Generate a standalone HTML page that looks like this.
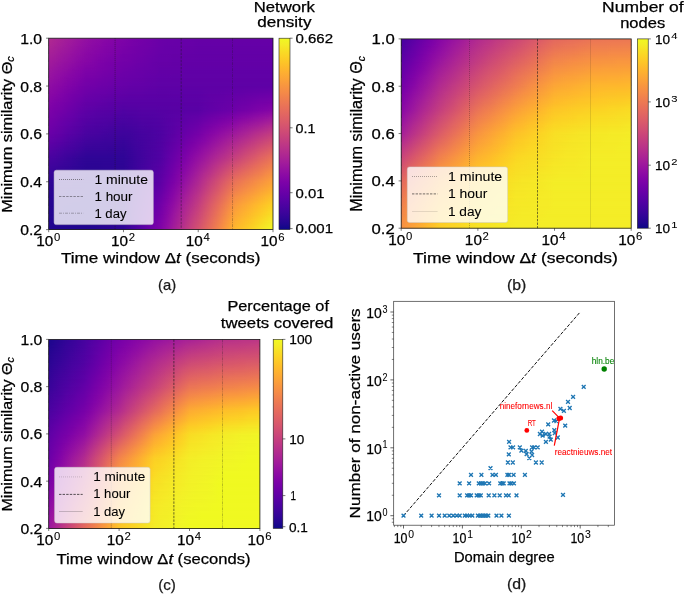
<!DOCTYPE html>
<html><head><meta charset="utf-8"><title>figure</title>
<style>html,body{margin:0;padding:0;background:#fff}svg{display:block;will-change:transform}text{font-family:"Liberation Sans",sans-serif}</style>
</head><body>
<svg width="685" height="594" viewBox="0 0 685 594">
<defs>
<linearGradient id="cb" x1="0" y1="0" x2="0" y2="1"><stop offset="0.0000" stop-color="#f0f921"/><stop offset="0.0312" stop-color="#f4ed27"/><stop offset="0.0625" stop-color="#f8df25"/><stop offset="0.0938" stop-color="#fcd225"/><stop offset="0.1250" stop-color="#fdc527"/><stop offset="0.1562" stop-color="#feb82c"/><stop offset="0.1875" stop-color="#fdac33"/><stop offset="0.2188" stop-color="#fba139"/><stop offset="0.2500" stop-color="#f89540"/><stop offset="0.2812" stop-color="#f58b47"/><stop offset="0.3125" stop-color="#f0804e"/><stop offset="0.3438" stop-color="#eb7655"/><stop offset="0.3750" stop-color="#e66c5c"/><stop offset="0.4062" stop-color="#e06363"/><stop offset="0.4375" stop-color="#da5a6a"/><stop offset="0.4688" stop-color="#d35171"/><stop offset="0.5000" stop-color="#cc4778"/><stop offset="0.5312" stop-color="#c43e7f"/><stop offset="0.5625" stop-color="#bc3587"/><stop offset="0.5938" stop-color="#b32c8e"/><stop offset="0.6250" stop-color="#aa2395"/><stop offset="0.6562" stop-color="#a01a9c"/><stop offset="0.6875" stop-color="#9511a1"/><stop offset="0.7188" stop-color="#8a09a5"/><stop offset="0.7500" stop-color="#7e03a8"/><stop offset="0.7812" stop-color="#7201a8"/><stop offset="0.8125" stop-color="#6600a7"/><stop offset="0.8438" stop-color="#5901a5"/><stop offset="0.8750" stop-color="#4c02a1"/><stop offset="0.9062" stop-color="#3f049c"/><stop offset="0.9375" stop-color="#310597"/><stop offset="0.9688" stop-color="#220690"/><stop offset="1.0000" stop-color="#0d0887"/></linearGradient>
<linearGradient id="vg" x1="0" y1="0" x2="0" y2="1"><stop offset="0" stop-color="#000"/><stop offset="1" stop-color="#fff"/></linearGradient>
<mask id="vm" maskContentUnits="objectBoundingBox"><rect x="-0.1" y="0" width="1.2" height="1" fill="url(#vg)"/></mask>
<linearGradient id="h1r0" gradientUnits="userSpaceOnUse" x1="48.7" x2="273.0" y1="0" y2="0"><stop offset="0.0000" stop-color="#b12a90"/><stop offset="0.0278" stop-color="#ac2694"/><stop offset="0.0556" stop-color="#a72197"/><stop offset="0.0833" stop-color="#a21d9a"/><stop offset="0.1111" stop-color="#9e199d"/><stop offset="0.1389" stop-color="#99159f"/><stop offset="0.1667" stop-color="#9410a2"/><stop offset="0.1944" stop-color="#8f0da4"/><stop offset="0.2222" stop-color="#8d0ba5"/><stop offset="0.2500" stop-color="#8808a6"/><stop offset="0.2778" stop-color="#8606a6"/><stop offset="0.3056" stop-color="#8104a7"/><stop offset="0.3333" stop-color="#7e03a8"/><stop offset="0.3611" stop-color="#7a02a8"/><stop offset="0.3889" stop-color="#7701a8"/><stop offset="0.4167" stop-color="#7401a8"/><stop offset="0.4444" stop-color="#7100a8"/><stop offset="0.4722" stop-color="#6e00a8"/><stop offset="0.5000" stop-color="#6a00a8"/><stop offset="0.5278" stop-color="#6900a8"/><stop offset="0.5556" stop-color="#6900a8"/><stop offset="0.5833" stop-color="#6700a8"/><stop offset="0.6111" stop-color="#6700a8"/><stop offset="0.6389" stop-color="#6700a8"/><stop offset="0.6667" stop-color="#6600a7"/><stop offset="0.6944" stop-color="#6600a7"/><stop offset="0.7222" stop-color="#6600a7"/><stop offset="0.7500" stop-color="#6600a7"/><stop offset="0.7778" stop-color="#6600a7"/><stop offset="0.8056" stop-color="#6600a7"/><stop offset="0.8333" stop-color="#6600a7"/><stop offset="0.8611" stop-color="#6600a7"/><stop offset="0.8889" stop-color="#6600a7"/><stop offset="0.9167" stop-color="#6600a7"/><stop offset="0.9444" stop-color="#6600a7"/><stop offset="0.9722" stop-color="#6600a7"/><stop offset="1.0000" stop-color="#6600a7"/></linearGradient>
<linearGradient id="h1r1" gradientUnits="userSpaceOnUse" x1="48.7" x2="273.0" y1="0" y2="0"><stop offset="0.0000" stop-color="#ac2694"/><stop offset="0.0278" stop-color="#a72197"/><stop offset="0.0556" stop-color="#a21d9a"/><stop offset="0.0833" stop-color="#9e199d"/><stop offset="0.1111" stop-color="#99159f"/><stop offset="0.1389" stop-color="#9410a2"/><stop offset="0.1667" stop-color="#8f0da4"/><stop offset="0.1944" stop-color="#8b0aa5"/><stop offset="0.2222" stop-color="#8808a6"/><stop offset="0.2500" stop-color="#8405a7"/><stop offset="0.2778" stop-color="#8104a7"/><stop offset="0.3056" stop-color="#7d03a8"/><stop offset="0.3333" stop-color="#7a02a8"/><stop offset="0.3611" stop-color="#7701a8"/><stop offset="0.3889" stop-color="#7401a8"/><stop offset="0.4167" stop-color="#7100a8"/><stop offset="0.4444" stop-color="#6f00a8"/><stop offset="0.4722" stop-color="#6c00a8"/><stop offset="0.5000" stop-color="#6900a8"/><stop offset="0.5278" stop-color="#6700a8"/><stop offset="0.5556" stop-color="#6700a8"/><stop offset="0.5833" stop-color="#6700a8"/><stop offset="0.6111" stop-color="#6600a7"/><stop offset="0.6389" stop-color="#6600a7"/><stop offset="0.6667" stop-color="#6400a7"/><stop offset="0.6944" stop-color="#6400a7"/><stop offset="0.7222" stop-color="#6400a7"/><stop offset="0.7500" stop-color="#6400a7"/><stop offset="0.7778" stop-color="#6400a7"/><stop offset="0.8056" stop-color="#6400a7"/><stop offset="0.8333" stop-color="#6400a7"/><stop offset="0.8611" stop-color="#6400a7"/><stop offset="0.8889" stop-color="#6400a7"/><stop offset="0.9167" stop-color="#6400a7"/><stop offset="0.9444" stop-color="#6400a7"/><stop offset="0.9722" stop-color="#6400a7"/><stop offset="1.0000" stop-color="#6400a7"/></linearGradient>
<linearGradient id="h1r2" gradientUnits="userSpaceOnUse" x1="48.7" x2="273.0" y1="0" y2="0"><stop offset="0.0000" stop-color="#a62098"/><stop offset="0.0278" stop-color="#a21d9a"/><stop offset="0.0556" stop-color="#9d189d"/><stop offset="0.0833" stop-color="#99159f"/><stop offset="0.1111" stop-color="#9410a2"/><stop offset="0.1389" stop-color="#8f0da4"/><stop offset="0.1667" stop-color="#8a09a5"/><stop offset="0.1944" stop-color="#8707a6"/><stop offset="0.2222" stop-color="#8405a7"/><stop offset="0.2500" stop-color="#8004a8"/><stop offset="0.2778" stop-color="#7d03a8"/><stop offset="0.3056" stop-color="#7a02a8"/><stop offset="0.3333" stop-color="#7501a8"/><stop offset="0.3611" stop-color="#7401a8"/><stop offset="0.3889" stop-color="#7100a8"/><stop offset="0.4167" stop-color="#6f00a8"/><stop offset="0.4444" stop-color="#6c00a8"/><stop offset="0.4722" stop-color="#6a00a8"/><stop offset="0.5000" stop-color="#6700a8"/><stop offset="0.5278" stop-color="#6700a8"/><stop offset="0.5556" stop-color="#6600a7"/><stop offset="0.5833" stop-color="#6600a7"/><stop offset="0.6111" stop-color="#6400a7"/><stop offset="0.6389" stop-color="#6400a7"/><stop offset="0.6667" stop-color="#6300a7"/><stop offset="0.6944" stop-color="#6300a7"/><stop offset="0.7222" stop-color="#6300a7"/><stop offset="0.7500" stop-color="#6300a7"/><stop offset="0.7778" stop-color="#6300a7"/><stop offset="0.8056" stop-color="#6300a7"/><stop offset="0.8333" stop-color="#6300a7"/><stop offset="0.8611" stop-color="#6300a7"/><stop offset="0.8889" stop-color="#6300a7"/><stop offset="0.9167" stop-color="#6300a7"/><stop offset="0.9444" stop-color="#6300a7"/><stop offset="0.9722" stop-color="#6300a7"/><stop offset="1.0000" stop-color="#6300a7"/></linearGradient>
<linearGradient id="h1r3" gradientUnits="userSpaceOnUse" x1="48.7" x2="273.0" y1="0" y2="0"><stop offset="0.0000" stop-color="#a11b9b"/><stop offset="0.0278" stop-color="#9d189d"/><stop offset="0.0556" stop-color="#9814a0"/><stop offset="0.0833" stop-color="#9410a2"/><stop offset="0.1111" stop-color="#8f0da4"/><stop offset="0.1389" stop-color="#8a09a5"/><stop offset="0.1667" stop-color="#8606a6"/><stop offset="0.1944" stop-color="#8305a7"/><stop offset="0.2222" stop-color="#7e03a8"/><stop offset="0.2500" stop-color="#7b02a8"/><stop offset="0.2778" stop-color="#7801a8"/><stop offset="0.3056" stop-color="#7501a8"/><stop offset="0.3333" stop-color="#7201a8"/><stop offset="0.3611" stop-color="#7100a8"/><stop offset="0.3889" stop-color="#6e00a8"/><stop offset="0.4167" stop-color="#6c00a8"/><stop offset="0.4444" stop-color="#6a00a8"/><stop offset="0.4722" stop-color="#6700a8"/><stop offset="0.5000" stop-color="#6600a7"/><stop offset="0.5278" stop-color="#6600a7"/><stop offset="0.5556" stop-color="#6400a7"/><stop offset="0.5833" stop-color="#6400a7"/><stop offset="0.6111" stop-color="#6300a7"/><stop offset="0.6389" stop-color="#6300a7"/><stop offset="0.6667" stop-color="#6300a7"/><stop offset="0.6944" stop-color="#6300a7"/><stop offset="0.7222" stop-color="#6300a7"/><stop offset="0.7500" stop-color="#6300a7"/><stop offset="0.7778" stop-color="#6300a7"/><stop offset="0.8056" stop-color="#6300a7"/><stop offset="0.8333" stop-color="#6300a7"/><stop offset="0.8611" stop-color="#6300a7"/><stop offset="0.8889" stop-color="#6300a7"/><stop offset="0.9167" stop-color="#6300a7"/><stop offset="0.9444" stop-color="#6300a7"/><stop offset="0.9722" stop-color="#6300a7"/><stop offset="1.0000" stop-color="#6300a7"/></linearGradient>
<linearGradient id="h1r4" gradientUnits="userSpaceOnUse" x1="48.7" x2="273.0" y1="0" y2="0"><stop offset="0.0000" stop-color="#9c179e"/><stop offset="0.0278" stop-color="#9613a1"/><stop offset="0.0556" stop-color="#920fa3"/><stop offset="0.0833" stop-color="#8e0ca4"/><stop offset="0.1111" stop-color="#8808a6"/><stop offset="0.1389" stop-color="#8405a7"/><stop offset="0.1667" stop-color="#7e03a8"/><stop offset="0.1944" stop-color="#7d03a8"/><stop offset="0.2222" stop-color="#7a02a8"/><stop offset="0.2500" stop-color="#7701a8"/><stop offset="0.2778" stop-color="#7401a8"/><stop offset="0.3056" stop-color="#7100a8"/><stop offset="0.3333" stop-color="#6e00a8"/><stop offset="0.3611" stop-color="#6c00a8"/><stop offset="0.3889" stop-color="#6a00a8"/><stop offset="0.4167" stop-color="#6900a8"/><stop offset="0.4444" stop-color="#6700a8"/><stop offset="0.4722" stop-color="#6600a7"/><stop offset="0.5000" stop-color="#6300a7"/><stop offset="0.5278" stop-color="#6300a7"/><stop offset="0.5556" stop-color="#6300a7"/><stop offset="0.5833" stop-color="#6300a7"/><stop offset="0.6111" stop-color="#6100a7"/><stop offset="0.6389" stop-color="#6100a7"/><stop offset="0.6667" stop-color="#6100a7"/><stop offset="0.6944" stop-color="#6100a7"/><stop offset="0.7222" stop-color="#6100a7"/><stop offset="0.7500" stop-color="#6100a7"/><stop offset="0.7778" stop-color="#6100a7"/><stop offset="0.8056" stop-color="#6100a7"/><stop offset="0.8333" stop-color="#6100a7"/><stop offset="0.8611" stop-color="#6100a7"/><stop offset="0.8889" stop-color="#6100a7"/><stop offset="0.9167" stop-color="#6100a7"/><stop offset="0.9444" stop-color="#6100a7"/><stop offset="0.9722" stop-color="#6100a7"/><stop offset="1.0000" stop-color="#6100a7"/></linearGradient>
<linearGradient id="h1r5" gradientUnits="userSpaceOnUse" x1="48.7" x2="273.0" y1="0" y2="0"><stop offset="0.0000" stop-color="#9613a1"/><stop offset="0.0278" stop-color="#910ea3"/><stop offset="0.0556" stop-color="#8d0ba5"/><stop offset="0.0833" stop-color="#8707a6"/><stop offset="0.1111" stop-color="#8305a7"/><stop offset="0.1389" stop-color="#7e03a8"/><stop offset="0.1667" stop-color="#7801a8"/><stop offset="0.1944" stop-color="#7701a8"/><stop offset="0.2222" stop-color="#7401a8"/><stop offset="0.2500" stop-color="#7100a8"/><stop offset="0.2778" stop-color="#6f00a8"/><stop offset="0.3056" stop-color="#6c00a8"/><stop offset="0.3333" stop-color="#6a00a8"/><stop offset="0.3611" stop-color="#6900a8"/><stop offset="0.3889" stop-color="#6700a8"/><stop offset="0.4167" stop-color="#6600a7"/><stop offset="0.4444" stop-color="#6400a7"/><stop offset="0.4722" stop-color="#6300a7"/><stop offset="0.5000" stop-color="#6100a7"/><stop offset="0.5278" stop-color="#6100a7"/><stop offset="0.5556" stop-color="#6001a6"/><stop offset="0.5833" stop-color="#6001a6"/><stop offset="0.6111" stop-color="#6001a6"/><stop offset="0.6389" stop-color="#6001a6"/><stop offset="0.6667" stop-color="#6001a6"/><stop offset="0.6944" stop-color="#6001a6"/><stop offset="0.7222" stop-color="#6001a6"/><stop offset="0.7500" stop-color="#6001a6"/><stop offset="0.7778" stop-color="#6001a6"/><stop offset="0.8056" stop-color="#6001a6"/><stop offset="0.8333" stop-color="#6001a6"/><stop offset="0.8611" stop-color="#6001a6"/><stop offset="0.8889" stop-color="#6001a6"/><stop offset="0.9167" stop-color="#6001a6"/><stop offset="0.9444" stop-color="#6001a6"/><stop offset="0.9722" stop-color="#6001a6"/><stop offset="1.0000" stop-color="#6001a6"/></linearGradient>
<linearGradient id="h1r6" gradientUnits="userSpaceOnUse" x1="48.7" x2="273.0" y1="0" y2="0"><stop offset="0.0000" stop-color="#8f0da4"/><stop offset="0.0278" stop-color="#8b0aa5"/><stop offset="0.0556" stop-color="#8707a6"/><stop offset="0.0833" stop-color="#8104a7"/><stop offset="0.1111" stop-color="#7d03a8"/><stop offset="0.1389" stop-color="#7701a8"/><stop offset="0.1667" stop-color="#7201a8"/><stop offset="0.1944" stop-color="#7100a8"/><stop offset="0.2222" stop-color="#6e00a8"/><stop offset="0.2500" stop-color="#6c00a8"/><stop offset="0.2778" stop-color="#6a00a8"/><stop offset="0.3056" stop-color="#6700a8"/><stop offset="0.3333" stop-color="#6600a7"/><stop offset="0.3611" stop-color="#6400a7"/><stop offset="0.3889" stop-color="#6300a7"/><stop offset="0.4167" stop-color="#6300a7"/><stop offset="0.4444" stop-color="#6100a7"/><stop offset="0.4722" stop-color="#6001a6"/><stop offset="0.5000" stop-color="#5e01a6"/><stop offset="0.5278" stop-color="#5e01a6"/><stop offset="0.5556" stop-color="#5e01a6"/><stop offset="0.5833" stop-color="#5e01a6"/><stop offset="0.6111" stop-color="#5e01a6"/><stop offset="0.6389" stop-color="#5e01a6"/><stop offset="0.6667" stop-color="#5e01a6"/><stop offset="0.6944" stop-color="#5e01a6"/><stop offset="0.7222" stop-color="#5e01a6"/><stop offset="0.7500" stop-color="#5e01a6"/><stop offset="0.7778" stop-color="#5e01a6"/><stop offset="0.8056" stop-color="#5e01a6"/><stop offset="0.8333" stop-color="#5e01a6"/><stop offset="0.8611" stop-color="#5e01a6"/><stop offset="0.8889" stop-color="#5e01a6"/><stop offset="0.9167" stop-color="#5e01a6"/><stop offset="0.9444" stop-color="#5e01a6"/><stop offset="0.9722" stop-color="#5e01a6"/><stop offset="1.0000" stop-color="#5e01a6"/></linearGradient>
<linearGradient id="h1r7" gradientUnits="userSpaceOnUse" x1="48.7" x2="273.0" y1="0" y2="0"><stop offset="0.0000" stop-color="#8a09a5"/><stop offset="0.0278" stop-color="#8606a6"/><stop offset="0.0556" stop-color="#8004a8"/><stop offset="0.0833" stop-color="#7b02a8"/><stop offset="0.1111" stop-color="#7501a8"/><stop offset="0.1389" stop-color="#7100a8"/><stop offset="0.1667" stop-color="#6c00a8"/><stop offset="0.1944" stop-color="#6900a8"/><stop offset="0.2222" stop-color="#6700a8"/><stop offset="0.2500" stop-color="#6600a7"/><stop offset="0.2778" stop-color="#6300a7"/><stop offset="0.3056" stop-color="#6100a7"/><stop offset="0.3333" stop-color="#6001a6"/><stop offset="0.3611" stop-color="#5e01a6"/><stop offset="0.3889" stop-color="#5e01a6"/><stop offset="0.4167" stop-color="#5e01a6"/><stop offset="0.4444" stop-color="#5c01a6"/><stop offset="0.4722" stop-color="#5c01a6"/><stop offset="0.5000" stop-color="#5b01a5"/><stop offset="0.5278" stop-color="#5b01a5"/><stop offset="0.5556" stop-color="#5c01a6"/><stop offset="0.5833" stop-color="#5c01a6"/><stop offset="0.6111" stop-color="#5c01a6"/><stop offset="0.6389" stop-color="#5c01a6"/><stop offset="0.6667" stop-color="#5c01a6"/><stop offset="0.6944" stop-color="#5e01a6"/><stop offset="0.7222" stop-color="#6001a6"/><stop offset="0.7500" stop-color="#6001a6"/><stop offset="0.7778" stop-color="#6100a7"/><stop offset="0.8056" stop-color="#6300a7"/><stop offset="0.8333" stop-color="#6300a7"/><stop offset="0.8611" stop-color="#6400a7"/><stop offset="0.8889" stop-color="#6600a7"/><stop offset="0.9167" stop-color="#6700a8"/><stop offset="0.9444" stop-color="#6900a8"/><stop offset="0.9722" stop-color="#6a00a8"/><stop offset="1.0000" stop-color="#6c00a8"/></linearGradient>
<linearGradient id="h1r8" gradientUnits="userSpaceOnUse" x1="48.7" x2="273.0" y1="0" y2="0"><stop offset="0.0000" stop-color="#8405a7"/><stop offset="0.0278" stop-color="#7e03a8"/><stop offset="0.0556" stop-color="#7a02a8"/><stop offset="0.0833" stop-color="#7501a8"/><stop offset="0.1111" stop-color="#6f00a8"/><stop offset="0.1389" stop-color="#6a00a8"/><stop offset="0.1667" stop-color="#6400a7"/><stop offset="0.1944" stop-color="#6300a7"/><stop offset="0.2222" stop-color="#6100a7"/><stop offset="0.2500" stop-color="#5e01a6"/><stop offset="0.2778" stop-color="#5c01a6"/><stop offset="0.3056" stop-color="#5b01a5"/><stop offset="0.3333" stop-color="#5901a5"/><stop offset="0.3611" stop-color="#5901a5"/><stop offset="0.3889" stop-color="#5901a5"/><stop offset="0.4167" stop-color="#5901a5"/><stop offset="0.4444" stop-color="#5901a5"/><stop offset="0.4722" stop-color="#5901a5"/><stop offset="0.5000" stop-color="#5901a5"/><stop offset="0.5278" stop-color="#5901a5"/><stop offset="0.5556" stop-color="#5901a5"/><stop offset="0.5833" stop-color="#5901a5"/><stop offset="0.6111" stop-color="#5b01a5"/><stop offset="0.6389" stop-color="#5b01a5"/><stop offset="0.6667" stop-color="#5b01a5"/><stop offset="0.6944" stop-color="#5e01a6"/><stop offset="0.7222" stop-color="#6001a6"/><stop offset="0.7500" stop-color="#6300a7"/><stop offset="0.7778" stop-color="#6400a7"/><stop offset="0.8056" stop-color="#6600a7"/><stop offset="0.8333" stop-color="#6900a8"/><stop offset="0.8611" stop-color="#6c00a8"/><stop offset="0.8889" stop-color="#6e00a8"/><stop offset="0.9167" stop-color="#7100a8"/><stop offset="0.9444" stop-color="#7401a8"/><stop offset="0.9722" stop-color="#7501a8"/><stop offset="1.0000" stop-color="#7801a8"/></linearGradient>
<linearGradient id="h1r9" gradientUnits="userSpaceOnUse" x1="48.7" x2="273.0" y1="0" y2="0"><stop offset="0.0000" stop-color="#7d03a8"/><stop offset="0.0278" stop-color="#7801a8"/><stop offset="0.0556" stop-color="#7401a8"/><stop offset="0.0833" stop-color="#6e00a8"/><stop offset="0.1111" stop-color="#6900a8"/><stop offset="0.1389" stop-color="#6300a7"/><stop offset="0.1667" stop-color="#5e01a6"/><stop offset="0.1944" stop-color="#5c01a6"/><stop offset="0.2222" stop-color="#5901a5"/><stop offset="0.2500" stop-color="#5801a4"/><stop offset="0.2778" stop-color="#5601a4"/><stop offset="0.3056" stop-color="#5502a4"/><stop offset="0.3333" stop-color="#5102a3"/><stop offset="0.3611" stop-color="#5302a3"/><stop offset="0.3889" stop-color="#5302a3"/><stop offset="0.4167" stop-color="#5502a4"/><stop offset="0.4444" stop-color="#5502a4"/><stop offset="0.4722" stop-color="#5502a4"/><stop offset="0.5000" stop-color="#5601a4"/><stop offset="0.5278" stop-color="#5601a4"/><stop offset="0.5556" stop-color="#5801a4"/><stop offset="0.5833" stop-color="#5801a4"/><stop offset="0.6111" stop-color="#5901a5"/><stop offset="0.6389" stop-color="#5901a5"/><stop offset="0.6667" stop-color="#5901a5"/><stop offset="0.6944" stop-color="#5e01a6"/><stop offset="0.7222" stop-color="#6100a7"/><stop offset="0.7500" stop-color="#6400a7"/><stop offset="0.7778" stop-color="#6700a8"/><stop offset="0.8056" stop-color="#6a00a8"/><stop offset="0.8333" stop-color="#6e00a8"/><stop offset="0.8611" stop-color="#7201a8"/><stop offset="0.8889" stop-color="#7501a8"/><stop offset="0.9167" stop-color="#7a02a8"/><stop offset="0.9444" stop-color="#7e03a8"/><stop offset="0.9722" stop-color="#8104a7"/><stop offset="1.0000" stop-color="#8606a6"/></linearGradient>
<linearGradient id="h1r10" gradientUnits="userSpaceOnUse" x1="48.7" x2="273.0" y1="0" y2="0"><stop offset="0.0000" stop-color="#7701a8"/><stop offset="0.0278" stop-color="#7201a8"/><stop offset="0.0556" stop-color="#6c00a8"/><stop offset="0.0833" stop-color="#6700a8"/><stop offset="0.1111" stop-color="#6300a7"/><stop offset="0.1389" stop-color="#5c01a6"/><stop offset="0.1667" stop-color="#5801a4"/><stop offset="0.1944" stop-color="#5502a4"/><stop offset="0.2222" stop-color="#5302a3"/><stop offset="0.2500" stop-color="#5102a3"/><stop offset="0.2778" stop-color="#5002a2"/><stop offset="0.3056" stop-color="#4c02a1"/><stop offset="0.3333" stop-color="#4b03a1"/><stop offset="0.3611" stop-color="#4c02a1"/><stop offset="0.3889" stop-color="#4e02a2"/><stop offset="0.4167" stop-color="#5002a2"/><stop offset="0.4444" stop-color="#5002a2"/><stop offset="0.4722" stop-color="#5102a3"/><stop offset="0.5000" stop-color="#5302a3"/><stop offset="0.5278" stop-color="#5601a4"/><stop offset="0.5556" stop-color="#5901a5"/><stop offset="0.5833" stop-color="#5b01a5"/><stop offset="0.6111" stop-color="#5e01a6"/><stop offset="0.6389" stop-color="#6100a7"/><stop offset="0.6667" stop-color="#6300a7"/><stop offset="0.6944" stop-color="#6900a8"/><stop offset="0.7222" stop-color="#6e00a8"/><stop offset="0.7500" stop-color="#7201a8"/><stop offset="0.7778" stop-color="#7701a8"/><stop offset="0.8056" stop-color="#7b02a8"/><stop offset="0.8333" stop-color="#8004a8"/><stop offset="0.8611" stop-color="#8606a6"/><stop offset="0.8889" stop-color="#8a09a5"/><stop offset="0.9167" stop-color="#8f0da4"/><stop offset="0.9444" stop-color="#9410a2"/><stop offset="0.9722" stop-color="#9814a0"/><stop offset="1.0000" stop-color="#9d189d"/></linearGradient>
<linearGradient id="h1r11" gradientUnits="userSpaceOnUse" x1="48.7" x2="273.0" y1="0" y2="0"><stop offset="0.0000" stop-color="#7100a8"/><stop offset="0.0278" stop-color="#6c00a8"/><stop offset="0.0556" stop-color="#6600a7"/><stop offset="0.0833" stop-color="#6100a7"/><stop offset="0.1111" stop-color="#5b01a5"/><stop offset="0.1389" stop-color="#5601a4"/><stop offset="0.1667" stop-color="#5002a2"/><stop offset="0.1944" stop-color="#4e02a2"/><stop offset="0.2222" stop-color="#4c02a1"/><stop offset="0.2500" stop-color="#4b03a1"/><stop offset="0.2778" stop-color="#48039f"/><stop offset="0.3056" stop-color="#46039f"/><stop offset="0.3333" stop-color="#44039e"/><stop offset="0.3611" stop-color="#46039f"/><stop offset="0.3889" stop-color="#48039f"/><stop offset="0.4167" stop-color="#4b03a1"/><stop offset="0.4444" stop-color="#4c02a1"/><stop offset="0.4722" stop-color="#4e02a2"/><stop offset="0.5000" stop-color="#5002a2"/><stop offset="0.5278" stop-color="#5502a4"/><stop offset="0.5556" stop-color="#5901a5"/><stop offset="0.5833" stop-color="#5e01a6"/><stop offset="0.6111" stop-color="#6300a7"/><stop offset="0.6389" stop-color="#6700a8"/><stop offset="0.6667" stop-color="#6c00a8"/><stop offset="0.6944" stop-color="#7401a8"/><stop offset="0.7222" stop-color="#7a02a8"/><stop offset="0.7500" stop-color="#8004a8"/><stop offset="0.7778" stop-color="#8606a6"/><stop offset="0.8056" stop-color="#8b0aa5"/><stop offset="0.8333" stop-color="#910ea3"/><stop offset="0.8611" stop-color="#9814a0"/><stop offset="0.8889" stop-color="#9d189d"/><stop offset="0.9167" stop-color="#a21d9a"/><stop offset="0.9444" stop-color="#a72197"/><stop offset="0.9722" stop-color="#ad2793"/><stop offset="1.0000" stop-color="#b22b8f"/></linearGradient>
<linearGradient id="h1r12" gradientUnits="userSpaceOnUse" x1="48.7" x2="273.0" y1="0" y2="0"><stop offset="0.0000" stop-color="#6a00a8"/><stop offset="0.0278" stop-color="#6400a7"/><stop offset="0.0556" stop-color="#6001a6"/><stop offset="0.0833" stop-color="#5901a5"/><stop offset="0.1111" stop-color="#5502a4"/><stop offset="0.1389" stop-color="#5002a2"/><stop offset="0.1667" stop-color="#4903a0"/><stop offset="0.1944" stop-color="#48039f"/><stop offset="0.2222" stop-color="#46039f"/><stop offset="0.2500" stop-color="#43039e"/><stop offset="0.2778" stop-color="#41049d"/><stop offset="0.3056" stop-color="#3f049c"/><stop offset="0.3333" stop-color="#3e049c"/><stop offset="0.3611" stop-color="#3f049c"/><stop offset="0.3889" stop-color="#43039e"/><stop offset="0.4167" stop-color="#46039f"/><stop offset="0.4444" stop-color="#48039f"/><stop offset="0.4722" stop-color="#4b03a1"/><stop offset="0.5000" stop-color="#4e02a2"/><stop offset="0.5278" stop-color="#5502a4"/><stop offset="0.5556" stop-color="#5b01a5"/><stop offset="0.5833" stop-color="#6300a7"/><stop offset="0.6111" stop-color="#6900a8"/><stop offset="0.6389" stop-color="#6f00a8"/><stop offset="0.6667" stop-color="#7501a8"/><stop offset="0.6944" stop-color="#7e03a8"/><stop offset="0.7222" stop-color="#8606a6"/><stop offset="0.7500" stop-color="#8d0ba5"/><stop offset="0.7778" stop-color="#9410a2"/><stop offset="0.8056" stop-color="#9a169f"/><stop offset="0.8333" stop-color="#a11b9b"/><stop offset="0.8611" stop-color="#a72197"/><stop offset="0.8889" stop-color="#ad2793"/><stop offset="0.9167" stop-color="#b42e8d"/><stop offset="0.9444" stop-color="#ba3388"/><stop offset="0.9722" stop-color="#bf3984"/><stop offset="1.0000" stop-color="#c43e7f"/></linearGradient>
<linearGradient id="h1r13" gradientUnits="userSpaceOnUse" x1="48.7" x2="273.0" y1="0" y2="0"><stop offset="0.0000" stop-color="#6001a6"/><stop offset="0.0278" stop-color="#5b01a5"/><stop offset="0.0556" stop-color="#5601a4"/><stop offset="0.0833" stop-color="#5002a2"/><stop offset="0.1111" stop-color="#4b03a1"/><stop offset="0.1389" stop-color="#46039f"/><stop offset="0.1667" stop-color="#41049d"/><stop offset="0.1944" stop-color="#3f049c"/><stop offset="0.2222" stop-color="#3e049c"/><stop offset="0.2500" stop-color="#3c049b"/><stop offset="0.2778" stop-color="#3c049b"/><stop offset="0.3056" stop-color="#3a049a"/><stop offset="0.3333" stop-color="#38049a"/><stop offset="0.3611" stop-color="#3c049b"/><stop offset="0.3889" stop-color="#41049d"/><stop offset="0.4167" stop-color="#44039e"/><stop offset="0.4444" stop-color="#48039f"/><stop offset="0.4722" stop-color="#4b03a1"/><stop offset="0.5000" stop-color="#5002a2"/><stop offset="0.5278" stop-color="#5801a4"/><stop offset="0.5556" stop-color="#6001a6"/><stop offset="0.5833" stop-color="#6700a8"/><stop offset="0.6111" stop-color="#7100a8"/><stop offset="0.6389" stop-color="#7801a8"/><stop offset="0.6667" stop-color="#8004a8"/><stop offset="0.6944" stop-color="#8808a6"/><stop offset="0.7222" stop-color="#910ea3"/><stop offset="0.7500" stop-color="#99159f"/><stop offset="0.7778" stop-color="#a11b9b"/><stop offset="0.8056" stop-color="#a82296"/><stop offset="0.8333" stop-color="#ae2892"/><stop offset="0.8611" stop-color="#b52f8c"/><stop offset="0.8889" stop-color="#bc3587"/><stop offset="0.9167" stop-color="#c23c81"/><stop offset="0.9444" stop-color="#c8437b"/><stop offset="0.9722" stop-color="#cd4a76"/><stop offset="1.0000" stop-color="#d24f71"/></linearGradient>
<linearGradient id="h1r14" gradientUnits="userSpaceOnUse" x1="48.7" x2="273.0" y1="0" y2="0"><stop offset="0.0000" stop-color="#5502a4"/><stop offset="0.0278" stop-color="#5002a2"/><stop offset="0.0556" stop-color="#4b03a1"/><stop offset="0.0833" stop-color="#46039f"/><stop offset="0.1111" stop-color="#43039e"/><stop offset="0.1389" stop-color="#3e049c"/><stop offset="0.1667" stop-color="#38049a"/><stop offset="0.1944" stop-color="#370499"/><stop offset="0.2222" stop-color="#370499"/><stop offset="0.2500" stop-color="#370499"/><stop offset="0.2778" stop-color="#350498"/><stop offset="0.3056" stop-color="#350498"/><stop offset="0.3333" stop-color="#330597"/><stop offset="0.3611" stop-color="#38049a"/><stop offset="0.3889" stop-color="#3e049c"/><stop offset="0.4167" stop-color="#43039e"/><stop offset="0.4444" stop-color="#48039f"/><stop offset="0.4722" stop-color="#4c02a1"/><stop offset="0.5000" stop-color="#5102a3"/><stop offset="0.5278" stop-color="#5b01a5"/><stop offset="0.5556" stop-color="#6400a7"/><stop offset="0.5833" stop-color="#6e00a8"/><stop offset="0.6111" stop-color="#7801a8"/><stop offset="0.6389" stop-color="#8104a7"/><stop offset="0.6667" stop-color="#8a09a5"/><stop offset="0.6944" stop-color="#9410a2"/><stop offset="0.7222" stop-color="#9c179e"/><stop offset="0.7500" stop-color="#a51f99"/><stop offset="0.7778" stop-color="#ac2694"/><stop offset="0.8056" stop-color="#b42e8d"/><stop offset="0.8333" stop-color="#bb3488"/><stop offset="0.8611" stop-color="#c23c81"/><stop offset="0.8889" stop-color="#c9447a"/><stop offset="0.9167" stop-color="#ce4b75"/><stop offset="0.9444" stop-color="#d5536f"/><stop offset="0.9722" stop-color="#da5a6a"/><stop offset="1.0000" stop-color="#df6263"/></linearGradient>
<linearGradient id="h1r15" gradientUnits="userSpaceOnUse" x1="48.7" x2="273.0" y1="0" y2="0"><stop offset="0.0000" stop-color="#4903a0"/><stop offset="0.0278" stop-color="#46039f"/><stop offset="0.0556" stop-color="#41049d"/><stop offset="0.0833" stop-color="#3c049b"/><stop offset="0.1111" stop-color="#38049a"/><stop offset="0.1389" stop-color="#330597"/><stop offset="0.1667" stop-color="#2f0596"/><stop offset="0.1944" stop-color="#2f0596"/><stop offset="0.2222" stop-color="#2f0596"/><stop offset="0.2500" stop-color="#2f0596"/><stop offset="0.2778" stop-color="#2f0596"/><stop offset="0.3056" stop-color="#2f0596"/><stop offset="0.3333" stop-color="#2f0596"/><stop offset="0.3611" stop-color="#350498"/><stop offset="0.3889" stop-color="#3c049b"/><stop offset="0.4167" stop-color="#41049d"/><stop offset="0.4444" stop-color="#48039f"/><stop offset="0.4722" stop-color="#4c02a1"/><stop offset="0.5000" stop-color="#5102a3"/><stop offset="0.5278" stop-color="#5e01a6"/><stop offset="0.5556" stop-color="#6900a8"/><stop offset="0.5833" stop-color="#7401a8"/><stop offset="0.6111" stop-color="#7e03a8"/><stop offset="0.6389" stop-color="#8a09a5"/><stop offset="0.6667" stop-color="#9410a2"/><stop offset="0.6944" stop-color="#9d189d"/><stop offset="0.7222" stop-color="#a72197"/><stop offset="0.7500" stop-color="#b02991"/><stop offset="0.7778" stop-color="#b7318a"/><stop offset="0.8056" stop-color="#bf3984"/><stop offset="0.8333" stop-color="#c7427c"/><stop offset="0.8611" stop-color="#cd4a76"/><stop offset="0.8889" stop-color="#d45270"/><stop offset="0.9167" stop-color="#da5a6a"/><stop offset="0.9444" stop-color="#e06363"/><stop offset="0.9722" stop-color="#e56b5d"/><stop offset="1.0000" stop-color="#ea7457"/></linearGradient>
<linearGradient id="h1r16" gradientUnits="userSpaceOnUse" x1="48.7" x2="273.0" y1="0" y2="0"><stop offset="0.0000" stop-color="#41049d"/><stop offset="0.0278" stop-color="#3e049c"/><stop offset="0.0556" stop-color="#3a049a"/><stop offset="0.0833" stop-color="#370499"/><stop offset="0.1111" stop-color="#330597"/><stop offset="0.1389" stop-color="#2f0596"/><stop offset="0.1667" stop-color="#2c0594"/><stop offset="0.1944" stop-color="#2c0594"/><stop offset="0.2222" stop-color="#2c0594"/><stop offset="0.2500" stop-color="#2e0595"/><stop offset="0.2778" stop-color="#2e0595"/><stop offset="0.3056" stop-color="#2e0595"/><stop offset="0.3333" stop-color="#2e0595"/><stop offset="0.3611" stop-color="#350498"/><stop offset="0.3889" stop-color="#3c049b"/><stop offset="0.4167" stop-color="#43039e"/><stop offset="0.4444" stop-color="#4903a0"/><stop offset="0.4722" stop-color="#5002a2"/><stop offset="0.5000" stop-color="#5601a4"/><stop offset="0.5278" stop-color="#6300a7"/><stop offset="0.5556" stop-color="#6f00a8"/><stop offset="0.5833" stop-color="#7b02a8"/><stop offset="0.6111" stop-color="#8707a6"/><stop offset="0.6389" stop-color="#920fa3"/><stop offset="0.6667" stop-color="#9d189d"/><stop offset="0.6944" stop-color="#a72197"/><stop offset="0.7222" stop-color="#b22b8f"/><stop offset="0.7500" stop-color="#bc3587"/><stop offset="0.7778" stop-color="#c43e7f"/><stop offset="0.8056" stop-color="#cc4977"/><stop offset="0.8333" stop-color="#d45270"/><stop offset="0.8611" stop-color="#da5a6a"/><stop offset="0.8889" stop-color="#df6263"/><stop offset="0.9167" stop-color="#e56a5d"/><stop offset="0.9444" stop-color="#e97257"/><stop offset="0.9722" stop-color="#ed7a52"/><stop offset="1.0000" stop-color="#f1834c"/></linearGradient>
<linearGradient id="h1r17" gradientUnits="userSpaceOnUse" x1="48.7" x2="273.0" y1="0" y2="0"><stop offset="0.0000" stop-color="#38049a"/><stop offset="0.0278" stop-color="#350498"/><stop offset="0.0556" stop-color="#330597"/><stop offset="0.0833" stop-color="#310597"/><stop offset="0.1111" stop-color="#2e0595"/><stop offset="0.1389" stop-color="#2c0594"/><stop offset="0.1667" stop-color="#280592"/><stop offset="0.1944" stop-color="#2a0593"/><stop offset="0.2222" stop-color="#2a0593"/><stop offset="0.2500" stop-color="#2a0593"/><stop offset="0.2778" stop-color="#2c0594"/><stop offset="0.3056" stop-color="#2c0594"/><stop offset="0.3333" stop-color="#2c0594"/><stop offset="0.3611" stop-color="#350498"/><stop offset="0.3889" stop-color="#3c049b"/><stop offset="0.4167" stop-color="#44039e"/><stop offset="0.4444" stop-color="#4b03a1"/><stop offset="0.4722" stop-color="#5302a3"/><stop offset="0.5000" stop-color="#5b01a5"/><stop offset="0.5278" stop-color="#6700a8"/><stop offset="0.5556" stop-color="#7501a8"/><stop offset="0.5833" stop-color="#8305a7"/><stop offset="0.6111" stop-color="#8e0ca4"/><stop offset="0.6389" stop-color="#9a169f"/><stop offset="0.6667" stop-color="#a62098"/><stop offset="0.6944" stop-color="#b22b8f"/><stop offset="0.7222" stop-color="#bc3587"/><stop offset="0.7500" stop-color="#c6417d"/><stop offset="0.7778" stop-color="#cf4c74"/><stop offset="0.8056" stop-color="#d8576b"/><stop offset="0.8333" stop-color="#e06363"/><stop offset="0.8611" stop-color="#e56a5d"/><stop offset="0.8889" stop-color="#e97257"/><stop offset="0.9167" stop-color="#ed7a52"/><stop offset="0.9444" stop-color="#f1814d"/><stop offset="0.9722" stop-color="#f58b47"/><stop offset="1.0000" stop-color="#f79342"/></linearGradient>
<linearGradient id="h1r18" gradientUnits="userSpaceOnUse" x1="48.7" x2="273.0" y1="0" y2="0"><stop offset="0.0000" stop-color="#2f0596"/><stop offset="0.0278" stop-color="#2e0595"/><stop offset="0.0556" stop-color="#2c0594"/><stop offset="0.0833" stop-color="#2a0593"/><stop offset="0.1111" stop-color="#280592"/><stop offset="0.1389" stop-color="#280592"/><stop offset="0.1667" stop-color="#260591"/><stop offset="0.1944" stop-color="#260591"/><stop offset="0.2222" stop-color="#280592"/><stop offset="0.2500" stop-color="#280592"/><stop offset="0.2778" stop-color="#280592"/><stop offset="0.3056" stop-color="#2a0593"/><stop offset="0.3333" stop-color="#2a0593"/><stop offset="0.3611" stop-color="#330597"/><stop offset="0.3889" stop-color="#3e049c"/><stop offset="0.4167" stop-color="#46039f"/><stop offset="0.4444" stop-color="#4e02a2"/><stop offset="0.4722" stop-color="#5601a4"/><stop offset="0.5000" stop-color="#5e01a6"/><stop offset="0.5278" stop-color="#6e00a8"/><stop offset="0.5556" stop-color="#7b02a8"/><stop offset="0.5833" stop-color="#8808a6"/><stop offset="0.6111" stop-color="#9613a1"/><stop offset="0.6389" stop-color="#a21d9a"/><stop offset="0.6667" stop-color="#ae2892"/><stop offset="0.6944" stop-color="#bb3488"/><stop offset="0.7222" stop-color="#c6417d"/><stop offset="0.7500" stop-color="#d04d73"/><stop offset="0.7778" stop-color="#da5a6a"/><stop offset="0.8056" stop-color="#e26660"/><stop offset="0.8333" stop-color="#ea7457"/><stop offset="0.8611" stop-color="#ee7b51"/><stop offset="0.8889" stop-color="#f1834c"/><stop offset="0.9167" stop-color="#f58b47"/><stop offset="0.9444" stop-color="#f79342"/><stop offset="0.9722" stop-color="#fa9b3d"/><stop offset="1.0000" stop-color="#fca338"/></linearGradient>
<linearGradient id="h1r19" gradientUnits="userSpaceOnUse" x1="48.7" x2="273.0" y1="0" y2="0"><stop offset="0.0000" stop-color="#2c0594"/><stop offset="0.0278" stop-color="#2a0593"/><stop offset="0.0556" stop-color="#2a0593"/><stop offset="0.0833" stop-color="#280592"/><stop offset="0.1111" stop-color="#260591"/><stop offset="0.1389" stop-color="#260591"/><stop offset="0.1667" stop-color="#240691"/><stop offset="0.1944" stop-color="#240691"/><stop offset="0.2222" stop-color="#260591"/><stop offset="0.2500" stop-color="#280592"/><stop offset="0.2778" stop-color="#280592"/><stop offset="0.3056" stop-color="#2a0593"/><stop offset="0.3333" stop-color="#2a0593"/><stop offset="0.3611" stop-color="#350498"/><stop offset="0.3889" stop-color="#3f049c"/><stop offset="0.4167" stop-color="#4903a0"/><stop offset="0.4444" stop-color="#5302a3"/><stop offset="0.4722" stop-color="#5c01a6"/><stop offset="0.5000" stop-color="#6400a7"/><stop offset="0.5278" stop-color="#7401a8"/><stop offset="0.5556" stop-color="#8305a7"/><stop offset="0.5833" stop-color="#910ea3"/><stop offset="0.6111" stop-color="#9e199d"/><stop offset="0.6389" stop-color="#ab2494"/><stop offset="0.6667" stop-color="#b52f8c"/><stop offset="0.6944" stop-color="#c23c81"/><stop offset="0.7222" stop-color="#cd4a76"/><stop offset="0.7500" stop-color="#d7566c"/><stop offset="0.7778" stop-color="#e16462"/><stop offset="0.8056" stop-color="#e97257"/><stop offset="0.8333" stop-color="#f0804e"/><stop offset="0.8611" stop-color="#f48849"/><stop offset="0.8889" stop-color="#f79044"/><stop offset="0.9167" stop-color="#f9983e"/><stop offset="0.9444" stop-color="#fba139"/><stop offset="0.9722" stop-color="#fca934"/><stop offset="1.0000" stop-color="#fdb22f"/></linearGradient>
<linearGradient id="h1r20" gradientUnits="userSpaceOnUse" x1="48.7" x2="273.0" y1="0" y2="0"><stop offset="0.0000" stop-color="#280592"/><stop offset="0.0278" stop-color="#280592"/><stop offset="0.0556" stop-color="#260591"/><stop offset="0.0833" stop-color="#260591"/><stop offset="0.1111" stop-color="#240691"/><stop offset="0.1389" stop-color="#240691"/><stop offset="0.1667" stop-color="#220690"/><stop offset="0.1944" stop-color="#240691"/><stop offset="0.2222" stop-color="#240691"/><stop offset="0.2500" stop-color="#260591"/><stop offset="0.2778" stop-color="#280592"/><stop offset="0.3056" stop-color="#2a0593"/><stop offset="0.3333" stop-color="#2a0593"/><stop offset="0.3611" stop-color="#370499"/><stop offset="0.3889" stop-color="#41049d"/><stop offset="0.4167" stop-color="#4c02a1"/><stop offset="0.4444" stop-color="#5801a4"/><stop offset="0.4722" stop-color="#6100a7"/><stop offset="0.5000" stop-color="#6c00a8"/><stop offset="0.5278" stop-color="#7b02a8"/><stop offset="0.5556" stop-color="#8a09a5"/><stop offset="0.5833" stop-color="#9814a0"/><stop offset="0.6111" stop-color="#a62098"/><stop offset="0.6389" stop-color="#b22b8f"/><stop offset="0.6667" stop-color="#bd3786"/><stop offset="0.6944" stop-color="#ca457a"/><stop offset="0.7222" stop-color="#d5536f"/><stop offset="0.7500" stop-color="#de6164"/><stop offset="0.7778" stop-color="#e76f5a"/><stop offset="0.8056" stop-color="#f07f4f"/><stop offset="0.8333" stop-color="#f68f44"/><stop offset="0.8611" stop-color="#f9973f"/><stop offset="0.8889" stop-color="#fb9f3a"/><stop offset="0.9167" stop-color="#fca835"/><stop offset="0.9444" stop-color="#fdb130"/><stop offset="0.9722" stop-color="#feba2c"/><stop offset="1.0000" stop-color="#fdc328"/></linearGradient>
<linearGradient id="h1r21" gradientUnits="userSpaceOnUse" x1="48.7" x2="273.0" y1="0" y2="0"><stop offset="0.0000" stop-color="#260591"/><stop offset="0.0278" stop-color="#240691"/><stop offset="0.0556" stop-color="#240691"/><stop offset="0.0833" stop-color="#220690"/><stop offset="0.1111" stop-color="#220690"/><stop offset="0.1389" stop-color="#220690"/><stop offset="0.1667" stop-color="#20068f"/><stop offset="0.1944" stop-color="#220690"/><stop offset="0.2222" stop-color="#240691"/><stop offset="0.2500" stop-color="#260591"/><stop offset="0.2778" stop-color="#280592"/><stop offset="0.3056" stop-color="#280592"/><stop offset="0.3333" stop-color="#2a0593"/><stop offset="0.3611" stop-color="#38049a"/><stop offset="0.3889" stop-color="#44039e"/><stop offset="0.4167" stop-color="#5002a2"/><stop offset="0.4444" stop-color="#5b01a5"/><stop offset="0.4722" stop-color="#6700a8"/><stop offset="0.5000" stop-color="#7201a8"/><stop offset="0.5278" stop-color="#8305a7"/><stop offset="0.5556" stop-color="#910ea3"/><stop offset="0.5833" stop-color="#a01a9c"/><stop offset="0.6111" stop-color="#ad2793"/><stop offset="0.6389" stop-color="#b83289"/><stop offset="0.6667" stop-color="#c43e7f"/><stop offset="0.6944" stop-color="#d04d73"/><stop offset="0.7222" stop-color="#db5c68"/><stop offset="0.7500" stop-color="#e56a5d"/><stop offset="0.7778" stop-color="#ed7a52"/><stop offset="0.8056" stop-color="#f58b47"/><stop offset="0.8333" stop-color="#fa9c3c"/><stop offset="0.8611" stop-color="#fca537"/><stop offset="0.8889" stop-color="#fdae32"/><stop offset="0.9167" stop-color="#feb72d"/><stop offset="0.9444" stop-color="#fec029"/><stop offset="0.9722" stop-color="#fdca26"/><stop offset="1.0000" stop-color="#fbd324"/></linearGradient>
<linearGradient id="h1r22" gradientUnits="userSpaceOnUse" x1="48.7" x2="273.0" y1="0" y2="0"><stop offset="0.0000" stop-color="#240691"/><stop offset="0.0278" stop-color="#240691"/><stop offset="0.0556" stop-color="#220690"/><stop offset="0.0833" stop-color="#220690"/><stop offset="0.1111" stop-color="#220690"/><stop offset="0.1389" stop-color="#20068f"/><stop offset="0.1667" stop-color="#20068f"/><stop offset="0.1944" stop-color="#220690"/><stop offset="0.2222" stop-color="#240691"/><stop offset="0.2500" stop-color="#260591"/><stop offset="0.2778" stop-color="#280592"/><stop offset="0.3056" stop-color="#2a0593"/><stop offset="0.3333" stop-color="#2c0594"/><stop offset="0.3611" stop-color="#3a049a"/><stop offset="0.3889" stop-color="#48039f"/><stop offset="0.4167" stop-color="#5302a3"/><stop offset="0.4444" stop-color="#6001a6"/><stop offset="0.4722" stop-color="#6c00a8"/><stop offset="0.5000" stop-color="#7701a8"/><stop offset="0.5278" stop-color="#8707a6"/><stop offset="0.5556" stop-color="#9814a0"/><stop offset="0.5833" stop-color="#a62098"/><stop offset="0.6111" stop-color="#b32c8e"/><stop offset="0.6389" stop-color="#bf3984"/><stop offset="0.6667" stop-color="#ca457a"/><stop offset="0.6944" stop-color="#d5546e"/><stop offset="0.7222" stop-color="#e06363"/><stop offset="0.7500" stop-color="#e97257"/><stop offset="0.7778" stop-color="#f1834c"/><stop offset="0.8056" stop-color="#f89441"/><stop offset="0.8333" stop-color="#fca636"/><stop offset="0.8611" stop-color="#fdaf31"/><stop offset="0.8889" stop-color="#feb82c"/><stop offset="0.9167" stop-color="#fdc229"/><stop offset="0.9444" stop-color="#fdcb26"/><stop offset="0.9722" stop-color="#fbd524"/><stop offset="1.0000" stop-color="#f8df25"/></linearGradient>
<linearGradient id="h1r23" gradientUnits="userSpaceOnUse" x1="48.7" x2="273.0" y1="0" y2="0"><stop offset="0.0000" stop-color="#220690"/><stop offset="0.0278" stop-color="#220690"/><stop offset="0.0556" stop-color="#220690"/><stop offset="0.0833" stop-color="#220690"/><stop offset="0.1111" stop-color="#20068f"/><stop offset="0.1389" stop-color="#20068f"/><stop offset="0.1667" stop-color="#20068f"/><stop offset="0.1944" stop-color="#220690"/><stop offset="0.2222" stop-color="#240691"/><stop offset="0.2500" stop-color="#280592"/><stop offset="0.2778" stop-color="#2a0593"/><stop offset="0.3056" stop-color="#2c0594"/><stop offset="0.3333" stop-color="#2e0595"/><stop offset="0.3611" stop-color="#3c049b"/><stop offset="0.3889" stop-color="#4903a0"/><stop offset="0.4167" stop-color="#5601a4"/><stop offset="0.4444" stop-color="#6400a7"/><stop offset="0.4722" stop-color="#7100a8"/><stop offset="0.5000" stop-color="#7d03a8"/><stop offset="0.5278" stop-color="#8d0ba5"/><stop offset="0.5556" stop-color="#9d189d"/><stop offset="0.5833" stop-color="#ab2494"/><stop offset="0.6111" stop-color="#b83289"/><stop offset="0.6389" stop-color="#c5407e"/><stop offset="0.6667" stop-color="#cf4c74"/><stop offset="0.6944" stop-color="#da5b69"/><stop offset="0.7222" stop-color="#e56a5d"/><stop offset="0.7500" stop-color="#ed7a52"/><stop offset="0.7778" stop-color="#f58b47"/><stop offset="0.8056" stop-color="#fa9e3b"/><stop offset="0.8333" stop-color="#fdb130"/><stop offset="0.8611" stop-color="#feba2c"/><stop offset="0.8889" stop-color="#fdc328"/><stop offset="0.9167" stop-color="#fccd25"/><stop offset="0.9444" stop-color="#fad824"/><stop offset="0.9722" stop-color="#f7e225"/><stop offset="1.0000" stop-color="#f4ed27"/></linearGradient>
<linearGradient id="h1r24" gradientUnits="userSpaceOnUse" x1="48.7" x2="273.0" y1="0" y2="0"><stop offset="0.0000" stop-color="#20068f"/><stop offset="0.0278" stop-color="#20068f"/><stop offset="0.0556" stop-color="#20068f"/><stop offset="0.0833" stop-color="#20068f"/><stop offset="0.1111" stop-color="#20068f"/><stop offset="0.1389" stop-color="#20068f"/><stop offset="0.1667" stop-color="#20068f"/><stop offset="0.1944" stop-color="#220690"/><stop offset="0.2222" stop-color="#260591"/><stop offset="0.2500" stop-color="#280592"/><stop offset="0.2778" stop-color="#2a0593"/><stop offset="0.3056" stop-color="#2e0595"/><stop offset="0.3333" stop-color="#2f0596"/><stop offset="0.3611" stop-color="#3e049c"/><stop offset="0.3889" stop-color="#4c02a1"/><stop offset="0.4167" stop-color="#5901a5"/><stop offset="0.4444" stop-color="#6700a8"/><stop offset="0.4722" stop-color="#7501a8"/><stop offset="0.5000" stop-color="#8104a7"/><stop offset="0.5278" stop-color="#920fa3"/><stop offset="0.5556" stop-color="#a21d9a"/><stop offset="0.5833" stop-color="#b12a90"/><stop offset="0.6111" stop-color="#be3885"/><stop offset="0.6389" stop-color="#ca457a"/><stop offset="0.6667" stop-color="#d5536f"/><stop offset="0.6944" stop-color="#df6263"/><stop offset="0.7222" stop-color="#e97158"/><stop offset="0.7500" stop-color="#f1814d"/><stop offset="0.7778" stop-color="#f89441"/><stop offset="0.8056" stop-color="#fca636"/><stop offset="0.8333" stop-color="#feba2c"/><stop offset="0.8611" stop-color="#fdc328"/><stop offset="0.8889" stop-color="#fcce25"/><stop offset="0.9167" stop-color="#fad824"/><stop offset="0.9444" stop-color="#f7e425"/><stop offset="0.9722" stop-color="#f3ee27"/><stop offset="1.0000" stop-color="#f0f921"/></linearGradient>
<clipPath id="hc1"><rect x="48.7" y="38.2" width="224.3" height="191.39999999999998"/></clipPath>
<linearGradient id="h2r0" gradientUnits="userSpaceOnUse" x1="401.2" x2="631.2" y1="0" y2="0"><stop offset="0.0000" stop-color="#46039f"/><stop offset="0.0278" stop-color="#5002a2"/><stop offset="0.0556" stop-color="#5b01a5"/><stop offset="0.0833" stop-color="#6600a7"/><stop offset="0.1111" stop-color="#7100a8"/><stop offset="0.1389" stop-color="#7b02a8"/><stop offset="0.1667" stop-color="#8606a6"/><stop offset="0.1944" stop-color="#8d0ba5"/><stop offset="0.2222" stop-color="#9511a1"/><stop offset="0.2500" stop-color="#9c179e"/><stop offset="0.2778" stop-color="#a31e9a"/><stop offset="0.3056" stop-color="#aa2395"/><stop offset="0.3333" stop-color="#b12a90"/><stop offset="0.3611" stop-color="#b52f8c"/><stop offset="0.3889" stop-color="#ba3388"/><stop offset="0.4167" stop-color="#bf3984"/><stop offset="0.4444" stop-color="#c33d80"/><stop offset="0.4722" stop-color="#c7427c"/><stop offset="0.5000" stop-color="#cc4778"/><stop offset="0.5278" stop-color="#cf4c74"/><stop offset="0.5556" stop-color="#d45270"/><stop offset="0.5833" stop-color="#d8576b"/><stop offset="0.6111" stop-color="#db5c68"/><stop offset="0.6389" stop-color="#df6263"/><stop offset="0.6667" stop-color="#e3685f"/><stop offset="0.6944" stop-color="#e4695e"/><stop offset="0.7222" stop-color="#e56b5d"/><stop offset="0.7500" stop-color="#e76e5b"/><stop offset="0.7778" stop-color="#e76f5a"/><stop offset="0.8056" stop-color="#e97158"/><stop offset="0.8333" stop-color="#ea7457"/><stop offset="0.8611" stop-color="#ea7457"/><stop offset="0.8889" stop-color="#eb7556"/><stop offset="0.9167" stop-color="#eb7556"/><stop offset="0.9444" stop-color="#eb7655"/><stop offset="0.9722" stop-color="#eb7655"/><stop offset="1.0000" stop-color="#eb7655"/></linearGradient>
<linearGradient id="h2r1" gradientUnits="userSpaceOnUse" x1="401.2" x2="631.2" y1="0" y2="0"><stop offset="0.0000" stop-color="#4c02a1"/><stop offset="0.0278" stop-color="#5801a4"/><stop offset="0.0556" stop-color="#6300a7"/><stop offset="0.0833" stop-color="#6e00a8"/><stop offset="0.1111" stop-color="#7801a8"/><stop offset="0.1389" stop-color="#8104a7"/><stop offset="0.1667" stop-color="#8b0aa5"/><stop offset="0.1944" stop-color="#9410a2"/><stop offset="0.2222" stop-color="#9c179e"/><stop offset="0.2500" stop-color="#a21d9a"/><stop offset="0.2778" stop-color="#aa2395"/><stop offset="0.3056" stop-color="#b12a90"/><stop offset="0.3333" stop-color="#b6308b"/><stop offset="0.3611" stop-color="#bc3587"/><stop offset="0.3889" stop-color="#c03a83"/><stop offset="0.4167" stop-color="#c5407e"/><stop offset="0.4444" stop-color="#c9447a"/><stop offset="0.4722" stop-color="#cd4a76"/><stop offset="0.5000" stop-color="#d14e72"/><stop offset="0.5278" stop-color="#d5546e"/><stop offset="0.5556" stop-color="#da5a6a"/><stop offset="0.5833" stop-color="#de5f65"/><stop offset="0.6111" stop-color="#e26561"/><stop offset="0.6389" stop-color="#e56b5d"/><stop offset="0.6667" stop-color="#e87059"/><stop offset="0.6944" stop-color="#e97257"/><stop offset="0.7222" stop-color="#eb7556"/><stop offset="0.7500" stop-color="#eb7655"/><stop offset="0.7778" stop-color="#ed7953"/><stop offset="0.8056" stop-color="#ee7b51"/><stop offset="0.8333" stop-color="#ef7e50"/><stop offset="0.8611" stop-color="#ef7e50"/><stop offset="0.8889" stop-color="#ef7e50"/><stop offset="0.9167" stop-color="#f07f4f"/><stop offset="0.9444" stop-color="#f07f4f"/><stop offset="0.9722" stop-color="#f0804e"/><stop offset="1.0000" stop-color="#f0804e"/></linearGradient>
<linearGradient id="h2r2" gradientUnits="userSpaceOnUse" x1="401.2" x2="631.2" y1="0" y2="0"><stop offset="0.0000" stop-color="#5502a4"/><stop offset="0.0278" stop-color="#6001a6"/><stop offset="0.0556" stop-color="#6a00a8"/><stop offset="0.0833" stop-color="#7501a8"/><stop offset="0.1111" stop-color="#8004a8"/><stop offset="0.1389" stop-color="#8a09a5"/><stop offset="0.1667" stop-color="#920fa3"/><stop offset="0.1944" stop-color="#9a169f"/><stop offset="0.2222" stop-color="#a21d9a"/><stop offset="0.2500" stop-color="#aa2395"/><stop offset="0.2778" stop-color="#b12a90"/><stop offset="0.3056" stop-color="#b7318a"/><stop offset="0.3333" stop-color="#bd3786"/><stop offset="0.3611" stop-color="#c23c81"/><stop offset="0.3889" stop-color="#c7427c"/><stop offset="0.4167" stop-color="#cc4778"/><stop offset="0.4444" stop-color="#d04d73"/><stop offset="0.4722" stop-color="#d45270"/><stop offset="0.5000" stop-color="#d8576b"/><stop offset="0.5278" stop-color="#dc5d67"/><stop offset="0.5556" stop-color="#e06363"/><stop offset="0.5833" stop-color="#e4695e"/><stop offset="0.6111" stop-color="#e76f5a"/><stop offset="0.6389" stop-color="#eb7556"/><stop offset="0.6667" stop-color="#ee7b51"/><stop offset="0.6944" stop-color="#ef7e50"/><stop offset="0.7222" stop-color="#f07f4f"/><stop offset="0.7500" stop-color="#f1814d"/><stop offset="0.7778" stop-color="#f2844b"/><stop offset="0.8056" stop-color="#f3874a"/><stop offset="0.8333" stop-color="#f48849"/><stop offset="0.8611" stop-color="#f48948"/><stop offset="0.8889" stop-color="#f48948"/><stop offset="0.9167" stop-color="#f58b47"/><stop offset="0.9444" stop-color="#f58b47"/><stop offset="0.9722" stop-color="#f58b47"/><stop offset="1.0000" stop-color="#f58c46"/></linearGradient>
<linearGradient id="h2r3" gradientUnits="userSpaceOnUse" x1="401.2" x2="631.2" y1="0" y2="0"><stop offset="0.0000" stop-color="#5e01a6"/><stop offset="0.0278" stop-color="#6700a8"/><stop offset="0.0556" stop-color="#7201a8"/><stop offset="0.0833" stop-color="#7d03a8"/><stop offset="0.1111" stop-color="#8707a6"/><stop offset="0.1389" stop-color="#910ea3"/><stop offset="0.1667" stop-color="#9a169f"/><stop offset="0.1944" stop-color="#a21d9a"/><stop offset="0.2222" stop-color="#aa2395"/><stop offset="0.2500" stop-color="#b12a90"/><stop offset="0.2778" stop-color="#b6308b"/><stop offset="0.3056" stop-color="#bd3786"/><stop offset="0.3333" stop-color="#c33d80"/><stop offset="0.3611" stop-color="#c8437b"/><stop offset="0.3889" stop-color="#cd4a76"/><stop offset="0.4167" stop-color="#d24f71"/><stop offset="0.4444" stop-color="#d6556d"/><stop offset="0.4722" stop-color="#da5b69"/><stop offset="0.5000" stop-color="#de6164"/><stop offset="0.5278" stop-color="#e26660"/><stop offset="0.5556" stop-color="#e66c5c"/><stop offset="0.5833" stop-color="#e97257"/><stop offset="0.6111" stop-color="#ed7953"/><stop offset="0.6389" stop-color="#f0804e"/><stop offset="0.6667" stop-color="#f3874a"/><stop offset="0.6944" stop-color="#f48849"/><stop offset="0.7222" stop-color="#f58b47"/><stop offset="0.7500" stop-color="#f68d45"/><stop offset="0.7778" stop-color="#f68f44"/><stop offset="0.8056" stop-color="#f79143"/><stop offset="0.8333" stop-color="#f89441"/><stop offset="0.8611" stop-color="#f89441"/><stop offset="0.8889" stop-color="#f89540"/><stop offset="0.9167" stop-color="#f89540"/><stop offset="0.9444" stop-color="#f9973f"/><stop offset="0.9722" stop-color="#f9973f"/><stop offset="1.0000" stop-color="#f9973f"/></linearGradient>
<linearGradient id="h2r4" gradientUnits="userSpaceOnUse" x1="401.2" x2="631.2" y1="0" y2="0"><stop offset="0.0000" stop-color="#6400a7"/><stop offset="0.0278" stop-color="#6f00a8"/><stop offset="0.0556" stop-color="#7a02a8"/><stop offset="0.0833" stop-color="#8405a7"/><stop offset="0.1111" stop-color="#8e0ca4"/><stop offset="0.1389" stop-color="#99159f"/><stop offset="0.1667" stop-color="#a21d9a"/><stop offset="0.1944" stop-color="#aa2395"/><stop offset="0.2222" stop-color="#b12a90"/><stop offset="0.2500" stop-color="#b7318a"/><stop offset="0.2778" stop-color="#be3885"/><stop offset="0.3056" stop-color="#c43e7f"/><stop offset="0.3333" stop-color="#ca457a"/><stop offset="0.3611" stop-color="#cf4c74"/><stop offset="0.3889" stop-color="#d45270"/><stop offset="0.4167" stop-color="#d8576b"/><stop offset="0.4444" stop-color="#dc5d67"/><stop offset="0.4722" stop-color="#e16462"/><stop offset="0.5000" stop-color="#e56a5d"/><stop offset="0.5278" stop-color="#e87059"/><stop offset="0.5556" stop-color="#eb7655"/><stop offset="0.5833" stop-color="#ef7c51"/><stop offset="0.6111" stop-color="#f1834c"/><stop offset="0.6389" stop-color="#f48948"/><stop offset="0.6667" stop-color="#f79143"/><stop offset="0.6944" stop-color="#f79342"/><stop offset="0.7222" stop-color="#f89540"/><stop offset="0.7500" stop-color="#f9983e"/><stop offset="0.7778" stop-color="#f99a3e"/><stop offset="0.8056" stop-color="#fa9c3c"/><stop offset="0.8333" stop-color="#fb9f3a"/><stop offset="0.8611" stop-color="#fb9f3a"/><stop offset="0.8889" stop-color="#fba139"/><stop offset="0.9167" stop-color="#fba139"/><stop offset="0.9444" stop-color="#fba139"/><stop offset="0.9722" stop-color="#fba238"/><stop offset="1.0000" stop-color="#fba238"/></linearGradient>
<linearGradient id="h2r5" gradientUnits="userSpaceOnUse" x1="401.2" x2="631.2" y1="0" y2="0"><stop offset="0.0000" stop-color="#6a00a8"/><stop offset="0.0278" stop-color="#7701a8"/><stop offset="0.0556" stop-color="#8104a7"/><stop offset="0.0833" stop-color="#8d0ba5"/><stop offset="0.1111" stop-color="#9613a1"/><stop offset="0.1389" stop-color="#a01a9c"/><stop offset="0.1667" stop-color="#aa2395"/><stop offset="0.1944" stop-color="#b12a90"/><stop offset="0.2222" stop-color="#b7318a"/><stop offset="0.2500" stop-color="#be3885"/><stop offset="0.2778" stop-color="#c5407e"/><stop offset="0.3056" stop-color="#cb4679"/><stop offset="0.3333" stop-color="#d04d73"/><stop offset="0.3611" stop-color="#d5546e"/><stop offset="0.3889" stop-color="#da5a6a"/><stop offset="0.4167" stop-color="#de5f65"/><stop offset="0.4444" stop-color="#e26660"/><stop offset="0.4722" stop-color="#e66c5c"/><stop offset="0.5000" stop-color="#ea7457"/><stop offset="0.5278" stop-color="#ed7a52"/><stop offset="0.5556" stop-color="#f0804e"/><stop offset="0.5833" stop-color="#f3874a"/><stop offset="0.6111" stop-color="#f68d45"/><stop offset="0.6389" stop-color="#f89441"/><stop offset="0.6667" stop-color="#fa9b3d"/><stop offset="0.6944" stop-color="#fa9e3b"/><stop offset="0.7222" stop-color="#fba139"/><stop offset="0.7500" stop-color="#fba238"/><stop offset="0.7778" stop-color="#fca537"/><stop offset="0.8056" stop-color="#fca835"/><stop offset="0.8333" stop-color="#fdab33"/><stop offset="0.8611" stop-color="#fdab33"/><stop offset="0.8889" stop-color="#fdab33"/><stop offset="0.9167" stop-color="#fdac33"/><stop offset="0.9444" stop-color="#fdac33"/><stop offset="0.9722" stop-color="#fdae32"/><stop offset="1.0000" stop-color="#fdae32"/></linearGradient>
<linearGradient id="h2r6" gradientUnits="userSpaceOnUse" x1="401.2" x2="631.2" y1="0" y2="0"><stop offset="0.0000" stop-color="#7201a8"/><stop offset="0.0278" stop-color="#7d03a8"/><stop offset="0.0556" stop-color="#8808a6"/><stop offset="0.0833" stop-color="#9410a2"/><stop offset="0.1111" stop-color="#9d189d"/><stop offset="0.1389" stop-color="#a72197"/><stop offset="0.1667" stop-color="#b12a90"/><stop offset="0.1944" stop-color="#b7318a"/><stop offset="0.2222" stop-color="#bf3984"/><stop offset="0.2500" stop-color="#c5407e"/><stop offset="0.2778" stop-color="#cb4679"/><stop offset="0.3056" stop-color="#d14e72"/><stop offset="0.3333" stop-color="#d6556d"/><stop offset="0.3611" stop-color="#db5c68"/><stop offset="0.3889" stop-color="#df6263"/><stop offset="0.4167" stop-color="#e4695e"/><stop offset="0.4444" stop-color="#e76f5a"/><stop offset="0.4722" stop-color="#eb7655"/><stop offset="0.5000" stop-color="#ef7c51"/><stop offset="0.5278" stop-color="#f1834c"/><stop offset="0.5556" stop-color="#f58b47"/><stop offset="0.5833" stop-color="#f79143"/><stop offset="0.6111" stop-color="#f9983e"/><stop offset="0.6389" stop-color="#fb9f3a"/><stop offset="0.6667" stop-color="#fca636"/><stop offset="0.6944" stop-color="#fca934"/><stop offset="0.7222" stop-color="#fdab33"/><stop offset="0.7500" stop-color="#fdae32"/><stop offset="0.7778" stop-color="#fdb130"/><stop offset="0.8056" stop-color="#fdb42f"/><stop offset="0.8333" stop-color="#fdb52e"/><stop offset="0.8611" stop-color="#feb72d"/><stop offset="0.8889" stop-color="#feb72d"/><stop offset="0.9167" stop-color="#feb82c"/><stop offset="0.9444" stop-color="#feb82c"/><stop offset="0.9722" stop-color="#feb82c"/><stop offset="1.0000" stop-color="#feba2c"/></linearGradient>
<linearGradient id="h2r7" gradientUnits="userSpaceOnUse" x1="401.2" x2="631.2" y1="0" y2="0"><stop offset="0.0000" stop-color="#7a02a8"/><stop offset="0.0278" stop-color="#8606a6"/><stop offset="0.0556" stop-color="#910ea3"/><stop offset="0.0833" stop-color="#9a169f"/><stop offset="0.1111" stop-color="#a51f99"/><stop offset="0.1389" stop-color="#ae2892"/><stop offset="0.1667" stop-color="#b7318a"/><stop offset="0.1944" stop-color="#bf3984"/><stop offset="0.2222" stop-color="#c5407e"/><stop offset="0.2500" stop-color="#cc4778"/><stop offset="0.2778" stop-color="#d24f71"/><stop offset="0.3056" stop-color="#d8576b"/><stop offset="0.3333" stop-color="#de5f65"/><stop offset="0.3611" stop-color="#e26561"/><stop offset="0.3889" stop-color="#e66c5c"/><stop offset="0.4167" stop-color="#e97257"/><stop offset="0.4444" stop-color="#ed7a52"/><stop offset="0.4722" stop-color="#f0804e"/><stop offset="0.5000" stop-color="#f48849"/><stop offset="0.5278" stop-color="#f68f44"/><stop offset="0.5556" stop-color="#f89540"/><stop offset="0.5833" stop-color="#fa9c3c"/><stop offset="0.6111" stop-color="#fba238"/><stop offset="0.6389" stop-color="#fca934"/><stop offset="0.6667" stop-color="#fdb130"/><stop offset="0.6944" stop-color="#fdb42f"/><stop offset="0.7222" stop-color="#fdb52e"/><stop offset="0.7500" stop-color="#feb82c"/><stop offset="0.7778" stop-color="#feba2c"/><stop offset="0.8056" stop-color="#febd2a"/><stop offset="0.8333" stop-color="#febe2a"/><stop offset="0.8611" stop-color="#fec029"/><stop offset="0.8889" stop-color="#fdc229"/><stop offset="0.9167" stop-color="#fdc229"/><stop offset="0.9444" stop-color="#fdc328"/><stop offset="0.9722" stop-color="#fdc328"/><stop offset="1.0000" stop-color="#fdc527"/></linearGradient>
<linearGradient id="h2r8" gradientUnits="userSpaceOnUse" x1="401.2" x2="631.2" y1="0" y2="0"><stop offset="0.0000" stop-color="#8104a7"/><stop offset="0.0278" stop-color="#8d0ba5"/><stop offset="0.0556" stop-color="#9814a0"/><stop offset="0.0833" stop-color="#a21d9a"/><stop offset="0.1111" stop-color="#ac2694"/><stop offset="0.1389" stop-color="#b52f8c"/><stop offset="0.1667" stop-color="#be3885"/><stop offset="0.1944" stop-color="#c5407e"/><stop offset="0.2222" stop-color="#cc4778"/><stop offset="0.2500" stop-color="#d35171"/><stop offset="0.2778" stop-color="#d9586a"/><stop offset="0.3056" stop-color="#de6164"/><stop offset="0.3333" stop-color="#e4695e"/><stop offset="0.3611" stop-color="#e87059"/><stop offset="0.3889" stop-color="#eb7655"/><stop offset="0.4167" stop-color="#ef7e50"/><stop offset="0.4444" stop-color="#f3854b"/><stop offset="0.4722" stop-color="#f58c46"/><stop offset="0.5000" stop-color="#f89441"/><stop offset="0.5278" stop-color="#f99a3e"/><stop offset="0.5556" stop-color="#fba139"/><stop offset="0.5833" stop-color="#fca636"/><stop offset="0.6111" stop-color="#fdae32"/><stop offset="0.6389" stop-color="#fdb42f"/><stop offset="0.6667" stop-color="#febb2b"/><stop offset="0.6944" stop-color="#febd2a"/><stop offset="0.7222" stop-color="#fec029"/><stop offset="0.7500" stop-color="#fdc229"/><stop offset="0.7778" stop-color="#fdc527"/><stop offset="0.8056" stop-color="#fdc627"/><stop offset="0.8333" stop-color="#fdc827"/><stop offset="0.8611" stop-color="#fdca26"/><stop offset="0.8889" stop-color="#fdcb26"/><stop offset="0.9167" stop-color="#fccd25"/><stop offset="0.9444" stop-color="#fccd25"/><stop offset="0.9722" stop-color="#fcce25"/><stop offset="1.0000" stop-color="#fcd025"/></linearGradient>
<linearGradient id="h2r9" gradientUnits="userSpaceOnUse" x1="401.2" x2="631.2" y1="0" y2="0"><stop offset="0.0000" stop-color="#8808a6"/><stop offset="0.0278" stop-color="#9410a2"/><stop offset="0.0556" stop-color="#9e199d"/><stop offset="0.0833" stop-color="#aa2395"/><stop offset="0.1111" stop-color="#b32c8e"/><stop offset="0.1389" stop-color="#bc3587"/><stop offset="0.1667" stop-color="#c43e7f"/><stop offset="0.1944" stop-color="#cc4778"/><stop offset="0.2222" stop-color="#d24f71"/><stop offset="0.2500" stop-color="#d9586a"/><stop offset="0.2778" stop-color="#df6263"/><stop offset="0.3056" stop-color="#e56a5d"/><stop offset="0.3333" stop-color="#ea7457"/><stop offset="0.3611" stop-color="#ee7b51"/><stop offset="0.3889" stop-color="#f1814d"/><stop offset="0.4167" stop-color="#f48948"/><stop offset="0.4444" stop-color="#f79044"/><stop offset="0.4722" stop-color="#f9983e"/><stop offset="0.5000" stop-color="#fb9f3a"/><stop offset="0.5278" stop-color="#fca636"/><stop offset="0.5556" stop-color="#fdac33"/><stop offset="0.5833" stop-color="#fdb22f"/><stop offset="0.6111" stop-color="#feb82c"/><stop offset="0.6389" stop-color="#fec029"/><stop offset="0.6667" stop-color="#fdc627"/><stop offset="0.6944" stop-color="#fdc827"/><stop offset="0.7222" stop-color="#fdca26"/><stop offset="0.7500" stop-color="#fccd25"/><stop offset="0.7778" stop-color="#fcce25"/><stop offset="0.8056" stop-color="#fcd025"/><stop offset="0.8333" stop-color="#fbd324"/><stop offset="0.8611" stop-color="#fbd324"/><stop offset="0.8889" stop-color="#fbd524"/><stop offset="0.9167" stop-color="#fbd724"/><stop offset="0.9444" stop-color="#fad824"/><stop offset="0.9722" stop-color="#fada24"/><stop offset="1.0000" stop-color="#f9dc24"/></linearGradient>
<linearGradient id="h2r10" gradientUnits="userSpaceOnUse" x1="401.2" x2="631.2" y1="0" y2="0"><stop offset="0.0000" stop-color="#920fa3"/><stop offset="0.0278" stop-color="#9e199d"/><stop offset="0.0556" stop-color="#a82296"/><stop offset="0.0833" stop-color="#b22b8f"/><stop offset="0.1111" stop-color="#bc3587"/><stop offset="0.1389" stop-color="#c43e7f"/><stop offset="0.1667" stop-color="#cc4977"/><stop offset="0.1944" stop-color="#d35171"/><stop offset="0.2222" stop-color="#da5a6a"/><stop offset="0.2500" stop-color="#e06363"/><stop offset="0.2778" stop-color="#e56b5d"/><stop offset="0.3056" stop-color="#eb7556"/><stop offset="0.3333" stop-color="#f07f4f"/><stop offset="0.3611" stop-color="#f3854b"/><stop offset="0.3889" stop-color="#f58c46"/><stop offset="0.4167" stop-color="#f89441"/><stop offset="0.4444" stop-color="#fa9b3d"/><stop offset="0.4722" stop-color="#fca338"/><stop offset="0.5000" stop-color="#fdab33"/><stop offset="0.5278" stop-color="#fdb130"/><stop offset="0.5556" stop-color="#feb72d"/><stop offset="0.5833" stop-color="#febd2a"/><stop offset="0.6111" stop-color="#fdc229"/><stop offset="0.6389" stop-color="#fdc827"/><stop offset="0.6667" stop-color="#fcce25"/><stop offset="0.6944" stop-color="#fcd025"/><stop offset="0.7222" stop-color="#fcd225"/><stop offset="0.7500" stop-color="#fbd324"/><stop offset="0.7778" stop-color="#fbd724"/><stop offset="0.8056" stop-color="#fad824"/><stop offset="0.8333" stop-color="#fada24"/><stop offset="0.8611" stop-color="#f9dc24"/><stop offset="0.8889" stop-color="#f9dc24"/><stop offset="0.9167" stop-color="#f9dd25"/><stop offset="0.9444" stop-color="#f8df25"/><stop offset="0.9722" stop-color="#f8df25"/><stop offset="1.0000" stop-color="#f8e125"/></linearGradient>
<linearGradient id="h2r11" gradientUnits="userSpaceOnUse" x1="401.2" x2="631.2" y1="0" y2="0"><stop offset="0.0000" stop-color="#9c179e"/><stop offset="0.0278" stop-color="#a72197"/><stop offset="0.0556" stop-color="#b22b8f"/><stop offset="0.0833" stop-color="#bb3488"/><stop offset="0.1111" stop-color="#c43e7f"/><stop offset="0.1389" stop-color="#cc4977"/><stop offset="0.1667" stop-color="#d45270"/><stop offset="0.1944" stop-color="#da5b69"/><stop offset="0.2222" stop-color="#e16462"/><stop offset="0.2500" stop-color="#e66c5c"/><stop offset="0.2778" stop-color="#eb7655"/><stop offset="0.3056" stop-color="#f0804e"/><stop offset="0.3333" stop-color="#f48948"/><stop offset="0.3611" stop-color="#f79143"/><stop offset="0.3889" stop-color="#f9983e"/><stop offset="0.4167" stop-color="#fb9f3a"/><stop offset="0.4444" stop-color="#fca636"/><stop offset="0.4722" stop-color="#fdaf31"/><stop offset="0.5000" stop-color="#feb72d"/><stop offset="0.5278" stop-color="#febb2b"/><stop offset="0.5556" stop-color="#fdc229"/><stop offset="0.5833" stop-color="#fdc627"/><stop offset="0.6111" stop-color="#fdcb26"/><stop offset="0.6389" stop-color="#fcd225"/><stop offset="0.6667" stop-color="#fbd724"/><stop offset="0.6944" stop-color="#fad824"/><stop offset="0.7222" stop-color="#fada24"/><stop offset="0.7500" stop-color="#f9dc24"/><stop offset="0.7778" stop-color="#f9dd25"/><stop offset="0.8056" stop-color="#f8df25"/><stop offset="0.8333" stop-color="#f8e125"/><stop offset="0.8611" stop-color="#f7e225"/><stop offset="0.8889" stop-color="#f7e225"/><stop offset="0.9167" stop-color="#f7e425"/><stop offset="0.9444" stop-color="#f7e425"/><stop offset="0.9722" stop-color="#f6e626"/><stop offset="1.0000" stop-color="#f6e826"/></linearGradient>
<linearGradient id="h2r12" gradientUnits="userSpaceOnUse" x1="401.2" x2="631.2" y1="0" y2="0"><stop offset="0.0000" stop-color="#a51f99"/><stop offset="0.0278" stop-color="#b02991"/><stop offset="0.0556" stop-color="#ba3388"/><stop offset="0.0833" stop-color="#c33d80"/><stop offset="0.1111" stop-color="#cc4778"/><stop offset="0.1389" stop-color="#d45270"/><stop offset="0.1667" stop-color="#db5c68"/><stop offset="0.1944" stop-color="#e26561"/><stop offset="0.2222" stop-color="#e76e5b"/><stop offset="0.2500" stop-color="#ec7754"/><stop offset="0.2778" stop-color="#f1814d"/><stop offset="0.3056" stop-color="#f58b47"/><stop offset="0.3333" stop-color="#f89540"/><stop offset="0.3611" stop-color="#fa9c3c"/><stop offset="0.3889" stop-color="#fca338"/><stop offset="0.4167" stop-color="#fdab33"/><stop offset="0.4444" stop-color="#fdb22f"/><stop offset="0.4722" stop-color="#feba2c"/><stop offset="0.5000" stop-color="#fdc229"/><stop offset="0.5278" stop-color="#fdc627"/><stop offset="0.5556" stop-color="#fdcb26"/><stop offset="0.5833" stop-color="#fcd025"/><stop offset="0.6111" stop-color="#fbd524"/><stop offset="0.6389" stop-color="#fada24"/><stop offset="0.6667" stop-color="#f8df25"/><stop offset="0.6944" stop-color="#f8e125"/><stop offset="0.7222" stop-color="#f7e225"/><stop offset="0.7500" stop-color="#f7e425"/><stop offset="0.7778" stop-color="#f6e626"/><stop offset="0.8056" stop-color="#f6e626"/><stop offset="0.8333" stop-color="#f6e826"/><stop offset="0.8611" stop-color="#f5e926"/><stop offset="0.8889" stop-color="#f5e926"/><stop offset="0.9167" stop-color="#f5eb27"/><stop offset="0.9444" stop-color="#f5eb27"/><stop offset="0.9722" stop-color="#f5eb27"/><stop offset="1.0000" stop-color="#f4ed27"/></linearGradient>
<linearGradient id="h2r13" gradientUnits="userSpaceOnUse" x1="401.2" x2="631.2" y1="0" y2="0"><stop offset="0.0000" stop-color="#b32c8e"/><stop offset="0.0278" stop-color="#bc3587"/><stop offset="0.0556" stop-color="#c5407e"/><stop offset="0.0833" stop-color="#cd4a76"/><stop offset="0.1111" stop-color="#d5546e"/><stop offset="0.1389" stop-color="#dd5e66"/><stop offset="0.1667" stop-color="#e3685f"/><stop offset="0.1944" stop-color="#e87059"/><stop offset="0.2222" stop-color="#ed7a52"/><stop offset="0.2500" stop-color="#f1834c"/><stop offset="0.2778" stop-color="#f58c46"/><stop offset="0.3056" stop-color="#f89540"/><stop offset="0.3333" stop-color="#fb9f3a"/><stop offset="0.3611" stop-color="#fca537"/><stop offset="0.3889" stop-color="#fdac33"/><stop offset="0.4167" stop-color="#fdb42f"/><stop offset="0.4444" stop-color="#feba2c"/><stop offset="0.4722" stop-color="#fdc229"/><stop offset="0.5000" stop-color="#fdca26"/><stop offset="0.5278" stop-color="#fccd25"/><stop offset="0.5556" stop-color="#fcd225"/><stop offset="0.5833" stop-color="#fbd524"/><stop offset="0.6111" stop-color="#fad824"/><stop offset="0.6389" stop-color="#f9dd25"/><stop offset="0.6667" stop-color="#f8e125"/><stop offset="0.6944" stop-color="#f7e225"/><stop offset="0.7222" stop-color="#f7e425"/><stop offset="0.7500" stop-color="#f6e626"/><stop offset="0.7778" stop-color="#f6e626"/><stop offset="0.8056" stop-color="#f6e826"/><stop offset="0.8333" stop-color="#f5e926"/><stop offset="0.8611" stop-color="#f5e926"/><stop offset="0.8889" stop-color="#f5eb27"/><stop offset="0.9167" stop-color="#f5eb27"/><stop offset="0.9444" stop-color="#f5eb27"/><stop offset="0.9722" stop-color="#f4ed27"/><stop offset="1.0000" stop-color="#f4ed27"/></linearGradient>
<linearGradient id="h2r14" gradientUnits="userSpaceOnUse" x1="401.2" x2="631.2" y1="0" y2="0"><stop offset="0.0000" stop-color="#bf3984"/><stop offset="0.0278" stop-color="#c7427c"/><stop offset="0.0556" stop-color="#cf4c74"/><stop offset="0.0833" stop-color="#d7566c"/><stop offset="0.1111" stop-color="#de5f65"/><stop offset="0.1389" stop-color="#e56a5d"/><stop offset="0.1667" stop-color="#eb7556"/><stop offset="0.1944" stop-color="#ef7c51"/><stop offset="0.2222" stop-color="#f3854b"/><stop offset="0.2500" stop-color="#f68d45"/><stop offset="0.2778" stop-color="#f9973f"/><stop offset="0.3056" stop-color="#fb9f3a"/><stop offset="0.3333" stop-color="#fca934"/><stop offset="0.3611" stop-color="#fdaf31"/><stop offset="0.3889" stop-color="#fdb52e"/><stop offset="0.4167" stop-color="#febb2b"/><stop offset="0.4444" stop-color="#fdc328"/><stop offset="0.4722" stop-color="#fdca26"/><stop offset="0.5000" stop-color="#fcd025"/><stop offset="0.5278" stop-color="#fbd324"/><stop offset="0.5556" stop-color="#fbd724"/><stop offset="0.5833" stop-color="#fada24"/><stop offset="0.6111" stop-color="#f9dc24"/><stop offset="0.6389" stop-color="#f8df25"/><stop offset="0.6667" stop-color="#f7e225"/><stop offset="0.6944" stop-color="#f7e425"/><stop offset="0.7222" stop-color="#f6e626"/><stop offset="0.7500" stop-color="#f6e626"/><stop offset="0.7778" stop-color="#f6e826"/><stop offset="0.8056" stop-color="#f5e926"/><stop offset="0.8333" stop-color="#f5eb27"/><stop offset="0.8611" stop-color="#f5eb27"/><stop offset="0.8889" stop-color="#f5eb27"/><stop offset="0.9167" stop-color="#f5eb27"/><stop offset="0.9444" stop-color="#f4ed27"/><stop offset="0.9722" stop-color="#f4ed27"/><stop offset="1.0000" stop-color="#f4ed27"/></linearGradient>
<linearGradient id="h2r15" gradientUnits="userSpaceOnUse" x1="401.2" x2="631.2" y1="0" y2="0"><stop offset="0.0000" stop-color="#ca457a"/><stop offset="0.0278" stop-color="#d14e72"/><stop offset="0.0556" stop-color="#d9586a"/><stop offset="0.0833" stop-color="#df6263"/><stop offset="0.1111" stop-color="#e66c5c"/><stop offset="0.1389" stop-color="#eb7655"/><stop offset="0.1667" stop-color="#f1814d"/><stop offset="0.1944" stop-color="#f48948"/><stop offset="0.2222" stop-color="#f79143"/><stop offset="0.2500" stop-color="#f99a3e"/><stop offset="0.2778" stop-color="#fba238"/><stop offset="0.3056" stop-color="#fdab33"/><stop offset="0.3333" stop-color="#fdb42f"/><stop offset="0.3611" stop-color="#feb82c"/><stop offset="0.3889" stop-color="#febe2a"/><stop offset="0.4167" stop-color="#fdc527"/><stop offset="0.4444" stop-color="#fdcb26"/><stop offset="0.4722" stop-color="#fcd025"/><stop offset="0.5000" stop-color="#fbd724"/><stop offset="0.5278" stop-color="#fada24"/><stop offset="0.5556" stop-color="#f9dc24"/><stop offset="0.5833" stop-color="#f9dd25"/><stop offset="0.6111" stop-color="#f8df25"/><stop offset="0.6389" stop-color="#f7e225"/><stop offset="0.6667" stop-color="#f7e425"/><stop offset="0.6944" stop-color="#f6e626"/><stop offset="0.7222" stop-color="#f6e826"/><stop offset="0.7500" stop-color="#f6e826"/><stop offset="0.7778" stop-color="#f5e926"/><stop offset="0.8056" stop-color="#f5eb27"/><stop offset="0.8333" stop-color="#f4ed27"/><stop offset="0.8611" stop-color="#f4ed27"/><stop offset="0.8889" stop-color="#f4ed27"/><stop offset="0.9167" stop-color="#f4ed27"/><stop offset="0.9444" stop-color="#f4ed27"/><stop offset="0.9722" stop-color="#f4ed27"/><stop offset="1.0000" stop-color="#f4ed27"/></linearGradient>
<linearGradient id="h2r16" gradientUnits="userSpaceOnUse" x1="401.2" x2="631.2" y1="0" y2="0"><stop offset="0.0000" stop-color="#d35171"/><stop offset="0.0278" stop-color="#da5b69"/><stop offset="0.0556" stop-color="#e16462"/><stop offset="0.0833" stop-color="#e76e5b"/><stop offset="0.1111" stop-color="#ec7754"/><stop offset="0.1389" stop-color="#f1814d"/><stop offset="0.1667" stop-color="#f68d45"/><stop offset="0.1944" stop-color="#f89441"/><stop offset="0.2222" stop-color="#fa9c3c"/><stop offset="0.2500" stop-color="#fca338"/><stop offset="0.2778" stop-color="#fdac33"/><stop offset="0.3056" stop-color="#fdb42f"/><stop offset="0.3333" stop-color="#febd2a"/><stop offset="0.3611" stop-color="#fdc229"/><stop offset="0.3889" stop-color="#fdc627"/><stop offset="0.4167" stop-color="#fdcb26"/><stop offset="0.4444" stop-color="#fcd025"/><stop offset="0.4722" stop-color="#fbd724"/><stop offset="0.5000" stop-color="#f9dc24"/><stop offset="0.5278" stop-color="#f9dd25"/><stop offset="0.5556" stop-color="#f8df25"/><stop offset="0.5833" stop-color="#f8e125"/><stop offset="0.6111" stop-color="#f7e225"/><stop offset="0.6389" stop-color="#f7e425"/><stop offset="0.6667" stop-color="#f6e826"/><stop offset="0.6944" stop-color="#f6e826"/><stop offset="0.7222" stop-color="#f5e926"/><stop offset="0.7500" stop-color="#f5e926"/><stop offset="0.7778" stop-color="#f5eb27"/><stop offset="0.8056" stop-color="#f5eb27"/><stop offset="0.8333" stop-color="#f4ed27"/><stop offset="0.8611" stop-color="#f4ed27"/><stop offset="0.8889" stop-color="#f4ed27"/><stop offset="0.9167" stop-color="#f4ed27"/><stop offset="0.9444" stop-color="#f4ed27"/><stop offset="0.9722" stop-color="#f4ed27"/><stop offset="1.0000" stop-color="#f4ed27"/></linearGradient>
<linearGradient id="h2r17" gradientUnits="userSpaceOnUse" x1="401.2" x2="631.2" y1="0" y2="0"><stop offset="0.0000" stop-color="#dc5d67"/><stop offset="0.0278" stop-color="#e26660"/><stop offset="0.0556" stop-color="#e87059"/><stop offset="0.0833" stop-color="#ed7a52"/><stop offset="0.1111" stop-color="#f1834c"/><stop offset="0.1389" stop-color="#f68d45"/><stop offset="0.1667" stop-color="#f9983e"/><stop offset="0.1944" stop-color="#fb9f3a"/><stop offset="0.2222" stop-color="#fca636"/><stop offset="0.2500" stop-color="#fdae32"/><stop offset="0.2778" stop-color="#feb72d"/><stop offset="0.3056" stop-color="#febe2a"/><stop offset="0.3333" stop-color="#fdc627"/><stop offset="0.3611" stop-color="#fdca26"/><stop offset="0.3889" stop-color="#fcce25"/><stop offset="0.4167" stop-color="#fbd324"/><stop offset="0.4444" stop-color="#fbd724"/><stop offset="0.4722" stop-color="#f9dc24"/><stop offset="0.5000" stop-color="#f8df25"/><stop offset="0.5278" stop-color="#f8e125"/><stop offset="0.5556" stop-color="#f7e225"/><stop offset="0.5833" stop-color="#f7e425"/><stop offset="0.6111" stop-color="#f6e626"/><stop offset="0.6389" stop-color="#f6e826"/><stop offset="0.6667" stop-color="#f5e926"/><stop offset="0.6944" stop-color="#f5eb27"/><stop offset="0.7222" stop-color="#f5eb27"/><stop offset="0.7500" stop-color="#f5eb27"/><stop offset="0.7778" stop-color="#f5eb27"/><stop offset="0.8056" stop-color="#f4ed27"/><stop offset="0.8333" stop-color="#f4ed27"/><stop offset="0.8611" stop-color="#f4ed27"/><stop offset="0.8889" stop-color="#f4ed27"/><stop offset="0.9167" stop-color="#f4ed27"/><stop offset="0.9444" stop-color="#f4ed27"/><stop offset="0.9722" stop-color="#f4ed27"/><stop offset="1.0000" stop-color="#f4ed27"/></linearGradient>
<linearGradient id="h2r18" gradientUnits="userSpaceOnUse" x1="401.2" x2="631.2" y1="0" y2="0"><stop offset="0.0000" stop-color="#e4695e"/><stop offset="0.0278" stop-color="#e97158"/><stop offset="0.0556" stop-color="#ee7b51"/><stop offset="0.0833" stop-color="#f3854b"/><stop offset="0.1111" stop-color="#f68f44"/><stop offset="0.1389" stop-color="#f99a3e"/><stop offset="0.1667" stop-color="#fca537"/><stop offset="0.1944" stop-color="#fdab33"/><stop offset="0.2222" stop-color="#fdb22f"/><stop offset="0.2500" stop-color="#feb82c"/><stop offset="0.2778" stop-color="#fec029"/><stop offset="0.3056" stop-color="#fdc827"/><stop offset="0.3333" stop-color="#fcce25"/><stop offset="0.3611" stop-color="#fcd225"/><stop offset="0.3889" stop-color="#fbd524"/><stop offset="0.4167" stop-color="#fada24"/><stop offset="0.4444" stop-color="#f9dd25"/><stop offset="0.4722" stop-color="#f8e125"/><stop offset="0.5000" stop-color="#f7e425"/><stop offset="0.5278" stop-color="#f6e626"/><stop offset="0.5556" stop-color="#f6e626"/><stop offset="0.5833" stop-color="#f6e826"/><stop offset="0.6111" stop-color="#f5e926"/><stop offset="0.6389" stop-color="#f5eb27"/><stop offset="0.6667" stop-color="#f4ed27"/><stop offset="0.6944" stop-color="#f4ed27"/><stop offset="0.7222" stop-color="#f4ed27"/><stop offset="0.7500" stop-color="#f4ed27"/><stop offset="0.7778" stop-color="#f4ed27"/><stop offset="0.8056" stop-color="#f4ed27"/><stop offset="0.8333" stop-color="#f4ed27"/><stop offset="0.8611" stop-color="#f4ed27"/><stop offset="0.8889" stop-color="#f4ed27"/><stop offset="0.9167" stop-color="#f4ed27"/><stop offset="0.9444" stop-color="#f4ed27"/><stop offset="0.9722" stop-color="#f4ed27"/><stop offset="1.0000" stop-color="#f4ed27"/></linearGradient>
<linearGradient id="h2r19" gradientUnits="userSpaceOnUse" x1="401.2" x2="631.2" y1="0" y2="0"><stop offset="0.0000" stop-color="#e97158"/><stop offset="0.0278" stop-color="#ed7a52"/><stop offset="0.0556" stop-color="#f2844b"/><stop offset="0.0833" stop-color="#f68d45"/><stop offset="0.1111" stop-color="#f9983e"/><stop offset="0.1389" stop-color="#fba238"/><stop offset="0.1667" stop-color="#fdae32"/><stop offset="0.1944" stop-color="#fdb42f"/><stop offset="0.2222" stop-color="#feba2c"/><stop offset="0.2500" stop-color="#fec029"/><stop offset="0.2778" stop-color="#fdc627"/><stop offset="0.3056" stop-color="#fccd25"/><stop offset="0.3333" stop-color="#fbd324"/><stop offset="0.3611" stop-color="#fbd724"/><stop offset="0.3889" stop-color="#fad824"/><stop offset="0.4167" stop-color="#f9dc24"/><stop offset="0.4444" stop-color="#f8df25"/><stop offset="0.4722" stop-color="#f7e225"/><stop offset="0.5000" stop-color="#f6e626"/><stop offset="0.5278" stop-color="#f6e626"/><stop offset="0.5556" stop-color="#f6e826"/><stop offset="0.5833" stop-color="#f5e926"/><stop offset="0.6111" stop-color="#f5e926"/><stop offset="0.6389" stop-color="#f5eb27"/><stop offset="0.6667" stop-color="#f4ed27"/><stop offset="0.6944" stop-color="#f4ed27"/><stop offset="0.7222" stop-color="#f4ed27"/><stop offset="0.7500" stop-color="#f4ed27"/><stop offset="0.7778" stop-color="#f4ed27"/><stop offset="0.8056" stop-color="#f4ed27"/><stop offset="0.8333" stop-color="#f4ed27"/><stop offset="0.8611" stop-color="#f4ed27"/><stop offset="0.8889" stop-color="#f4ed27"/><stop offset="0.9167" stop-color="#f4ed27"/><stop offset="0.9444" stop-color="#f4ed27"/><stop offset="0.9722" stop-color="#f4ed27"/><stop offset="1.0000" stop-color="#f4ed27"/></linearGradient>
<linearGradient id="h2r20" gradientUnits="userSpaceOnUse" x1="401.2" x2="631.2" y1="0" y2="0"><stop offset="0.0000" stop-color="#ed7953"/><stop offset="0.0278" stop-color="#f1834c"/><stop offset="0.0556" stop-color="#f58c46"/><stop offset="0.0833" stop-color="#f9973f"/><stop offset="0.1111" stop-color="#fba139"/><stop offset="0.1389" stop-color="#fdab33"/><stop offset="0.1667" stop-color="#feb72d"/><stop offset="0.1944" stop-color="#febb2b"/><stop offset="0.2222" stop-color="#fdc229"/><stop offset="0.2500" stop-color="#fdc627"/><stop offset="0.2778" stop-color="#fccd25"/><stop offset="0.3056" stop-color="#fcd225"/><stop offset="0.3333" stop-color="#fbd724"/><stop offset="0.3611" stop-color="#fada24"/><stop offset="0.3889" stop-color="#f9dc24"/><stop offset="0.4167" stop-color="#f8df25"/><stop offset="0.4444" stop-color="#f7e225"/><stop offset="0.4722" stop-color="#f7e425"/><stop offset="0.5000" stop-color="#f6e826"/><stop offset="0.5278" stop-color="#f6e826"/><stop offset="0.5556" stop-color="#f5e926"/><stop offset="0.5833" stop-color="#f5e926"/><stop offset="0.6111" stop-color="#f5eb27"/><stop offset="0.6389" stop-color="#f5eb27"/><stop offset="0.6667" stop-color="#f4ed27"/><stop offset="0.6944" stop-color="#f4ed27"/><stop offset="0.7222" stop-color="#f4ed27"/><stop offset="0.7500" stop-color="#f4ed27"/><stop offset="0.7778" stop-color="#f4ed27"/><stop offset="0.8056" stop-color="#f4ed27"/><stop offset="0.8333" stop-color="#f4ed27"/><stop offset="0.8611" stop-color="#f4ed27"/><stop offset="0.8889" stop-color="#f4ed27"/><stop offset="0.9167" stop-color="#f4ed27"/><stop offset="0.9444" stop-color="#f4ed27"/><stop offset="0.9722" stop-color="#f4ed27"/><stop offset="1.0000" stop-color="#f4ed27"/></linearGradient>
<linearGradient id="h2r21" gradientUnits="userSpaceOnUse" x1="401.2" x2="631.2" y1="0" y2="0"><stop offset="0.0000" stop-color="#f1814d"/><stop offset="0.0278" stop-color="#f58b47"/><stop offset="0.0556" stop-color="#f89441"/><stop offset="0.0833" stop-color="#fb9f3a"/><stop offset="0.1111" stop-color="#fca934"/><stop offset="0.1389" stop-color="#fdb42f"/><stop offset="0.1667" stop-color="#febe2a"/><stop offset="0.1944" stop-color="#fdc328"/><stop offset="0.2222" stop-color="#fdc827"/><stop offset="0.2500" stop-color="#fccd25"/><stop offset="0.2778" stop-color="#fcd225"/><stop offset="0.3056" stop-color="#fbd724"/><stop offset="0.3333" stop-color="#f9dc24"/><stop offset="0.3611" stop-color="#f9dd25"/><stop offset="0.3889" stop-color="#f8df25"/><stop offset="0.4167" stop-color="#f7e225"/><stop offset="0.4444" stop-color="#f7e425"/><stop offset="0.4722" stop-color="#f6e626"/><stop offset="0.5000" stop-color="#f6e826"/><stop offset="0.5278" stop-color="#f5e926"/><stop offset="0.5556" stop-color="#f5e926"/><stop offset="0.5833" stop-color="#f5eb27"/><stop offset="0.6111" stop-color="#f5eb27"/><stop offset="0.6389" stop-color="#f5eb27"/><stop offset="0.6667" stop-color="#f4ed27"/><stop offset="0.6944" stop-color="#f4ed27"/><stop offset="0.7222" stop-color="#f4ed27"/><stop offset="0.7500" stop-color="#f4ed27"/><stop offset="0.7778" stop-color="#f4ed27"/><stop offset="0.8056" stop-color="#f4ed27"/><stop offset="0.8333" stop-color="#f4ed27"/><stop offset="0.8611" stop-color="#f4ed27"/><stop offset="0.8889" stop-color="#f4ed27"/><stop offset="0.9167" stop-color="#f4ed27"/><stop offset="0.9444" stop-color="#f4ed27"/><stop offset="0.9722" stop-color="#f4ed27"/><stop offset="1.0000" stop-color="#f4ed27"/></linearGradient>
<linearGradient id="h2r22" gradientUnits="userSpaceOnUse" x1="401.2" x2="631.2" y1="0" y2="0"><stop offset="0.0000" stop-color="#f3874a"/><stop offset="0.0278" stop-color="#f79044"/><stop offset="0.0556" stop-color="#f99a3e"/><stop offset="0.0833" stop-color="#fca537"/><stop offset="0.1111" stop-color="#fdaf31"/><stop offset="0.1389" stop-color="#feba2c"/><stop offset="0.1667" stop-color="#fdc527"/><stop offset="0.1944" stop-color="#fdc827"/><stop offset="0.2222" stop-color="#fccd25"/><stop offset="0.2500" stop-color="#fcd225"/><stop offset="0.2778" stop-color="#fbd524"/><stop offset="0.3056" stop-color="#fada24"/><stop offset="0.3333" stop-color="#f8df25"/><stop offset="0.3611" stop-color="#f8e125"/><stop offset="0.3889" stop-color="#f7e225"/><stop offset="0.4167" stop-color="#f7e425"/><stop offset="0.4444" stop-color="#f6e626"/><stop offset="0.4722" stop-color="#f6e826"/><stop offset="0.5000" stop-color="#f5e926"/><stop offset="0.5278" stop-color="#f5eb27"/><stop offset="0.5556" stop-color="#f5eb27"/><stop offset="0.5833" stop-color="#f5eb27"/><stop offset="0.6111" stop-color="#f5eb27"/><stop offset="0.6389" stop-color="#f4ed27"/><stop offset="0.6667" stop-color="#f4ed27"/><stop offset="0.6944" stop-color="#f4ed27"/><stop offset="0.7222" stop-color="#f4ed27"/><stop offset="0.7500" stop-color="#f4ed27"/><stop offset="0.7778" stop-color="#f4ed27"/><stop offset="0.8056" stop-color="#f4ed27"/><stop offset="0.8333" stop-color="#f4ed27"/><stop offset="0.8611" stop-color="#f4ed27"/><stop offset="0.8889" stop-color="#f4ed27"/><stop offset="0.9167" stop-color="#f4ed27"/><stop offset="0.9444" stop-color="#f4ed27"/><stop offset="0.9722" stop-color="#f4ed27"/><stop offset="1.0000" stop-color="#f4ed27"/></linearGradient>
<linearGradient id="h2r23" gradientUnits="userSpaceOnUse" x1="401.2" x2="631.2" y1="0" y2="0"><stop offset="0.0000" stop-color="#f68d45"/><stop offset="0.0278" stop-color="#f9973f"/><stop offset="0.0556" stop-color="#fb9f3a"/><stop offset="0.0833" stop-color="#fca934"/><stop offset="0.1111" stop-color="#fdb42f"/><stop offset="0.1389" stop-color="#febe2a"/><stop offset="0.1667" stop-color="#fdca26"/><stop offset="0.1944" stop-color="#fcce25"/><stop offset="0.2222" stop-color="#fcd225"/><stop offset="0.2500" stop-color="#fbd524"/><stop offset="0.2778" stop-color="#fada24"/><stop offset="0.3056" stop-color="#f9dd25"/><stop offset="0.3333" stop-color="#f8e125"/><stop offset="0.3611" stop-color="#f7e225"/><stop offset="0.3889" stop-color="#f7e425"/><stop offset="0.4167" stop-color="#f6e626"/><stop offset="0.4444" stop-color="#f6e826"/><stop offset="0.4722" stop-color="#f5e926"/><stop offset="0.5000" stop-color="#f5eb27"/><stop offset="0.5278" stop-color="#f5eb27"/><stop offset="0.5556" stop-color="#f5eb27"/><stop offset="0.5833" stop-color="#f5eb27"/><stop offset="0.6111" stop-color="#f4ed27"/><stop offset="0.6389" stop-color="#f4ed27"/><stop offset="0.6667" stop-color="#f4ed27"/><stop offset="0.6944" stop-color="#f4ed27"/><stop offset="0.7222" stop-color="#f4ed27"/><stop offset="0.7500" stop-color="#f4ed27"/><stop offset="0.7778" stop-color="#f4ed27"/><stop offset="0.8056" stop-color="#f4ed27"/><stop offset="0.8333" stop-color="#f4ed27"/><stop offset="0.8611" stop-color="#f4ed27"/><stop offset="0.8889" stop-color="#f4ed27"/><stop offset="0.9167" stop-color="#f4ed27"/><stop offset="0.9444" stop-color="#f4ed27"/><stop offset="0.9722" stop-color="#f4ed27"/><stop offset="1.0000" stop-color="#f4ed27"/></linearGradient>
<linearGradient id="h2r24" gradientUnits="userSpaceOnUse" x1="401.2" x2="631.2" y1="0" y2="0"><stop offset="0.0000" stop-color="#f79143"/><stop offset="0.0278" stop-color="#fa9b3d"/><stop offset="0.0556" stop-color="#fca537"/><stop offset="0.0833" stop-color="#fdae32"/><stop offset="0.1111" stop-color="#feb82c"/><stop offset="0.1389" stop-color="#fdc328"/><stop offset="0.1667" stop-color="#fcce25"/><stop offset="0.1944" stop-color="#fcd225"/><stop offset="0.2222" stop-color="#fbd524"/><stop offset="0.2500" stop-color="#fad824"/><stop offset="0.2778" stop-color="#f9dc24"/><stop offset="0.3056" stop-color="#f8e125"/><stop offset="0.3333" stop-color="#f7e425"/><stop offset="0.3611" stop-color="#f6e626"/><stop offset="0.3889" stop-color="#f6e626"/><stop offset="0.4167" stop-color="#f6e826"/><stop offset="0.4444" stop-color="#f5e926"/><stop offset="0.4722" stop-color="#f5eb27"/><stop offset="0.5000" stop-color="#f4ed27"/><stop offset="0.5278" stop-color="#f4ed27"/><stop offset="0.5556" stop-color="#f4ed27"/><stop offset="0.5833" stop-color="#f4ed27"/><stop offset="0.6111" stop-color="#f4ed27"/><stop offset="0.6389" stop-color="#f4ed27"/><stop offset="0.6667" stop-color="#f4ed27"/><stop offset="0.6944" stop-color="#f4ed27"/><stop offset="0.7222" stop-color="#f4ed27"/><stop offset="0.7500" stop-color="#f4ed27"/><stop offset="0.7778" stop-color="#f4ed27"/><stop offset="0.8056" stop-color="#f4ed27"/><stop offset="0.8333" stop-color="#f4ed27"/><stop offset="0.8611" stop-color="#f4ed27"/><stop offset="0.8889" stop-color="#f4ed27"/><stop offset="0.9167" stop-color="#f4ed27"/><stop offset="0.9444" stop-color="#f4ed27"/><stop offset="0.9722" stop-color="#f4ed27"/><stop offset="1.0000" stop-color="#f4ed27"/></linearGradient>
<clipPath id="hc2"><rect x="401.2" y="38.9" width="230.00000000000006" height="189.29999999999998"/></clipPath>
<linearGradient id="h3r0" gradientUnits="userSpaceOnUse" x1="48.7" x2="259.9" y1="0" y2="0"><stop offset="0.0000" stop-color="#1b068d"/><stop offset="0.0278" stop-color="#220690"/><stop offset="0.0556" stop-color="#2a0593"/><stop offset="0.0833" stop-color="#310597"/><stop offset="0.1111" stop-color="#38049a"/><stop offset="0.1389" stop-color="#3f049c"/><stop offset="0.1667" stop-color="#46039f"/><stop offset="0.1944" stop-color="#4e02a2"/><stop offset="0.2222" stop-color="#5601a4"/><stop offset="0.2500" stop-color="#5e01a6"/><stop offset="0.2778" stop-color="#6600a7"/><stop offset="0.3056" stop-color="#6e00a8"/><stop offset="0.3333" stop-color="#7501a8"/><stop offset="0.3611" stop-color="#7b02a8"/><stop offset="0.3889" stop-color="#8004a8"/><stop offset="0.4167" stop-color="#8606a6"/><stop offset="0.4444" stop-color="#8a09a5"/><stop offset="0.4722" stop-color="#8e0ca4"/><stop offset="0.5000" stop-color="#9410a2"/><stop offset="0.5278" stop-color="#9613a1"/><stop offset="0.5556" stop-color="#9a169f"/><stop offset="0.5833" stop-color="#9e199d"/><stop offset="0.6111" stop-color="#a11b9b"/><stop offset="0.6389" stop-color="#a51f99"/><stop offset="0.6667" stop-color="#a72197"/><stop offset="0.6944" stop-color="#aa2395"/><stop offset="0.7222" stop-color="#ac2694"/><stop offset="0.7500" stop-color="#b02991"/><stop offset="0.7778" stop-color="#b22b8f"/><stop offset="0.8056" stop-color="#b42e8d"/><stop offset="0.8333" stop-color="#b6308b"/><stop offset="0.8611" stop-color="#b7318a"/><stop offset="0.8889" stop-color="#b83289"/><stop offset="0.9167" stop-color="#ba3388"/><stop offset="0.9444" stop-color="#ba3388"/><stop offset="0.9722" stop-color="#bb3488"/><stop offset="1.0000" stop-color="#bc3587"/></linearGradient>
<linearGradient id="h3r1" gradientUnits="userSpaceOnUse" x1="48.7" x2="259.9" y1="0" y2="0"><stop offset="0.0000" stop-color="#20068f"/><stop offset="0.0278" stop-color="#280592"/><stop offset="0.0556" stop-color="#2f0596"/><stop offset="0.0833" stop-color="#370499"/><stop offset="0.1111" stop-color="#3c049b"/><stop offset="0.1389" stop-color="#43039e"/><stop offset="0.1667" stop-color="#4903a0"/><stop offset="0.1944" stop-color="#5302a3"/><stop offset="0.2222" stop-color="#5b01a5"/><stop offset="0.2500" stop-color="#6300a7"/><stop offset="0.2778" stop-color="#6c00a8"/><stop offset="0.3056" stop-color="#7401a8"/><stop offset="0.3333" stop-color="#7b02a8"/><stop offset="0.3611" stop-color="#8104a7"/><stop offset="0.3889" stop-color="#8707a6"/><stop offset="0.4167" stop-color="#8d0ba5"/><stop offset="0.4444" stop-color="#920fa3"/><stop offset="0.4722" stop-color="#9814a0"/><stop offset="0.5000" stop-color="#9d189d"/><stop offset="0.5278" stop-color="#a21d9a"/><stop offset="0.5556" stop-color="#a62098"/><stop offset="0.5833" stop-color="#aa2395"/><stop offset="0.6111" stop-color="#ad2793"/><stop offset="0.6389" stop-color="#b22b8f"/><stop offset="0.6667" stop-color="#b52f8c"/><stop offset="0.6944" stop-color="#b7318a"/><stop offset="0.7222" stop-color="#ba3388"/><stop offset="0.7500" stop-color="#bc3587"/><stop offset="0.7778" stop-color="#be3885"/><stop offset="0.8056" stop-color="#c03a83"/><stop offset="0.8333" stop-color="#c23c81"/><stop offset="0.8611" stop-color="#c33d80"/><stop offset="0.8889" stop-color="#c33d80"/><stop offset="0.9167" stop-color="#c43e7f"/><stop offset="0.9444" stop-color="#c5407e"/><stop offset="0.9722" stop-color="#c6417d"/><stop offset="1.0000" stop-color="#c7427c"/></linearGradient>
<linearGradient id="h3r2" gradientUnits="userSpaceOnUse" x1="48.7" x2="259.9" y1="0" y2="0"><stop offset="0.0000" stop-color="#260591"/><stop offset="0.0278" stop-color="#2e0595"/><stop offset="0.0556" stop-color="#330597"/><stop offset="0.0833" stop-color="#3a049a"/><stop offset="0.1111" stop-color="#41049d"/><stop offset="0.1389" stop-color="#48039f"/><stop offset="0.1667" stop-color="#4e02a2"/><stop offset="0.1944" stop-color="#5601a4"/><stop offset="0.2222" stop-color="#6001a6"/><stop offset="0.2500" stop-color="#6900a8"/><stop offset="0.2778" stop-color="#7100a8"/><stop offset="0.3056" stop-color="#7a02a8"/><stop offset="0.3333" stop-color="#8305a7"/><stop offset="0.3611" stop-color="#8808a6"/><stop offset="0.3889" stop-color="#8f0da4"/><stop offset="0.4167" stop-color="#9511a1"/><stop offset="0.4444" stop-color="#9c179e"/><stop offset="0.4722" stop-color="#a21d9a"/><stop offset="0.5000" stop-color="#a72197"/><stop offset="0.5278" stop-color="#ac2694"/><stop offset="0.5556" stop-color="#b12a90"/><stop offset="0.5833" stop-color="#b52f8c"/><stop offset="0.6111" stop-color="#ba3388"/><stop offset="0.6389" stop-color="#be3885"/><stop offset="0.6667" stop-color="#c23c81"/><stop offset="0.6944" stop-color="#c43e7f"/><stop offset="0.7222" stop-color="#c6417d"/><stop offset="0.7500" stop-color="#c7427c"/><stop offset="0.7778" stop-color="#c9447a"/><stop offset="0.8056" stop-color="#cb4679"/><stop offset="0.8333" stop-color="#cc4977"/><stop offset="0.8611" stop-color="#cd4a76"/><stop offset="0.8889" stop-color="#ce4b75"/><stop offset="0.9167" stop-color="#cf4c74"/><stop offset="0.9444" stop-color="#cf4c74"/><stop offset="0.9722" stop-color="#d04d73"/><stop offset="1.0000" stop-color="#d14e72"/></linearGradient>
<linearGradient id="h3r3" gradientUnits="userSpaceOnUse" x1="48.7" x2="259.9" y1="0" y2="0"><stop offset="0.0000" stop-color="#2a0593"/><stop offset="0.0278" stop-color="#310597"/><stop offset="0.0556" stop-color="#38049a"/><stop offset="0.0833" stop-color="#3f049c"/><stop offset="0.1111" stop-color="#46039f"/><stop offset="0.1389" stop-color="#4b03a1"/><stop offset="0.1667" stop-color="#5102a3"/><stop offset="0.1944" stop-color="#5b01a5"/><stop offset="0.2222" stop-color="#6400a7"/><stop offset="0.2500" stop-color="#6e00a8"/><stop offset="0.2778" stop-color="#7701a8"/><stop offset="0.3056" stop-color="#8004a8"/><stop offset="0.3333" stop-color="#8808a6"/><stop offset="0.3611" stop-color="#8f0da4"/><stop offset="0.3889" stop-color="#9613a1"/><stop offset="0.4167" stop-color="#9e199d"/><stop offset="0.4444" stop-color="#a51f99"/><stop offset="0.4722" stop-color="#ab2494"/><stop offset="0.5000" stop-color="#b12a90"/><stop offset="0.5278" stop-color="#b6308b"/><stop offset="0.5556" stop-color="#bb3488"/><stop offset="0.5833" stop-color="#c03a83"/><stop offset="0.6111" stop-color="#c5407e"/><stop offset="0.6389" stop-color="#c9447a"/><stop offset="0.6667" stop-color="#cd4a76"/><stop offset="0.6944" stop-color="#cf4c74"/><stop offset="0.7222" stop-color="#d04d73"/><stop offset="0.7500" stop-color="#d24f71"/><stop offset="0.7778" stop-color="#d45270"/><stop offset="0.8056" stop-color="#d5546e"/><stop offset="0.8333" stop-color="#d6556d"/><stop offset="0.8611" stop-color="#d7566c"/><stop offset="0.8889" stop-color="#d8576b"/><stop offset="0.9167" stop-color="#d9586a"/><stop offset="0.9444" stop-color="#da5a6a"/><stop offset="0.9722" stop-color="#da5b69"/><stop offset="1.0000" stop-color="#da5b69"/></linearGradient>
<linearGradient id="h3r4" gradientUnits="userSpaceOnUse" x1="48.7" x2="259.9" y1="0" y2="0"><stop offset="0.0000" stop-color="#2f0596"/><stop offset="0.0278" stop-color="#370499"/><stop offset="0.0556" stop-color="#3e049c"/><stop offset="0.0833" stop-color="#44039e"/><stop offset="0.1111" stop-color="#4b03a1"/><stop offset="0.1389" stop-color="#5102a3"/><stop offset="0.1667" stop-color="#5801a4"/><stop offset="0.1944" stop-color="#6100a7"/><stop offset="0.2222" stop-color="#6a00a8"/><stop offset="0.2500" stop-color="#7401a8"/><stop offset="0.2778" stop-color="#7d03a8"/><stop offset="0.3056" stop-color="#8606a6"/><stop offset="0.3333" stop-color="#8f0da4"/><stop offset="0.3611" stop-color="#9613a1"/><stop offset="0.3889" stop-color="#9e199d"/><stop offset="0.4167" stop-color="#a51f99"/><stop offset="0.4444" stop-color="#ac2694"/><stop offset="0.4722" stop-color="#b22b8f"/><stop offset="0.5000" stop-color="#b83289"/><stop offset="0.5278" stop-color="#be3885"/><stop offset="0.5556" stop-color="#c43e7f"/><stop offset="0.5833" stop-color="#c9447a"/><stop offset="0.6111" stop-color="#ce4b75"/><stop offset="0.6389" stop-color="#d45270"/><stop offset="0.6667" stop-color="#d8576b"/><stop offset="0.6944" stop-color="#da5a6a"/><stop offset="0.7222" stop-color="#db5c68"/><stop offset="0.7500" stop-color="#dc5d67"/><stop offset="0.7778" stop-color="#de5f65"/><stop offset="0.8056" stop-color="#df6263"/><stop offset="0.8333" stop-color="#e06363"/><stop offset="0.8611" stop-color="#e16462"/><stop offset="0.8889" stop-color="#e26561"/><stop offset="0.9167" stop-color="#e26660"/><stop offset="0.9444" stop-color="#e3685f"/><stop offset="0.9722" stop-color="#e4695e"/><stop offset="1.0000" stop-color="#e56a5d"/></linearGradient>
<linearGradient id="h3r5" gradientUnits="userSpaceOnUse" x1="48.7" x2="259.9" y1="0" y2="0"><stop offset="0.0000" stop-color="#330597"/><stop offset="0.0278" stop-color="#3c049b"/><stop offset="0.0556" stop-color="#43039e"/><stop offset="0.0833" stop-color="#4903a0"/><stop offset="0.1111" stop-color="#5002a2"/><stop offset="0.1389" stop-color="#5601a4"/><stop offset="0.1667" stop-color="#5c01a6"/><stop offset="0.1944" stop-color="#6700a8"/><stop offset="0.2222" stop-color="#7100a8"/><stop offset="0.2500" stop-color="#7a02a8"/><stop offset="0.2778" stop-color="#8305a7"/><stop offset="0.3056" stop-color="#8d0ba5"/><stop offset="0.3333" stop-color="#9511a1"/><stop offset="0.3611" stop-color="#9d189d"/><stop offset="0.3889" stop-color="#a51f99"/><stop offset="0.4167" stop-color="#ac2694"/><stop offset="0.4444" stop-color="#b32c8e"/><stop offset="0.4722" stop-color="#ba3388"/><stop offset="0.5000" stop-color="#c03a83"/><stop offset="0.5278" stop-color="#c6417d"/><stop offset="0.5556" stop-color="#cc4977"/><stop offset="0.5833" stop-color="#d24f71"/><stop offset="0.6111" stop-color="#d7566c"/><stop offset="0.6389" stop-color="#dd5e66"/><stop offset="0.6667" stop-color="#e26561"/><stop offset="0.6944" stop-color="#e3685f"/><stop offset="0.7222" stop-color="#e56a5d"/><stop offset="0.7500" stop-color="#e56b5d"/><stop offset="0.7778" stop-color="#e76e5b"/><stop offset="0.8056" stop-color="#e87059"/><stop offset="0.8333" stop-color="#e97257"/><stop offset="0.8611" stop-color="#ea7457"/><stop offset="0.8889" stop-color="#eb7556"/><stop offset="0.9167" stop-color="#eb7655"/><stop offset="0.9444" stop-color="#ec7754"/><stop offset="0.9722" stop-color="#ed7953"/><stop offset="1.0000" stop-color="#ed7a52"/></linearGradient>
<linearGradient id="h3r6" gradientUnits="userSpaceOnUse" x1="48.7" x2="259.9" y1="0" y2="0"><stop offset="0.0000" stop-color="#38049a"/><stop offset="0.0278" stop-color="#3f049c"/><stop offset="0.0556" stop-color="#48039f"/><stop offset="0.0833" stop-color="#4e02a2"/><stop offset="0.1111" stop-color="#5502a4"/><stop offset="0.1389" stop-color="#5b01a5"/><stop offset="0.1667" stop-color="#6300a7"/><stop offset="0.1944" stop-color="#6c00a8"/><stop offset="0.2222" stop-color="#7701a8"/><stop offset="0.2500" stop-color="#8004a8"/><stop offset="0.2778" stop-color="#8808a6"/><stop offset="0.3056" stop-color="#920fa3"/><stop offset="0.3333" stop-color="#9a169f"/><stop offset="0.3611" stop-color="#a31e9a"/><stop offset="0.3889" stop-color="#ab2494"/><stop offset="0.4167" stop-color="#b32c8e"/><stop offset="0.4444" stop-color="#ba3388"/><stop offset="0.4722" stop-color="#c03a83"/><stop offset="0.5000" stop-color="#c7427c"/><stop offset="0.5278" stop-color="#cd4a76"/><stop offset="0.5556" stop-color="#d45270"/><stop offset="0.5833" stop-color="#da5b69"/><stop offset="0.6111" stop-color="#e06363"/><stop offset="0.6389" stop-color="#e56b5d"/><stop offset="0.6667" stop-color="#eb7556"/><stop offset="0.6944" stop-color="#eb7655"/><stop offset="0.7222" stop-color="#ed7953"/><stop offset="0.7500" stop-color="#ee7b51"/><stop offset="0.7778" stop-color="#ef7c51"/><stop offset="0.8056" stop-color="#f07f4f"/><stop offset="0.8333" stop-color="#f1814d"/><stop offset="0.8611" stop-color="#f1834c"/><stop offset="0.8889" stop-color="#f2844b"/><stop offset="0.9167" stop-color="#f3874a"/><stop offset="0.9444" stop-color="#f48849"/><stop offset="0.9722" stop-color="#f48948"/><stop offset="1.0000" stop-color="#f58b47"/></linearGradient>
<linearGradient id="h3r7" gradientUnits="userSpaceOnUse" x1="48.7" x2="259.9" y1="0" y2="0"><stop offset="0.0000" stop-color="#3f049c"/><stop offset="0.0278" stop-color="#46039f"/><stop offset="0.0556" stop-color="#4c02a1"/><stop offset="0.0833" stop-color="#5502a4"/><stop offset="0.1111" stop-color="#5b01a5"/><stop offset="0.1389" stop-color="#6300a7"/><stop offset="0.1667" stop-color="#6900a8"/><stop offset="0.1944" stop-color="#7401a8"/><stop offset="0.2222" stop-color="#7e03a8"/><stop offset="0.2500" stop-color="#8707a6"/><stop offset="0.2778" stop-color="#910ea3"/><stop offset="0.3056" stop-color="#9a169f"/><stop offset="0.3333" stop-color="#a21d9a"/><stop offset="0.3611" stop-color="#ac2694"/><stop offset="0.3889" stop-color="#b42e8d"/><stop offset="0.4167" stop-color="#bc3587"/><stop offset="0.4444" stop-color="#c43e7f"/><stop offset="0.4722" stop-color="#cb4679"/><stop offset="0.5000" stop-color="#d14e72"/><stop offset="0.5278" stop-color="#d8576b"/><stop offset="0.5556" stop-color="#de6164"/><stop offset="0.5833" stop-color="#e4695e"/><stop offset="0.6111" stop-color="#e97257"/><stop offset="0.6389" stop-color="#ef7c51"/><stop offset="0.6667" stop-color="#f3854b"/><stop offset="0.6944" stop-color="#f48849"/><stop offset="0.7222" stop-color="#f58b47"/><stop offset="0.7500" stop-color="#f68d45"/><stop offset="0.7778" stop-color="#f79044"/><stop offset="0.8056" stop-color="#f79342"/><stop offset="0.8333" stop-color="#f89540"/><stop offset="0.8611" stop-color="#f9973f"/><stop offset="0.8889" stop-color="#f9983e"/><stop offset="0.9167" stop-color="#f99a3e"/><stop offset="0.9444" stop-color="#fa9c3c"/><stop offset="0.9722" stop-color="#fa9e3b"/><stop offset="1.0000" stop-color="#fb9f3a"/></linearGradient>
<linearGradient id="h3r8" gradientUnits="userSpaceOnUse" x1="48.7" x2="259.9" y1="0" y2="0"><stop offset="0.0000" stop-color="#44039e"/><stop offset="0.0278" stop-color="#4c02a1"/><stop offset="0.0556" stop-color="#5302a3"/><stop offset="0.0833" stop-color="#5b01a5"/><stop offset="0.1111" stop-color="#6100a7"/><stop offset="0.1389" stop-color="#6900a8"/><stop offset="0.1667" stop-color="#6f00a8"/><stop offset="0.1944" stop-color="#7a02a8"/><stop offset="0.2222" stop-color="#8405a7"/><stop offset="0.2500" stop-color="#8e0ca4"/><stop offset="0.2778" stop-color="#9814a0"/><stop offset="0.3056" stop-color="#a11b9b"/><stop offset="0.3333" stop-color="#aa2395"/><stop offset="0.3611" stop-color="#b42e8d"/><stop offset="0.3889" stop-color="#bd3786"/><stop offset="0.4167" stop-color="#c5407e"/><stop offset="0.4444" stop-color="#cc4977"/><stop offset="0.4722" stop-color="#d45270"/><stop offset="0.5000" stop-color="#da5b69"/><stop offset="0.5278" stop-color="#e26561"/><stop offset="0.5556" stop-color="#e76f5a"/><stop offset="0.5833" stop-color="#ed7953"/><stop offset="0.6111" stop-color="#f1834c"/><stop offset="0.6389" stop-color="#f68d45"/><stop offset="0.6667" stop-color="#f9983e"/><stop offset="0.6944" stop-color="#fa9b3d"/><stop offset="0.7222" stop-color="#fa9e3b"/><stop offset="0.7500" stop-color="#fba139"/><stop offset="0.7778" stop-color="#fca338"/><stop offset="0.8056" stop-color="#fca636"/><stop offset="0.8333" stop-color="#fca934"/><stop offset="0.8611" stop-color="#fdac33"/><stop offset="0.8889" stop-color="#fdae32"/><stop offset="0.9167" stop-color="#fdaf31"/><stop offset="0.9444" stop-color="#fdb130"/><stop offset="0.9722" stop-color="#fdb42f"/><stop offset="1.0000" stop-color="#fdb52e"/></linearGradient>
<linearGradient id="h3r9" gradientUnits="userSpaceOnUse" x1="48.7" x2="259.9" y1="0" y2="0"><stop offset="0.0000" stop-color="#4b03a1"/><stop offset="0.0278" stop-color="#5102a3"/><stop offset="0.0556" stop-color="#5901a5"/><stop offset="0.0833" stop-color="#6100a7"/><stop offset="0.1111" stop-color="#6700a8"/><stop offset="0.1389" stop-color="#6f00a8"/><stop offset="0.1667" stop-color="#7701a8"/><stop offset="0.1944" stop-color="#8104a7"/><stop offset="0.2222" stop-color="#8d0ba5"/><stop offset="0.2500" stop-color="#9613a1"/><stop offset="0.2778" stop-color="#a01a9c"/><stop offset="0.3056" stop-color="#aa2395"/><stop offset="0.3333" stop-color="#b22b8f"/><stop offset="0.3611" stop-color="#bc3587"/><stop offset="0.3889" stop-color="#c5407e"/><stop offset="0.4167" stop-color="#cd4a76"/><stop offset="0.4444" stop-color="#d5546e"/><stop offset="0.4722" stop-color="#dd5e66"/><stop offset="0.5000" stop-color="#e4695e"/><stop offset="0.5278" stop-color="#e97257"/><stop offset="0.5556" stop-color="#ef7e50"/><stop offset="0.5833" stop-color="#f48849"/><stop offset="0.6111" stop-color="#f89441"/><stop offset="0.6389" stop-color="#fb9f3a"/><stop offset="0.6667" stop-color="#fdac33"/><stop offset="0.6944" stop-color="#fdaf31"/><stop offset="0.7222" stop-color="#fdb22f"/><stop offset="0.7500" stop-color="#fdb52e"/><stop offset="0.7778" stop-color="#feb82c"/><stop offset="0.8056" stop-color="#febb2b"/><stop offset="0.8333" stop-color="#fec029"/><stop offset="0.8611" stop-color="#fdc229"/><stop offset="0.8889" stop-color="#fdc328"/><stop offset="0.9167" stop-color="#fdc527"/><stop offset="0.9444" stop-color="#fdc827"/><stop offset="0.9722" stop-color="#fdca26"/><stop offset="1.0000" stop-color="#fdcb26"/></linearGradient>
<linearGradient id="h3r10" gradientUnits="userSpaceOnUse" x1="48.7" x2="259.9" y1="0" y2="0"><stop offset="0.0000" stop-color="#5102a3"/><stop offset="0.0278" stop-color="#5901a5"/><stop offset="0.0556" stop-color="#6100a7"/><stop offset="0.0833" stop-color="#6900a8"/><stop offset="0.1111" stop-color="#7100a8"/><stop offset="0.1389" stop-color="#7801a8"/><stop offset="0.1667" stop-color="#8004a8"/><stop offset="0.1944" stop-color="#8b0aa5"/><stop offset="0.2222" stop-color="#9613a1"/><stop offset="0.2500" stop-color="#a21d9a"/><stop offset="0.2778" stop-color="#ac2694"/><stop offset="0.3056" stop-color="#b52f8c"/><stop offset="0.3333" stop-color="#be3885"/><stop offset="0.3611" stop-color="#c8437b"/><stop offset="0.3889" stop-color="#d04d73"/><stop offset="0.4167" stop-color="#d9586a"/><stop offset="0.4444" stop-color="#e16462"/><stop offset="0.4722" stop-color="#e76f5a"/><stop offset="0.5000" stop-color="#ee7b51"/><stop offset="0.5278" stop-color="#f2844b"/><stop offset="0.5556" stop-color="#f68f44"/><stop offset="0.5833" stop-color="#f99a3e"/><stop offset="0.6111" stop-color="#fca537"/><stop offset="0.6389" stop-color="#fdaf31"/><stop offset="0.6667" stop-color="#febb2b"/><stop offset="0.6944" stop-color="#febe2a"/><stop offset="0.7222" stop-color="#fdc229"/><stop offset="0.7500" stop-color="#fdc527"/><stop offset="0.7778" stop-color="#fdc827"/><stop offset="0.8056" stop-color="#fdcb26"/><stop offset="0.8333" stop-color="#fcce25"/><stop offset="0.8611" stop-color="#fcd025"/><stop offset="0.8889" stop-color="#fcd225"/><stop offset="0.9167" stop-color="#fbd324"/><stop offset="0.9444" stop-color="#fbd724"/><stop offset="0.9722" stop-color="#fad824"/><stop offset="1.0000" stop-color="#fada24"/></linearGradient>
<linearGradient id="h3r11" gradientUnits="userSpaceOnUse" x1="48.7" x2="259.9" y1="0" y2="0"><stop offset="0.0000" stop-color="#5801a4"/><stop offset="0.0278" stop-color="#6100a7"/><stop offset="0.0556" stop-color="#6900a8"/><stop offset="0.0833" stop-color="#7100a8"/><stop offset="0.1111" stop-color="#7801a8"/><stop offset="0.1389" stop-color="#8104a7"/><stop offset="0.1667" stop-color="#8808a6"/><stop offset="0.1944" stop-color="#9511a1"/><stop offset="0.2222" stop-color="#a11b9b"/><stop offset="0.2500" stop-color="#ac2694"/><stop offset="0.2778" stop-color="#b6308b"/><stop offset="0.3056" stop-color="#c03a83"/><stop offset="0.3333" stop-color="#c9447a"/><stop offset="0.3611" stop-color="#d35171"/><stop offset="0.3889" stop-color="#db5c68"/><stop offset="0.4167" stop-color="#e3685f"/><stop offset="0.4444" stop-color="#ea7457"/><stop offset="0.4722" stop-color="#f0804e"/><stop offset="0.5000" stop-color="#f68d45"/><stop offset="0.5278" stop-color="#f9973f"/><stop offset="0.5556" stop-color="#fba238"/><stop offset="0.5833" stop-color="#fdac33"/><stop offset="0.6111" stop-color="#feb72d"/><stop offset="0.6389" stop-color="#fdc229"/><stop offset="0.6667" stop-color="#fccd25"/><stop offset="0.6944" stop-color="#fcce25"/><stop offset="0.7222" stop-color="#fcd225"/><stop offset="0.7500" stop-color="#fbd524"/><stop offset="0.7778" stop-color="#fad824"/><stop offset="0.8056" stop-color="#f9dc24"/><stop offset="0.8333" stop-color="#f8df25"/><stop offset="0.8611" stop-color="#f8e125"/><stop offset="0.8889" stop-color="#f7e225"/><stop offset="0.9167" stop-color="#f7e425"/><stop offset="0.9444" stop-color="#f6e626"/><stop offset="0.9722" stop-color="#f6e626"/><stop offset="1.0000" stop-color="#f6e826"/></linearGradient>
<linearGradient id="h3r12" gradientUnits="userSpaceOnUse" x1="48.7" x2="259.9" y1="0" y2="0"><stop offset="0.0000" stop-color="#5e01a6"/><stop offset="0.0278" stop-color="#6700a8"/><stop offset="0.0556" stop-color="#7100a8"/><stop offset="0.0833" stop-color="#7801a8"/><stop offset="0.1111" stop-color="#8104a7"/><stop offset="0.1389" stop-color="#8a09a5"/><stop offset="0.1667" stop-color="#910ea3"/><stop offset="0.1944" stop-color="#9e199d"/><stop offset="0.2222" stop-color="#ab2494"/><stop offset="0.2500" stop-color="#b6308b"/><stop offset="0.2778" stop-color="#c13b82"/><stop offset="0.3056" stop-color="#cb4679"/><stop offset="0.3333" stop-color="#d45270"/><stop offset="0.3611" stop-color="#dd5e66"/><stop offset="0.3889" stop-color="#e56a5d"/><stop offset="0.4167" stop-color="#ec7754"/><stop offset="0.4444" stop-color="#f2844b"/><stop offset="0.4722" stop-color="#f79342"/><stop offset="0.5000" stop-color="#fba238"/><stop offset="0.5278" stop-color="#fdab33"/><stop offset="0.5556" stop-color="#fdb42f"/><stop offset="0.5833" stop-color="#febd2a"/><stop offset="0.6111" stop-color="#fdc827"/><stop offset="0.6389" stop-color="#fcd225"/><stop offset="0.6667" stop-color="#f9dc24"/><stop offset="0.6944" stop-color="#f8df25"/><stop offset="0.7222" stop-color="#f8e125"/><stop offset="0.7500" stop-color="#f7e425"/><stop offset="0.7778" stop-color="#f6e826"/><stop offset="0.8056" stop-color="#f5e926"/><stop offset="0.8333" stop-color="#f4ed27"/><stop offset="0.8611" stop-color="#f3ee27"/><stop offset="0.8889" stop-color="#f3f027"/><stop offset="0.9167" stop-color="#f2f227"/><stop offset="0.9444" stop-color="#f2f227"/><stop offset="0.9722" stop-color="#f1f426"/><stop offset="1.0000" stop-color="#f1f525"/></linearGradient>
<linearGradient id="h3r13" gradientUnits="userSpaceOnUse" x1="48.7" x2="259.9" y1="0" y2="0"><stop offset="0.0000" stop-color="#6300a7"/><stop offset="0.0278" stop-color="#6e00a8"/><stop offset="0.0556" stop-color="#7701a8"/><stop offset="0.0833" stop-color="#8104a7"/><stop offset="0.1111" stop-color="#8b0aa5"/><stop offset="0.1389" stop-color="#9410a2"/><stop offset="0.1667" stop-color="#9d189d"/><stop offset="0.1944" stop-color="#ab2494"/><stop offset="0.2222" stop-color="#b7318a"/><stop offset="0.2500" stop-color="#c33d80"/><stop offset="0.2778" stop-color="#cd4a76"/><stop offset="0.3056" stop-color="#d7566c"/><stop offset="0.3333" stop-color="#e06363"/><stop offset="0.3611" stop-color="#e76f5a"/><stop offset="0.3889" stop-color="#ee7b51"/><stop offset="0.4167" stop-color="#f3874a"/><stop offset="0.4444" stop-color="#f89441"/><stop offset="0.4722" stop-color="#fba238"/><stop offset="0.5000" stop-color="#fdb130"/><stop offset="0.5278" stop-color="#feb82c"/><stop offset="0.5556" stop-color="#fec029"/><stop offset="0.5833" stop-color="#fdc827"/><stop offset="0.6111" stop-color="#fcd025"/><stop offset="0.6389" stop-color="#fad824"/><stop offset="0.6667" stop-color="#f7e225"/><stop offset="0.6944" stop-color="#f7e425"/><stop offset="0.7222" stop-color="#f6e626"/><stop offset="0.7500" stop-color="#f5e926"/><stop offset="0.7778" stop-color="#f5eb27"/><stop offset="0.8056" stop-color="#f4ed27"/><stop offset="0.8333" stop-color="#f3f027"/><stop offset="0.8611" stop-color="#f3f027"/><stop offset="0.8889" stop-color="#f2f227"/><stop offset="0.9167" stop-color="#f1f426"/><stop offset="0.9444" stop-color="#f1f525"/><stop offset="0.9722" stop-color="#f1f525"/><stop offset="1.0000" stop-color="#f0f724"/></linearGradient>
<linearGradient id="h3r14" gradientUnits="userSpaceOnUse" x1="48.7" x2="259.9" y1="0" y2="0"><stop offset="0.0000" stop-color="#6700a8"/><stop offset="0.0278" stop-color="#7201a8"/><stop offset="0.0556" stop-color="#7e03a8"/><stop offset="0.0833" stop-color="#8a09a5"/><stop offset="0.1111" stop-color="#9410a2"/><stop offset="0.1389" stop-color="#9e199d"/><stop offset="0.1667" stop-color="#a82296"/><stop offset="0.1944" stop-color="#b6308b"/><stop offset="0.2222" stop-color="#c33d80"/><stop offset="0.2500" stop-color="#ce4b75"/><stop offset="0.2778" stop-color="#d9586a"/><stop offset="0.3056" stop-color="#e26660"/><stop offset="0.3333" stop-color="#eb7556"/><stop offset="0.3611" stop-color="#f0804e"/><stop offset="0.3889" stop-color="#f58c46"/><stop offset="0.4167" stop-color="#f9983e"/><stop offset="0.4444" stop-color="#fca537"/><stop offset="0.4722" stop-color="#fdb22f"/><stop offset="0.5000" stop-color="#fec029"/><stop offset="0.5278" stop-color="#fdc627"/><stop offset="0.5556" stop-color="#fccd25"/><stop offset="0.5833" stop-color="#fbd324"/><stop offset="0.6111" stop-color="#fada24"/><stop offset="0.6389" stop-color="#f8e125"/><stop offset="0.6667" stop-color="#f6e826"/><stop offset="0.6944" stop-color="#f5e926"/><stop offset="0.7222" stop-color="#f5eb27"/><stop offset="0.7500" stop-color="#f4ed27"/><stop offset="0.7778" stop-color="#f3ee27"/><stop offset="0.8056" stop-color="#f3f027"/><stop offset="0.8333" stop-color="#f1f426"/><stop offset="0.8611" stop-color="#f1f426"/><stop offset="0.8889" stop-color="#f1f525"/><stop offset="0.9167" stop-color="#f1f525"/><stop offset="0.9444" stop-color="#f0f724"/><stop offset="0.9722" stop-color="#f0f724"/><stop offset="1.0000" stop-color="#f0f921"/></linearGradient>
<linearGradient id="h3r15" gradientUnits="userSpaceOnUse" x1="48.7" x2="259.9" y1="0" y2="0"><stop offset="0.0000" stop-color="#6a00a8"/><stop offset="0.0278" stop-color="#7801a8"/><stop offset="0.0556" stop-color="#8405a7"/><stop offset="0.0833" stop-color="#910ea3"/><stop offset="0.1111" stop-color="#9d189d"/><stop offset="0.1389" stop-color="#a72197"/><stop offset="0.1667" stop-color="#b22b8f"/><stop offset="0.1944" stop-color="#c03a83"/><stop offset="0.2222" stop-color="#cc4977"/><stop offset="0.2500" stop-color="#d7566c"/><stop offset="0.2778" stop-color="#e26561"/><stop offset="0.3056" stop-color="#eb7556"/><stop offset="0.3333" stop-color="#f3854b"/><stop offset="0.3611" stop-color="#f79044"/><stop offset="0.3889" stop-color="#fa9c3c"/><stop offset="0.4167" stop-color="#fca835"/><stop offset="0.4444" stop-color="#fdb52e"/><stop offset="0.4722" stop-color="#fdc229"/><stop offset="0.5000" stop-color="#fcd025"/><stop offset="0.5278" stop-color="#fbd324"/><stop offset="0.5556" stop-color="#fad824"/><stop offset="0.5833" stop-color="#f9dd25"/><stop offset="0.6111" stop-color="#f7e225"/><stop offset="0.6389" stop-color="#f6e826"/><stop offset="0.6667" stop-color="#f4ed27"/><stop offset="0.6944" stop-color="#f3ee27"/><stop offset="0.7222" stop-color="#f3f027"/><stop offset="0.7500" stop-color="#f2f227"/><stop offset="0.7778" stop-color="#f2f227"/><stop offset="0.8056" stop-color="#f1f426"/><stop offset="0.8333" stop-color="#f1f525"/><stop offset="0.8611" stop-color="#f1f525"/><stop offset="0.8889" stop-color="#f0f724"/><stop offset="0.9167" stop-color="#f0f724"/><stop offset="0.9444" stop-color="#f0f921"/><stop offset="0.9722" stop-color="#f0f921"/><stop offset="1.0000" stop-color="#f0f921"/></linearGradient>
<linearGradient id="h3r16" gradientUnits="userSpaceOnUse" x1="48.7" x2="259.9" y1="0" y2="0"><stop offset="0.0000" stop-color="#6f00a8"/><stop offset="0.0278" stop-color="#7d03a8"/><stop offset="0.0556" stop-color="#8a09a5"/><stop offset="0.0833" stop-color="#9613a1"/><stop offset="0.1111" stop-color="#a21d9a"/><stop offset="0.1389" stop-color="#ad2793"/><stop offset="0.1667" stop-color="#b7318a"/><stop offset="0.1944" stop-color="#c5407e"/><stop offset="0.2222" stop-color="#d14e72"/><stop offset="0.2500" stop-color="#dc5d67"/><stop offset="0.2778" stop-color="#e76e5b"/><stop offset="0.3056" stop-color="#ef7e50"/><stop offset="0.3333" stop-color="#f68f44"/><stop offset="0.3611" stop-color="#f99a3e"/><stop offset="0.3889" stop-color="#fca537"/><stop offset="0.4167" stop-color="#fdaf31"/><stop offset="0.4444" stop-color="#febb2b"/><stop offset="0.4722" stop-color="#fdc827"/><stop offset="0.5000" stop-color="#fbd524"/><stop offset="0.5278" stop-color="#fad824"/><stop offset="0.5556" stop-color="#f9dd25"/><stop offset="0.5833" stop-color="#f8e125"/><stop offset="0.6111" stop-color="#f6e626"/><stop offset="0.6389" stop-color="#f5e926"/><stop offset="0.6667" stop-color="#f3ee27"/><stop offset="0.6944" stop-color="#f3f027"/><stop offset="0.7222" stop-color="#f2f227"/><stop offset="0.7500" stop-color="#f2f227"/><stop offset="0.7778" stop-color="#f1f426"/><stop offset="0.8056" stop-color="#f1f525"/><stop offset="0.8333" stop-color="#f0f724"/><stop offset="0.8611" stop-color="#f0f724"/><stop offset="0.8889" stop-color="#f0f724"/><stop offset="0.9167" stop-color="#f0f921"/><stop offset="0.9444" stop-color="#f0f921"/><stop offset="0.9722" stop-color="#f0f921"/><stop offset="1.0000" stop-color="#f0f921"/></linearGradient>
<linearGradient id="h3r17" gradientUnits="userSpaceOnUse" x1="48.7" x2="259.9" y1="0" y2="0"><stop offset="0.0000" stop-color="#7201a8"/><stop offset="0.0278" stop-color="#8104a7"/><stop offset="0.0556" stop-color="#8e0ca4"/><stop offset="0.0833" stop-color="#9c179e"/><stop offset="0.1111" stop-color="#a72197"/><stop offset="0.1389" stop-color="#b32c8e"/><stop offset="0.1667" stop-color="#bd3786"/><stop offset="0.1944" stop-color="#cb4679"/><stop offset="0.2222" stop-color="#d6556d"/><stop offset="0.2500" stop-color="#e26561"/><stop offset="0.2778" stop-color="#eb7556"/><stop offset="0.3056" stop-color="#f3854b"/><stop offset="0.3333" stop-color="#f9983e"/><stop offset="0.3611" stop-color="#fba238"/><stop offset="0.3889" stop-color="#fdac33"/><stop offset="0.4167" stop-color="#feb82c"/><stop offset="0.4444" stop-color="#fdc328"/><stop offset="0.4722" stop-color="#fcce25"/><stop offset="0.5000" stop-color="#fada24"/><stop offset="0.5278" stop-color="#f8df25"/><stop offset="0.5556" stop-color="#f7e225"/><stop offset="0.5833" stop-color="#f6e626"/><stop offset="0.6111" stop-color="#f5e926"/><stop offset="0.6389" stop-color="#f4ed27"/><stop offset="0.6667" stop-color="#f3f027"/><stop offset="0.6944" stop-color="#f2f227"/><stop offset="0.7222" stop-color="#f2f227"/><stop offset="0.7500" stop-color="#f1f426"/><stop offset="0.7778" stop-color="#f1f525"/><stop offset="0.8056" stop-color="#f0f724"/><stop offset="0.8333" stop-color="#f0f921"/><stop offset="0.8611" stop-color="#f0f921"/><stop offset="0.8889" stop-color="#f0f921"/><stop offset="0.9167" stop-color="#f0f921"/><stop offset="0.9444" stop-color="#f0f921"/><stop offset="0.9722" stop-color="#f0f921"/><stop offset="1.0000" stop-color="#f0f921"/></linearGradient>
<linearGradient id="h3r18" gradientUnits="userSpaceOnUse" x1="48.7" x2="259.9" y1="0" y2="0"><stop offset="0.0000" stop-color="#7701a8"/><stop offset="0.0278" stop-color="#8606a6"/><stop offset="0.0556" stop-color="#9410a2"/><stop offset="0.0833" stop-color="#a11b9b"/><stop offset="0.1111" stop-color="#ad2793"/><stop offset="0.1389" stop-color="#b83289"/><stop offset="0.1667" stop-color="#c33d80"/><stop offset="0.1944" stop-color="#cf4c74"/><stop offset="0.2222" stop-color="#db5c68"/><stop offset="0.2500" stop-color="#e66c5c"/><stop offset="0.2778" stop-color="#ef7c51"/><stop offset="0.3056" stop-color="#f68f44"/><stop offset="0.3333" stop-color="#fba139"/><stop offset="0.3611" stop-color="#fdab33"/><stop offset="0.3889" stop-color="#fdb52e"/><stop offset="0.4167" stop-color="#febe2a"/><stop offset="0.4444" stop-color="#fdca26"/><stop offset="0.4722" stop-color="#fbd524"/><stop offset="0.5000" stop-color="#f8e125"/><stop offset="0.5278" stop-color="#f7e225"/><stop offset="0.5556" stop-color="#f6e626"/><stop offset="0.5833" stop-color="#f5e926"/><stop offset="0.6111" stop-color="#f5eb27"/><stop offset="0.6389" stop-color="#f3ee27"/><stop offset="0.6667" stop-color="#f2f227"/><stop offset="0.6944" stop-color="#f2f227"/><stop offset="0.7222" stop-color="#f1f426"/><stop offset="0.7500" stop-color="#f1f525"/><stop offset="0.7778" stop-color="#f0f724"/><stop offset="0.8056" stop-color="#f0f921"/><stop offset="0.8333" stop-color="#f0f921"/><stop offset="0.8611" stop-color="#f0f921"/><stop offset="0.8889" stop-color="#f0f921"/><stop offset="0.9167" stop-color="#f0f921"/><stop offset="0.9444" stop-color="#f0f921"/><stop offset="0.9722" stop-color="#f0f921"/><stop offset="1.0000" stop-color="#f0f921"/></linearGradient>
<linearGradient id="h3r19" gradientUnits="userSpaceOnUse" x1="48.7" x2="259.9" y1="0" y2="0"><stop offset="0.0000" stop-color="#7e03a8"/><stop offset="0.0278" stop-color="#8d0ba5"/><stop offset="0.0556" stop-color="#9a169f"/><stop offset="0.0833" stop-color="#a72197"/><stop offset="0.1111" stop-color="#b32c8e"/><stop offset="0.1389" stop-color="#bf3984"/><stop offset="0.1667" stop-color="#c9447a"/><stop offset="0.1944" stop-color="#d5536f"/><stop offset="0.2222" stop-color="#e06363"/><stop offset="0.2500" stop-color="#e97257"/><stop offset="0.2778" stop-color="#f2844b"/><stop offset="0.3056" stop-color="#f89540"/><stop offset="0.3333" stop-color="#fca934"/><stop offset="0.3611" stop-color="#fdb22f"/><stop offset="0.3889" stop-color="#febb2b"/><stop offset="0.4167" stop-color="#fdc527"/><stop offset="0.4444" stop-color="#fcce25"/><stop offset="0.4722" stop-color="#fad824"/><stop offset="0.5000" stop-color="#f7e225"/><stop offset="0.5278" stop-color="#f6e626"/><stop offset="0.5556" stop-color="#f6e826"/><stop offset="0.5833" stop-color="#f5eb27"/><stop offset="0.6111" stop-color="#f4ed27"/><stop offset="0.6389" stop-color="#f3f027"/><stop offset="0.6667" stop-color="#f2f227"/><stop offset="0.6944" stop-color="#f1f426"/><stop offset="0.7222" stop-color="#f1f525"/><stop offset="0.7500" stop-color="#f1f525"/><stop offset="0.7778" stop-color="#f0f724"/><stop offset="0.8056" stop-color="#f0f921"/><stop offset="0.8333" stop-color="#f0f921"/><stop offset="0.8611" stop-color="#f0f921"/><stop offset="0.8889" stop-color="#f0f921"/><stop offset="0.9167" stop-color="#f0f921"/><stop offset="0.9444" stop-color="#f0f921"/><stop offset="0.9722" stop-color="#f0f921"/><stop offset="1.0000" stop-color="#f0f921"/></linearGradient>
<linearGradient id="h3r20" gradientUnits="userSpaceOnUse" x1="48.7" x2="259.9" y1="0" y2="0"><stop offset="0.0000" stop-color="#8405a7"/><stop offset="0.0278" stop-color="#9410a2"/><stop offset="0.0556" stop-color="#a11b9b"/><stop offset="0.0833" stop-color="#ad2793"/><stop offset="0.1111" stop-color="#ba3388"/><stop offset="0.1389" stop-color="#c43e7f"/><stop offset="0.1667" stop-color="#ce4b75"/><stop offset="0.1944" stop-color="#da5a6a"/><stop offset="0.2222" stop-color="#e4695e"/><stop offset="0.2500" stop-color="#ed7a52"/><stop offset="0.2778" stop-color="#f58b47"/><stop offset="0.3056" stop-color="#fa9c3c"/><stop offset="0.3333" stop-color="#fdb130"/><stop offset="0.3611" stop-color="#feb82c"/><stop offset="0.3889" stop-color="#fdc229"/><stop offset="0.4167" stop-color="#fdca26"/><stop offset="0.4444" stop-color="#fbd324"/><stop offset="0.4722" stop-color="#f9dc24"/><stop offset="0.5000" stop-color="#f6e626"/><stop offset="0.5278" stop-color="#f6e826"/><stop offset="0.5556" stop-color="#f5eb27"/><stop offset="0.5833" stop-color="#f4ed27"/><stop offset="0.6111" stop-color="#f3f027"/><stop offset="0.6389" stop-color="#f2f227"/><stop offset="0.6667" stop-color="#f1f426"/><stop offset="0.6944" stop-color="#f1f525"/><stop offset="0.7222" stop-color="#f1f525"/><stop offset="0.7500" stop-color="#f0f724"/><stop offset="0.7778" stop-color="#f0f724"/><stop offset="0.8056" stop-color="#f0f921"/><stop offset="0.8333" stop-color="#f0f921"/><stop offset="0.8611" stop-color="#f0f921"/><stop offset="0.8889" stop-color="#f0f921"/><stop offset="0.9167" stop-color="#f0f921"/><stop offset="0.9444" stop-color="#f0f921"/><stop offset="0.9722" stop-color="#f0f921"/><stop offset="1.0000" stop-color="#f0f921"/></linearGradient>
<linearGradient id="h3r21" gradientUnits="userSpaceOnUse" x1="48.7" x2="259.9" y1="0" y2="0"><stop offset="0.0000" stop-color="#8a09a5"/><stop offset="0.0278" stop-color="#99159f"/><stop offset="0.0556" stop-color="#a72197"/><stop offset="0.0833" stop-color="#b42e8d"/><stop offset="0.1111" stop-color="#c03a83"/><stop offset="0.1389" stop-color="#cb4679"/><stop offset="0.1667" stop-color="#d45270"/><stop offset="0.1944" stop-color="#de6164"/><stop offset="0.2222" stop-color="#e87059"/><stop offset="0.2500" stop-color="#f0804e"/><stop offset="0.2778" stop-color="#f79143"/><stop offset="0.3056" stop-color="#fca338"/><stop offset="0.3333" stop-color="#feb82c"/><stop offset="0.3611" stop-color="#fec029"/><stop offset="0.3889" stop-color="#fdc827"/><stop offset="0.4167" stop-color="#fcd025"/><stop offset="0.4444" stop-color="#fad824"/><stop offset="0.4722" stop-color="#f8e125"/><stop offset="0.5000" stop-color="#f5e926"/><stop offset="0.5278" stop-color="#f5eb27"/><stop offset="0.5556" stop-color="#f4ed27"/><stop offset="0.5833" stop-color="#f3ee27"/><stop offset="0.6111" stop-color="#f2f227"/><stop offset="0.6389" stop-color="#f1f426"/><stop offset="0.6667" stop-color="#f1f525"/><stop offset="0.6944" stop-color="#f0f724"/><stop offset="0.7222" stop-color="#f0f724"/><stop offset="0.7500" stop-color="#f0f724"/><stop offset="0.7778" stop-color="#f0f921"/><stop offset="0.8056" stop-color="#f0f921"/><stop offset="0.8333" stop-color="#f0f921"/><stop offset="0.8611" stop-color="#f0f921"/><stop offset="0.8889" stop-color="#f0f921"/><stop offset="0.9167" stop-color="#f0f921"/><stop offset="0.9444" stop-color="#f0f921"/><stop offset="0.9722" stop-color="#f0f921"/><stop offset="1.0000" stop-color="#f0f921"/></linearGradient>
<linearGradient id="h3r22" gradientUnits="userSpaceOnUse" x1="48.7" x2="259.9" y1="0" y2="0"><stop offset="0.0000" stop-color="#910ea3"/><stop offset="0.0278" stop-color="#a01a9c"/><stop offset="0.0556" stop-color="#ae2892"/><stop offset="0.0833" stop-color="#bb3488"/><stop offset="0.1111" stop-color="#c6417d"/><stop offset="0.1389" stop-color="#d14e72"/><stop offset="0.1667" stop-color="#da5b69"/><stop offset="0.1944" stop-color="#e4695e"/><stop offset="0.2222" stop-color="#ed7953"/><stop offset="0.2500" stop-color="#f48849"/><stop offset="0.2778" stop-color="#f9983e"/><stop offset="0.3056" stop-color="#fdab33"/><stop offset="0.3333" stop-color="#febd2a"/><stop offset="0.3611" stop-color="#fdc527"/><stop offset="0.3889" stop-color="#fdcb26"/><stop offset="0.4167" stop-color="#fbd324"/><stop offset="0.4444" stop-color="#fada24"/><stop offset="0.4722" stop-color="#f7e225"/><stop offset="0.5000" stop-color="#f5e926"/><stop offset="0.5278" stop-color="#f4ed27"/><stop offset="0.5556" stop-color="#f3ee27"/><stop offset="0.5833" stop-color="#f3f027"/><stop offset="0.6111" stop-color="#f2f227"/><stop offset="0.6389" stop-color="#f1f525"/><stop offset="0.6667" stop-color="#f0f724"/><stop offset="0.6944" stop-color="#f0f724"/><stop offset="0.7222" stop-color="#f0f921"/><stop offset="0.7500" stop-color="#f0f921"/><stop offset="0.7778" stop-color="#f0f921"/><stop offset="0.8056" stop-color="#f0f921"/><stop offset="0.8333" stop-color="#f0f921"/><stop offset="0.8611" stop-color="#f0f921"/><stop offset="0.8889" stop-color="#f0f921"/><stop offset="0.9167" stop-color="#f0f921"/><stop offset="0.9444" stop-color="#f0f921"/><stop offset="0.9722" stop-color="#f0f921"/><stop offset="1.0000" stop-color="#f0f921"/></linearGradient>
<linearGradient id="h3r23" gradientUnits="userSpaceOnUse" x1="48.7" x2="259.9" y1="0" y2="0"><stop offset="0.0000" stop-color="#9613a1"/><stop offset="0.0278" stop-color="#a62098"/><stop offset="0.0556" stop-color="#b42e8d"/><stop offset="0.0833" stop-color="#c13b82"/><stop offset="0.1111" stop-color="#cc4977"/><stop offset="0.1389" stop-color="#d7566c"/><stop offset="0.1667" stop-color="#e16462"/><stop offset="0.1944" stop-color="#e97257"/><stop offset="0.2222" stop-color="#f0804e"/><stop offset="0.2500" stop-color="#f79044"/><stop offset="0.2778" stop-color="#fb9f3a"/><stop offset="0.3056" stop-color="#fdb130"/><stop offset="0.3333" stop-color="#fdc229"/><stop offset="0.3611" stop-color="#fdca26"/><stop offset="0.3889" stop-color="#fcd025"/><stop offset="0.4167" stop-color="#fbd724"/><stop offset="0.4444" stop-color="#f9dd25"/><stop offset="0.4722" stop-color="#f7e425"/><stop offset="0.5000" stop-color="#f5eb27"/><stop offset="0.5278" stop-color="#f3ee27"/><stop offset="0.5556" stop-color="#f3f027"/><stop offset="0.5833" stop-color="#f2f227"/><stop offset="0.6111" stop-color="#f1f426"/><stop offset="0.6389" stop-color="#f0f724"/><stop offset="0.6667" stop-color="#f0f921"/><stop offset="0.6944" stop-color="#f0f921"/><stop offset="0.7222" stop-color="#f0f921"/><stop offset="0.7500" stop-color="#f0f921"/><stop offset="0.7778" stop-color="#f0f921"/><stop offset="0.8056" stop-color="#f0f921"/><stop offset="0.8333" stop-color="#f0f921"/><stop offset="0.8611" stop-color="#f0f921"/><stop offset="0.8889" stop-color="#f0f921"/><stop offset="0.9167" stop-color="#f0f921"/><stop offset="0.9444" stop-color="#f0f921"/><stop offset="0.9722" stop-color="#f0f921"/><stop offset="1.0000" stop-color="#f0f921"/></linearGradient>
<linearGradient id="h3r24" gradientUnits="userSpaceOnUse" x1="48.7" x2="259.9" y1="0" y2="0"><stop offset="0.0000" stop-color="#9a169f"/><stop offset="0.0278" stop-color="#aa2395"/><stop offset="0.0556" stop-color="#b83289"/><stop offset="0.0833" stop-color="#c5407e"/><stop offset="0.1111" stop-color="#d04d73"/><stop offset="0.1389" stop-color="#db5c68"/><stop offset="0.1667" stop-color="#e56a5d"/><stop offset="0.1944" stop-color="#ec7754"/><stop offset="0.2222" stop-color="#f3854b"/><stop offset="0.2500" stop-color="#f89540"/><stop offset="0.2778" stop-color="#fca537"/><stop offset="0.3056" stop-color="#fdb52e"/><stop offset="0.3333" stop-color="#fdc627"/><stop offset="0.3611" stop-color="#fccd25"/><stop offset="0.3889" stop-color="#fcd225"/><stop offset="0.4167" stop-color="#fad824"/><stop offset="0.4444" stop-color="#f8df25"/><stop offset="0.4722" stop-color="#f6e626"/><stop offset="0.5000" stop-color="#f4ed27"/><stop offset="0.5278" stop-color="#f3ee27"/><stop offset="0.5556" stop-color="#f3f027"/><stop offset="0.5833" stop-color="#f1f426"/><stop offset="0.6111" stop-color="#f1f525"/><stop offset="0.6389" stop-color="#f0f724"/><stop offset="0.6667" stop-color="#f0f921"/><stop offset="0.6944" stop-color="#f0f921"/><stop offset="0.7222" stop-color="#f0f921"/><stop offset="0.7500" stop-color="#f0f921"/><stop offset="0.7778" stop-color="#f0f921"/><stop offset="0.8056" stop-color="#f0f921"/><stop offset="0.8333" stop-color="#f0f921"/><stop offset="0.8611" stop-color="#f0f921"/><stop offset="0.8889" stop-color="#f0f921"/><stop offset="0.9167" stop-color="#f0f921"/><stop offset="0.9444" stop-color="#f0f921"/><stop offset="0.9722" stop-color="#f0f921"/><stop offset="1.0000" stop-color="#f0f921"/></linearGradient>
<clipPath id="hc3"><rect x="48.7" y="339.4" width="211.2" height="189.0"/></clipPath>
</defs>
<rect width="685" height="594" fill="#fff"/>
<g clip-path="url(#hc1)">
<rect x="47.0" y="38" width="227.0" height="8" fill="url(#h1r0)"/>
<rect x="47.0" y="38" width="227.0" height="8" fill="url(#h1r1)" mask="url(#vm)"/>
<rect x="47.0" y="46" width="227.0" height="8" fill="url(#h1r1)"/>
<rect x="47.0" y="46" width="227.0" height="8" fill="url(#h1r2)" mask="url(#vm)"/>
<rect x="47.0" y="54" width="227.0" height="8" fill="url(#h1r2)"/>
<rect x="47.0" y="54" width="227.0" height="8" fill="url(#h1r3)" mask="url(#vm)"/>
<rect x="47.0" y="62" width="227.0" height="8" fill="url(#h1r3)"/>
<rect x="47.0" y="62" width="227.0" height="8" fill="url(#h1r4)" mask="url(#vm)"/>
<rect x="47.0" y="70" width="227.0" height="8" fill="url(#h1r4)"/>
<rect x="47.0" y="70" width="227.0" height="8" fill="url(#h1r5)" mask="url(#vm)"/>
<rect x="47.0" y="78" width="227.0" height="8" fill="url(#h1r5)"/>
<rect x="47.0" y="78" width="227.0" height="8" fill="url(#h1r6)" mask="url(#vm)"/>
<rect x="47.0" y="86" width="227.0" height="8" fill="url(#h1r6)"/>
<rect x="47.0" y="86" width="227.0" height="8" fill="url(#h1r7)" mask="url(#vm)"/>
<rect x="47.0" y="94" width="227.0" height="8" fill="url(#h1r7)"/>
<rect x="47.0" y="94" width="227.0" height="8" fill="url(#h1r8)" mask="url(#vm)"/>
<rect x="47.0" y="102" width="227.0" height="8" fill="url(#h1r8)"/>
<rect x="47.0" y="102" width="227.0" height="8" fill="url(#h1r9)" mask="url(#vm)"/>
<rect x="47.0" y="110" width="227.0" height="8" fill="url(#h1r9)"/>
<rect x="47.0" y="110" width="227.0" height="8" fill="url(#h1r10)" mask="url(#vm)"/>
<rect x="47.0" y="118" width="227.0" height="8" fill="url(#h1r10)"/>
<rect x="47.0" y="118" width="227.0" height="8" fill="url(#h1r11)" mask="url(#vm)"/>
<rect x="47.0" y="126" width="227.0" height="8" fill="url(#h1r11)"/>
<rect x="47.0" y="126" width="227.0" height="8" fill="url(#h1r12)" mask="url(#vm)"/>
<rect x="47.0" y="134" width="227.0" height="8" fill="url(#h1r12)"/>
<rect x="47.0" y="134" width="227.0" height="8" fill="url(#h1r13)" mask="url(#vm)"/>
<rect x="47.0" y="142" width="227.0" height="8" fill="url(#h1r13)"/>
<rect x="47.0" y="142" width="227.0" height="8" fill="url(#h1r14)" mask="url(#vm)"/>
<rect x="47.0" y="150" width="227.0" height="8" fill="url(#h1r14)"/>
<rect x="47.0" y="150" width="227.0" height="8" fill="url(#h1r15)" mask="url(#vm)"/>
<rect x="47.0" y="158" width="227.0" height="8" fill="url(#h1r15)"/>
<rect x="47.0" y="158" width="227.0" height="8" fill="url(#h1r16)" mask="url(#vm)"/>
<rect x="47.0" y="166" width="227.0" height="8" fill="url(#h1r16)"/>
<rect x="47.0" y="166" width="227.0" height="8" fill="url(#h1r17)" mask="url(#vm)"/>
<rect x="47.0" y="174" width="227.0" height="8" fill="url(#h1r17)"/>
<rect x="47.0" y="174" width="227.0" height="8" fill="url(#h1r18)" mask="url(#vm)"/>
<rect x="47.0" y="182" width="227.0" height="8" fill="url(#h1r18)"/>
<rect x="47.0" y="182" width="227.0" height="8" fill="url(#h1r19)" mask="url(#vm)"/>
<rect x="47.0" y="190" width="227.0" height="8" fill="url(#h1r19)"/>
<rect x="47.0" y="190" width="227.0" height="8" fill="url(#h1r20)" mask="url(#vm)"/>
<rect x="47.0" y="198" width="227.0" height="8" fill="url(#h1r20)"/>
<rect x="47.0" y="198" width="227.0" height="8" fill="url(#h1r21)" mask="url(#vm)"/>
<rect x="47.0" y="206" width="227.0" height="8" fill="url(#h1r21)"/>
<rect x="47.0" y="206" width="227.0" height="8" fill="url(#h1r22)" mask="url(#vm)"/>
<rect x="47.0" y="214" width="227.0" height="8" fill="url(#h1r22)"/>
<rect x="47.0" y="214" width="227.0" height="8" fill="url(#h1r23)" mask="url(#vm)"/>
<rect x="47.0" y="222" width="227.0" height="8" fill="url(#h1r23)"/>
<rect x="47.0" y="222" width="227.0" height="8" fill="url(#h1r24)" mask="url(#vm)"/>
</g>
<line x1="115.10" y1="38.20" x2="115.10" y2="229.60" stroke="#1a1a1a" stroke-width="0.6" stroke-dasharray="1 1" opacity="0.8"/>
<line x1="181.20" y1="38.20" x2="181.20" y2="229.60" stroke="#1a1a1a" stroke-width="0.6" stroke-dasharray="2.4 1.2" opacity="0.7"/>
<line x1="232.40" y1="38.20" x2="232.40" y2="229.60" stroke="#1a1a1a" stroke-width="0.6" stroke-dasharray="3 1 1 1" opacity="0.5"/>
<rect x="48.7" y="38.2" width="224.3" height="191.39999999999998" fill="none" stroke="#151515" stroke-width="0.8"/>
<line x1="46.10" y1="38.20" x2="48.70" y2="38.20" stroke="#222" stroke-width="0.6" />
<text x="20.20" y="43.70" font-size="14" textLength="21.80" lengthAdjust="spacingAndGlyphs" fill="#000" stroke="#000" stroke-width="0.25" >1.0</text>
<line x1="46.10" y1="86.05" x2="48.70" y2="86.05" stroke="#222" stroke-width="0.6" />
<text x="20.20" y="91.55" font-size="14" textLength="21.80" lengthAdjust="spacingAndGlyphs" fill="#000" stroke="#000" stroke-width="0.25" >0.8</text>
<line x1="46.10" y1="133.90" x2="48.70" y2="133.90" stroke="#222" stroke-width="0.6" />
<text x="20.20" y="139.40" font-size="14" textLength="21.80" lengthAdjust="spacingAndGlyphs" fill="#000" stroke="#000" stroke-width="0.25" >0.6</text>
<line x1="46.10" y1="181.75" x2="48.70" y2="181.75" stroke="#222" stroke-width="0.6" />
<text x="20.20" y="187.25" font-size="14" textLength="21.80" lengthAdjust="spacingAndGlyphs" fill="#000" stroke="#000" stroke-width="0.25" >0.4</text>
<line x1="46.10" y1="229.60" x2="48.70" y2="229.60" stroke="#222" stroke-width="0.6" />
<text x="20.20" y="235.10" font-size="14" textLength="21.80" lengthAdjust="spacingAndGlyphs" fill="#000" stroke="#000" stroke-width="0.25" >0.2</text>
<line x1="48.70" y1="229.60" x2="48.70" y2="232.20" stroke="#222" stroke-width="0.6" />
<text x="36.30" y="246.00" font-size="14" textLength="17.04" lengthAdjust="spacingAndGlyphs" fill="#000" stroke="#000" stroke-width="0.25" >10</text>
<text x="54.00" y="241.00" font-size="10.5" textLength="6.31" lengthAdjust="spacingAndGlyphs" fill="#000" stroke="#000" stroke-width="0.08" >0</text>
<line x1="123.47" y1="229.60" x2="123.47" y2="232.20" stroke="#222" stroke-width="0.6" />
<text x="111.07" y="246.00" font-size="14" textLength="17.04" lengthAdjust="spacingAndGlyphs" fill="#000" stroke="#000" stroke-width="0.25" >10</text>
<text x="128.77" y="241.00" font-size="10.5" textLength="6.31" lengthAdjust="spacingAndGlyphs" fill="#000" stroke="#000" stroke-width="0.08" >2</text>
<line x1="198.23" y1="229.60" x2="198.23" y2="232.20" stroke="#222" stroke-width="0.6" />
<text x="185.83" y="246.00" font-size="14" textLength="17.04" lengthAdjust="spacingAndGlyphs" fill="#000" stroke="#000" stroke-width="0.25" >10</text>
<text x="203.53" y="241.00" font-size="10.5" textLength="6.31" lengthAdjust="spacingAndGlyphs" fill="#000" stroke="#000" stroke-width="0.08" >4</text>
<line x1="273.00" y1="229.60" x2="273.00" y2="232.20" stroke="#222" stroke-width="0.6" />
<text x="260.60" y="246.00" font-size="14" textLength="17.04" lengthAdjust="spacingAndGlyphs" fill="#000" stroke="#000" stroke-width="0.25" >10</text>
<text x="278.30" y="241.00" font-size="10.5" textLength="6.31" lengthAdjust="spacingAndGlyphs" fill="#000" stroke="#000" stroke-width="0.08" >6</text>
<text x="61.00" y="263.00" font-size="14.3" textLength="199.50" lengthAdjust="spacingAndGlyphs" fill="#000" stroke="#000" stroke-width="0.25" >Time window Δ<tspan font-style="italic">t</tspan> (seconds)</text>
<text transform="translate(11.60,212.80) rotate(-90)" font-size="15.2" textLength="156.47" lengthAdjust="spacingAndGlyphs" fill="#000" stroke="#000" stroke-width="0.25">Minimum similarity Θ<tspan font-style="italic" font-size="10" dy="2.5">c</tspan></text>
<rect x="54.1" y="170.2" width="99.20000000000002" height="54.400000000000006" rx="2.2" fill="#fff" fill-opacity="0.8" stroke="#ccc" stroke-opacity="0.8" stroke-width="0.6"/>
<line x1="59.00" y1="179.50" x2="83.20" y2="179.50" stroke="#1a1a1a" stroke-width="0.6" stroke-dasharray="1 1" opacity="0.8"/>
<line x1="59.00" y1="196.50" x2="83.20" y2="196.50" stroke="#1a1a1a" stroke-width="0.6" stroke-dasharray="2.4 1.2" opacity="0.7"/>
<line x1="59.00" y1="213.20" x2="83.20" y2="213.20" stroke="#1a1a1a" stroke-width="0.6" stroke-dasharray="3 1 1 1" opacity="0.5"/>
<text x="94.40" y="183.90" font-size="12.5" textLength="53.61" lengthAdjust="spacingAndGlyphs" fill="#000" stroke="#000" stroke-width="0.08" >1 minute</text>
<text x="94.40" y="200.70" font-size="12.5" textLength="38.21" lengthAdjust="spacingAndGlyphs" fill="#000" stroke="#000" stroke-width="0.08" >1 hour</text>
<text x="94.40" y="217.70" font-size="12.5" textLength="32.12" lengthAdjust="spacingAndGlyphs" fill="#000" stroke="#000" stroke-width="0.08" >1 day</text>
<rect x="279.0" y="38.2" width="11.0" height="191.39999999999998" fill="url(#cb)"/>
<rect x="279.0" y="38.2" width="11.0" height="191.39999999999998" fill="none" stroke="#222" stroke-width="0.6"/>
<line x1="290.00" y1="38.20" x2="292.60" y2="38.20" stroke="#222" stroke-width="0.6" />
<text x="295.50" y="43.00" font-size="13.5" textLength="37.56" lengthAdjust="spacingAndGlyphs" fill="#000" stroke="#000" stroke-width="0.25" >0.662</text>
<line x1="290.00" y1="127.80" x2="292.60" y2="127.80" stroke="#222" stroke-width="0.6" />
<text x="295.50" y="132.60" font-size="13.5" textLength="19.90" lengthAdjust="spacingAndGlyphs" fill="#000" stroke="#000" stroke-width="0.25" >0.1</text>
<line x1="290.00" y1="192.70" x2="292.60" y2="192.70" stroke="#222" stroke-width="0.6" />
<text x="295.50" y="197.50" font-size="13.5" textLength="28.92" lengthAdjust="spacingAndGlyphs" fill="#000" stroke="#000" stroke-width="0.25" >0.01</text>
<line x1="290.00" y1="228.60" x2="292.60" y2="228.60" stroke="#222" stroke-width="0.6" />
<text x="295.50" y="233.40" font-size="13.5" textLength="37.56" lengthAdjust="spacingAndGlyphs" fill="#000" stroke="#000" stroke-width="0.25" >0.001</text>
<text x="253.70" y="12.00" font-size="14.3" textLength="61.18" lengthAdjust="spacingAndGlyphs" fill="#000" stroke="#000" stroke-width="0.25" >Network</text>
<text x="257.20" y="27.20" font-size="14.3" textLength="54.27" lengthAdjust="spacingAndGlyphs" fill="#000" stroke="#000" stroke-width="0.25" >density</text>
<g clip-path="url(#hc2)">
<rect x="400.0" y="38" width="233.0" height="8" fill="url(#h2r0)"/>
<rect x="400.0" y="38" width="233.0" height="8" fill="url(#h2r1)" mask="url(#vm)"/>
<rect x="400.0" y="46" width="233.0" height="8" fill="url(#h2r1)"/>
<rect x="400.0" y="46" width="233.0" height="8" fill="url(#h2r2)" mask="url(#vm)"/>
<rect x="400.0" y="54" width="233.0" height="8" fill="url(#h2r2)"/>
<rect x="400.0" y="54" width="233.0" height="8" fill="url(#h2r3)" mask="url(#vm)"/>
<rect x="400.0" y="62" width="233.0" height="8" fill="url(#h2r3)"/>
<rect x="400.0" y="62" width="233.0" height="8" fill="url(#h2r4)" mask="url(#vm)"/>
<rect x="400.0" y="70" width="233.0" height="8" fill="url(#h2r4)"/>
<rect x="400.0" y="70" width="233.0" height="8" fill="url(#h2r5)" mask="url(#vm)"/>
<rect x="400.0" y="78" width="233.0" height="8" fill="url(#h2r5)"/>
<rect x="400.0" y="78" width="233.0" height="8" fill="url(#h2r6)" mask="url(#vm)"/>
<rect x="400.0" y="86" width="233.0" height="8" fill="url(#h2r6)"/>
<rect x="400.0" y="86" width="233.0" height="8" fill="url(#h2r7)" mask="url(#vm)"/>
<rect x="400.0" y="94" width="233.0" height="8" fill="url(#h2r7)"/>
<rect x="400.0" y="94" width="233.0" height="8" fill="url(#h2r8)" mask="url(#vm)"/>
<rect x="400.0" y="102" width="233.0" height="8" fill="url(#h2r8)"/>
<rect x="400.0" y="102" width="233.0" height="8" fill="url(#h2r9)" mask="url(#vm)"/>
<rect x="400.0" y="110" width="233.0" height="8" fill="url(#h2r9)"/>
<rect x="400.0" y="110" width="233.0" height="8" fill="url(#h2r10)" mask="url(#vm)"/>
<rect x="400.0" y="118" width="233.0" height="8" fill="url(#h2r10)"/>
<rect x="400.0" y="118" width="233.0" height="8" fill="url(#h2r11)" mask="url(#vm)"/>
<rect x="400.0" y="126" width="233.0" height="8" fill="url(#h2r11)"/>
<rect x="400.0" y="126" width="233.0" height="8" fill="url(#h2r12)" mask="url(#vm)"/>
<rect x="400.0" y="134" width="233.0" height="8" fill="url(#h2r12)"/>
<rect x="400.0" y="134" width="233.0" height="8" fill="url(#h2r13)" mask="url(#vm)"/>
<rect x="400.0" y="142" width="233.0" height="8" fill="url(#h2r13)"/>
<rect x="400.0" y="142" width="233.0" height="8" fill="url(#h2r14)" mask="url(#vm)"/>
<rect x="400.0" y="150" width="233.0" height="8" fill="url(#h2r14)"/>
<rect x="400.0" y="150" width="233.0" height="8" fill="url(#h2r15)" mask="url(#vm)"/>
<rect x="400.0" y="158" width="233.0" height="8" fill="url(#h2r15)"/>
<rect x="400.0" y="158" width="233.0" height="8" fill="url(#h2r16)" mask="url(#vm)"/>
<rect x="400.0" y="166" width="233.0" height="8" fill="url(#h2r16)"/>
<rect x="400.0" y="166" width="233.0" height="8" fill="url(#h2r17)" mask="url(#vm)"/>
<rect x="400.0" y="174" width="233.0" height="8" fill="url(#h2r17)"/>
<rect x="400.0" y="174" width="233.0" height="8" fill="url(#h2r18)" mask="url(#vm)"/>
<rect x="400.0" y="182" width="233.0" height="8" fill="url(#h2r18)"/>
<rect x="400.0" y="182" width="233.0" height="8" fill="url(#h2r19)" mask="url(#vm)"/>
<rect x="400.0" y="190" width="233.0" height="8" fill="url(#h2r19)"/>
<rect x="400.0" y="190" width="233.0" height="8" fill="url(#h2r20)" mask="url(#vm)"/>
<rect x="400.0" y="198" width="233.0" height="8" fill="url(#h2r20)"/>
<rect x="400.0" y="198" width="233.0" height="8" fill="url(#h2r21)" mask="url(#vm)"/>
<rect x="400.0" y="206" width="233.0" height="8" fill="url(#h2r21)"/>
<rect x="400.0" y="206" width="233.0" height="8" fill="url(#h2r22)" mask="url(#vm)"/>
<rect x="400.0" y="214" width="233.0" height="8" fill="url(#h2r22)"/>
<rect x="400.0" y="214" width="233.0" height="8" fill="url(#h2r23)" mask="url(#vm)"/>
<rect x="400.0" y="222" width="233.0" height="7" fill="url(#h2r23)"/>
<rect x="400.0" y="222" width="233.0" height="7" fill="url(#h2r24)" mask="url(#vm)"/>
</g>
<line x1="469.36" y1="38.90" x2="469.36" y2="228.20" stroke="#1a1a1a" stroke-width="0.6" stroke-dasharray="1 1" opacity="0.6"/>
<line x1="537.52" y1="38.90" x2="537.52" y2="228.20" stroke="#1a1a1a" stroke-width="0.8" stroke-dasharray="2.4 1.2" opacity="0.75"/>
<line x1="590.43" y1="38.90" x2="590.43" y2="228.20" stroke="#1a1a1a" stroke-width="0.6" opacity="0.22"/>
<rect x="401.2" y="38.9" width="230.00000000000006" height="189.29999999999998" fill="none" stroke="#151515" stroke-width="0.8"/>
<line x1="398.60" y1="38.90" x2="401.20" y2="38.90" stroke="#222" stroke-width="0.6" />
<text x="371.60" y="44.40" font-size="14" textLength="23.20" lengthAdjust="spacingAndGlyphs" fill="#000" stroke="#000" stroke-width="0.25" >1.0</text>
<line x1="398.60" y1="86.22" x2="401.20" y2="86.22" stroke="#222" stroke-width="0.6" />
<text x="371.60" y="91.72" font-size="14" textLength="23.20" lengthAdjust="spacingAndGlyphs" fill="#000" stroke="#000" stroke-width="0.25" >0.8</text>
<line x1="398.60" y1="133.55" x2="401.20" y2="133.55" stroke="#222" stroke-width="0.6" />
<text x="371.60" y="139.05" font-size="14" textLength="23.20" lengthAdjust="spacingAndGlyphs" fill="#000" stroke="#000" stroke-width="0.25" >0.6</text>
<line x1="398.60" y1="180.88" x2="401.20" y2="180.88" stroke="#222" stroke-width="0.6" />
<text x="371.60" y="186.38" font-size="14" textLength="23.20" lengthAdjust="spacingAndGlyphs" fill="#000" stroke="#000" stroke-width="0.25" >0.4</text>
<line x1="398.60" y1="228.20" x2="401.20" y2="228.20" stroke="#222" stroke-width="0.6" />
<text x="371.60" y="233.70" font-size="14" textLength="23.20" lengthAdjust="spacingAndGlyphs" fill="#000" stroke="#000" stroke-width="0.25" >0.2</text>
<line x1="401.20" y1="228.20" x2="401.20" y2="230.80" stroke="#222" stroke-width="0.6" />
<text x="388.20" y="244.50" font-size="14" textLength="17.04" lengthAdjust="spacingAndGlyphs" fill="#000" stroke="#000" stroke-width="0.25" >10</text>
<text x="405.90" y="239.50" font-size="10.5" textLength="6.31" lengthAdjust="spacingAndGlyphs" fill="#000" stroke="#000" stroke-width="0.08" >0</text>
<line x1="477.87" y1="228.20" x2="477.87" y2="230.80" stroke="#222" stroke-width="0.6" />
<text x="464.87" y="244.50" font-size="14" textLength="17.04" lengthAdjust="spacingAndGlyphs" fill="#000" stroke="#000" stroke-width="0.25" >10</text>
<text x="482.57" y="239.50" font-size="10.5" textLength="6.31" lengthAdjust="spacingAndGlyphs" fill="#000" stroke="#000" stroke-width="0.08" >2</text>
<line x1="554.53" y1="228.20" x2="554.53" y2="230.80" stroke="#222" stroke-width="0.6" />
<text x="541.53" y="244.50" font-size="14" textLength="17.04" lengthAdjust="spacingAndGlyphs" fill="#000" stroke="#000" stroke-width="0.25" >10</text>
<text x="559.23" y="239.50" font-size="10.5" textLength="6.31" lengthAdjust="spacingAndGlyphs" fill="#000" stroke="#000" stroke-width="0.08" >4</text>
<line x1="631.20" y1="228.20" x2="631.20" y2="230.80" stroke="#222" stroke-width="0.6" />
<text x="618.20" y="244.50" font-size="14" textLength="17.04" lengthAdjust="spacingAndGlyphs" fill="#000" stroke="#000" stroke-width="0.25" >10</text>
<text x="635.90" y="239.50" font-size="10.5" textLength="6.31" lengthAdjust="spacingAndGlyphs" fill="#000" stroke="#000" stroke-width="0.08" >6</text>
<text x="413.00" y="263.00" font-size="14.3" textLength="204.80" lengthAdjust="spacingAndGlyphs" fill="#000" stroke="#000" stroke-width="0.25" >Time window Δ<tspan font-style="italic">t</tspan> (seconds)</text>
<text transform="translate(362.30,211.80) rotate(-90)" font-size="15.8" textLength="155.77" lengthAdjust="spacingAndGlyphs" fill="#000" stroke="#000" stroke-width="0.25">Minimum similarity Θ<tspan font-style="italic" font-size="10" dy="2.5">c</tspan></text>
<rect x="407.3" y="166.9" width="100.30000000000001" height="55.599999999999994" rx="2.2" fill="#fff" fill-opacity="0.8" stroke="#ccc" stroke-opacity="0.8" stroke-width="0.6"/>
<line x1="412.00" y1="176.50" x2="437.60" y2="176.50" stroke="#1a1a1a" stroke-width="0.6" stroke-dasharray="1 1" opacity="0.6"/>
<line x1="412.00" y1="193.90" x2="437.60" y2="193.90" stroke="#1a1a1a" stroke-width="0.8" stroke-dasharray="2.4 1.2" opacity="0.75"/>
<line x1="412.00" y1="211.40" x2="437.60" y2="211.40" stroke="#1a1a1a" stroke-width="0.6" opacity="0.22"/>
<text x="447.90" y="181.30" font-size="12.5" textLength="54.31" lengthAdjust="spacingAndGlyphs" fill="#000" stroke="#000" stroke-width="0.08" >1 minute</text>
<text x="447.90" y="198.40" font-size="12.5" textLength="39.41" lengthAdjust="spacingAndGlyphs" fill="#000" stroke="#000" stroke-width="0.08" >1 hour</text>
<text x="447.90" y="215.90" font-size="12.5" textLength="33.52" lengthAdjust="spacingAndGlyphs" fill="#000" stroke="#000" stroke-width="0.08" >1 day</text>
<rect x="637.4" y="38.9" width="10.800000000000068" height="189.29999999999998" fill="url(#cb)"/>
<rect x="637.4" y="38.9" width="10.800000000000068" height="189.29999999999998" fill="none" stroke="#222" stroke-width="0.6"/>
<line x1="648.20" y1="38.90" x2="650.80" y2="38.90" stroke="#222" stroke-width="0.6" />
<text x="655.00" y="43.90" font-size="13.5" textLength="15.13" lengthAdjust="spacingAndGlyphs" fill="#000" stroke="#000" stroke-width="0.25" >10</text>
<text x="671.30" y="38.80" font-size="9.4" textLength="6.21" lengthAdjust="spacingAndGlyphs" fill="#000" stroke="#000" stroke-width="0.08" >4</text>
<line x1="648.20" y1="101.90" x2="650.80" y2="101.90" stroke="#222" stroke-width="0.6" />
<text x="655.00" y="106.90" font-size="13.5" textLength="15.13" lengthAdjust="spacingAndGlyphs" fill="#000" stroke="#000" stroke-width="0.25" >10</text>
<text x="671.30" y="101.80" font-size="9.4" textLength="6.21" lengthAdjust="spacingAndGlyphs" fill="#000" stroke="#000" stroke-width="0.08" >3</text>
<line x1="648.20" y1="165.20" x2="650.80" y2="165.20" stroke="#222" stroke-width="0.6" />
<text x="655.00" y="170.20" font-size="13.5" textLength="15.13" lengthAdjust="spacingAndGlyphs" fill="#000" stroke="#000" stroke-width="0.25" >10</text>
<text x="671.30" y="165.10" font-size="9.4" textLength="6.21" lengthAdjust="spacingAndGlyphs" fill="#000" stroke="#000" stroke-width="0.08" >2</text>
<line x1="648.20" y1="228.20" x2="650.80" y2="228.20" stroke="#222" stroke-width="0.6" />
<text x="655.00" y="233.20" font-size="13.5" textLength="15.13" lengthAdjust="spacingAndGlyphs" fill="#000" stroke="#000" stroke-width="0.25" >10</text>
<text x="671.30" y="228.10" font-size="9.4" textLength="6.21" lengthAdjust="spacingAndGlyphs" fill="#000" stroke="#000" stroke-width="0.08" >1</text>
<text x="602.10" y="11.70" font-size="14.3" textLength="81.48" lengthAdjust="spacingAndGlyphs" fill="#000" stroke="#000" stroke-width="0.25" >Number of</text>
<text x="620.20" y="27.70" font-size="14.3" textLength="44.99" lengthAdjust="spacingAndGlyphs" fill="#000" stroke="#000" stroke-width="0.25" >nodes</text>
<g clip-path="url(#hc3)">
<rect x="47.0" y="339" width="214.0" height="8" fill="url(#h3r0)"/>
<rect x="47.0" y="339" width="214.0" height="8" fill="url(#h3r1)" mask="url(#vm)"/>
<rect x="47.0" y="347" width="214.0" height="8" fill="url(#h3r1)"/>
<rect x="47.0" y="347" width="214.0" height="8" fill="url(#h3r2)" mask="url(#vm)"/>
<rect x="47.0" y="355" width="214.0" height="8" fill="url(#h3r2)"/>
<rect x="47.0" y="355" width="214.0" height="8" fill="url(#h3r3)" mask="url(#vm)"/>
<rect x="47.0" y="363" width="214.0" height="8" fill="url(#h3r3)"/>
<rect x="47.0" y="363" width="214.0" height="8" fill="url(#h3r4)" mask="url(#vm)"/>
<rect x="47.0" y="371" width="214.0" height="8" fill="url(#h3r4)"/>
<rect x="47.0" y="371" width="214.0" height="8" fill="url(#h3r5)" mask="url(#vm)"/>
<rect x="47.0" y="379" width="214.0" height="8" fill="url(#h3r5)"/>
<rect x="47.0" y="379" width="214.0" height="8" fill="url(#h3r6)" mask="url(#vm)"/>
<rect x="47.0" y="387" width="214.0" height="8" fill="url(#h3r6)"/>
<rect x="47.0" y="387" width="214.0" height="8" fill="url(#h3r7)" mask="url(#vm)"/>
<rect x="47.0" y="395" width="214.0" height="8" fill="url(#h3r7)"/>
<rect x="47.0" y="395" width="214.0" height="8" fill="url(#h3r8)" mask="url(#vm)"/>
<rect x="47.0" y="403" width="214.0" height="8" fill="url(#h3r8)"/>
<rect x="47.0" y="403" width="214.0" height="8" fill="url(#h3r9)" mask="url(#vm)"/>
<rect x="47.0" y="411" width="214.0" height="8" fill="url(#h3r9)"/>
<rect x="47.0" y="411" width="214.0" height="8" fill="url(#h3r10)" mask="url(#vm)"/>
<rect x="47.0" y="419" width="214.0" height="8" fill="url(#h3r10)"/>
<rect x="47.0" y="419" width="214.0" height="8" fill="url(#h3r11)" mask="url(#vm)"/>
<rect x="47.0" y="427" width="214.0" height="8" fill="url(#h3r11)"/>
<rect x="47.0" y="427" width="214.0" height="8" fill="url(#h3r12)" mask="url(#vm)"/>
<rect x="47.0" y="435" width="214.0" height="8" fill="url(#h3r12)"/>
<rect x="47.0" y="435" width="214.0" height="8" fill="url(#h3r13)" mask="url(#vm)"/>
<rect x="47.0" y="443" width="214.0" height="8" fill="url(#h3r13)"/>
<rect x="47.0" y="443" width="214.0" height="8" fill="url(#h3r14)" mask="url(#vm)"/>
<rect x="47.0" y="451" width="214.0" height="8" fill="url(#h3r14)"/>
<rect x="47.0" y="451" width="214.0" height="8" fill="url(#h3r15)" mask="url(#vm)"/>
<rect x="47.0" y="459" width="214.0" height="8" fill="url(#h3r15)"/>
<rect x="47.0" y="459" width="214.0" height="8" fill="url(#h3r16)" mask="url(#vm)"/>
<rect x="47.0" y="467" width="214.0" height="8" fill="url(#h3r16)"/>
<rect x="47.0" y="467" width="214.0" height="8" fill="url(#h3r17)" mask="url(#vm)"/>
<rect x="47.0" y="475" width="214.0" height="8" fill="url(#h3r17)"/>
<rect x="47.0" y="475" width="214.0" height="8" fill="url(#h3r18)" mask="url(#vm)"/>
<rect x="47.0" y="483" width="214.0" height="8" fill="url(#h3r18)"/>
<rect x="47.0" y="483" width="214.0" height="8" fill="url(#h3r19)" mask="url(#vm)"/>
<rect x="47.0" y="491" width="214.0" height="8" fill="url(#h3r19)"/>
<rect x="47.0" y="491" width="214.0" height="8" fill="url(#h3r20)" mask="url(#vm)"/>
<rect x="47.0" y="499" width="214.0" height="8" fill="url(#h3r20)"/>
<rect x="47.0" y="499" width="214.0" height="8" fill="url(#h3r21)" mask="url(#vm)"/>
<rect x="47.0" y="507" width="214.0" height="8" fill="url(#h3r21)"/>
<rect x="47.0" y="507" width="214.0" height="8" fill="url(#h3r22)" mask="url(#vm)"/>
<rect x="47.0" y="515" width="214.0" height="8" fill="url(#h3r22)"/>
<rect x="47.0" y="515" width="214.0" height="8" fill="url(#h3r23)" mask="url(#vm)"/>
<rect x="47.0" y="523" width="214.0" height="6" fill="url(#h3r23)"/>
<rect x="47.0" y="523" width="214.0" height="6" fill="url(#h3r24)" mask="url(#vm)"/>
</g>
<line x1="111.29" y1="339.40" x2="111.29" y2="528.40" stroke="#1a1a1a" stroke-width="0.6" stroke-dasharray="1 1" opacity="0.6"/>
<line x1="173.88" y1="339.40" x2="173.88" y2="528.40" stroke="#1a1a1a" stroke-width="0.9" stroke-dasharray="2.4 1.2" opacity="0.7"/>
<line x1="222.47" y1="339.40" x2="222.47" y2="528.40" stroke="#1a1a1a" stroke-width="0.6" stroke-dasharray="3 1 1 1" opacity="0.45"/>
<rect x="48.7" y="339.4" width="211.2" height="189.0" fill="none" stroke="#151515" stroke-width="0.8"/>
<line x1="46.10" y1="339.40" x2="48.70" y2="339.40" stroke="#222" stroke-width="0.6" />
<text x="20.40" y="344.90" font-size="14" textLength="21.90" lengthAdjust="spacingAndGlyphs" fill="#000" stroke="#000" stroke-width="0.25" >1.0</text>
<line x1="46.10" y1="386.65" x2="48.70" y2="386.65" stroke="#222" stroke-width="0.6" />
<text x="20.40" y="392.15" font-size="14" textLength="21.90" lengthAdjust="spacingAndGlyphs" fill="#000" stroke="#000" stroke-width="0.25" >0.8</text>
<line x1="46.10" y1="433.90" x2="48.70" y2="433.90" stroke="#222" stroke-width="0.6" />
<text x="20.40" y="439.40" font-size="14" textLength="21.90" lengthAdjust="spacingAndGlyphs" fill="#000" stroke="#000" stroke-width="0.25" >0.6</text>
<line x1="46.10" y1="481.15" x2="48.70" y2="481.15" stroke="#222" stroke-width="0.6" />
<text x="20.40" y="486.65" font-size="14" textLength="21.90" lengthAdjust="spacingAndGlyphs" fill="#000" stroke="#000" stroke-width="0.25" >0.4</text>
<line x1="46.10" y1="528.40" x2="48.70" y2="528.40" stroke="#222" stroke-width="0.6" />
<text x="20.40" y="533.90" font-size="14" textLength="21.90" lengthAdjust="spacingAndGlyphs" fill="#000" stroke="#000" stroke-width="0.25" >0.2</text>
<line x1="48.70" y1="528.40" x2="48.70" y2="531.00" stroke="#222" stroke-width="0.6" />
<text x="36.30" y="544.70" font-size="14" textLength="17.04" lengthAdjust="spacingAndGlyphs" fill="#000" stroke="#000" stroke-width="0.25" >10</text>
<text x="54.00" y="539.70" font-size="10.5" textLength="6.31" lengthAdjust="spacingAndGlyphs" fill="#000" stroke="#000" stroke-width="0.08" >0</text>
<line x1="119.10" y1="528.40" x2="119.10" y2="531.00" stroke="#222" stroke-width="0.6" />
<text x="106.70" y="544.70" font-size="14" textLength="17.04" lengthAdjust="spacingAndGlyphs" fill="#000" stroke="#000" stroke-width="0.25" >10</text>
<text x="124.40" y="539.70" font-size="10.5" textLength="6.31" lengthAdjust="spacingAndGlyphs" fill="#000" stroke="#000" stroke-width="0.08" >2</text>
<line x1="189.50" y1="528.40" x2="189.50" y2="531.00" stroke="#222" stroke-width="0.6" />
<text x="177.10" y="544.70" font-size="14" textLength="17.04" lengthAdjust="spacingAndGlyphs" fill="#000" stroke="#000" stroke-width="0.25" >10</text>
<text x="194.80" y="539.70" font-size="10.5" textLength="6.31" lengthAdjust="spacingAndGlyphs" fill="#000" stroke="#000" stroke-width="0.08" >4</text>
<line x1="259.90" y1="528.40" x2="259.90" y2="531.00" stroke="#222" stroke-width="0.6" />
<text x="247.50" y="544.70" font-size="14" textLength="17.04" lengthAdjust="spacingAndGlyphs" fill="#000" stroke="#000" stroke-width="0.25" >10</text>
<text x="265.20" y="539.70" font-size="10.5" textLength="6.31" lengthAdjust="spacingAndGlyphs" fill="#000" stroke="#000" stroke-width="0.08" >6</text>
<text x="56.50" y="563.50" font-size="14.3" textLength="194.00" lengthAdjust="spacingAndGlyphs" fill="#000" stroke="#000" stroke-width="0.25" >Time window Δ<tspan font-style="italic">t</tspan> (seconds)</text>
<text transform="translate(11.70,511.50) rotate(-90)" font-size="15.0" textLength="154.27" lengthAdjust="spacingAndGlyphs" fill="#000" stroke="#000" stroke-width="0.25">Minimum similarity Θ<tspan font-style="italic" font-size="10" dy="2.5">c</tspan></text>
<rect x="54.6" y="467.3" width="95.5" height="55.69999999999999" rx="2.2" fill="#fff" fill-opacity="0.8" stroke="#ccc" stroke-opacity="0.8" stroke-width="0.6"/>
<line x1="59.00" y1="476.90" x2="82.70" y2="476.90" stroke="#1a1a1a" stroke-width="0.6" stroke-dasharray="1 1" opacity="0.3"/>
<line x1="59.00" y1="494.40" x2="82.70" y2="494.40" stroke="#1a1a1a" stroke-width="0.9" stroke-dasharray="2.4 1.2" opacity="0.8"/>
<line x1="59.00" y1="511.40" x2="82.70" y2="511.40" stroke="#1a1a1a" stroke-width="0.6" opacity="0.4"/>
<text x="93.20" y="481.30" font-size="12.5" textLength="52.01" lengthAdjust="spacingAndGlyphs" fill="#000" stroke="#000" stroke-width="0.08" >1 minute</text>
<text x="93.20" y="498.40" font-size="12.5" textLength="37.11" lengthAdjust="spacingAndGlyphs" fill="#000" stroke="#000" stroke-width="0.08" >1 hour</text>
<text x="93.20" y="515.90" font-size="12.5" textLength="31.92" lengthAdjust="spacingAndGlyphs" fill="#000" stroke="#000" stroke-width="0.08" >1 day</text>
<rect x="273.2" y="339.4" width="9.600000000000023" height="189.0" fill="url(#cb)"/>
<rect x="273.2" y="339.4" width="9.600000000000023" height="189.0" fill="none" stroke="#222" stroke-width="0.6"/>
<line x1="282.80" y1="339.40" x2="285.40" y2="339.40" stroke="#222" stroke-width="0.6" />
<text x="289.30" y="344.20" font-size="13.5" textLength="22.98" lengthAdjust="spacingAndGlyphs" fill="#000" stroke="#000" stroke-width="0.25" >100</text>
<line x1="282.80" y1="438.90" x2="285.40" y2="438.90" stroke="#222" stroke-width="0.6" />
<text x="289.30" y="443.70" font-size="13.5" textLength="15.03" lengthAdjust="spacingAndGlyphs" fill="#000" stroke="#000" stroke-width="0.25" >10</text>
<line x1="282.80" y1="495.60" x2="285.40" y2="495.60" stroke="#222" stroke-width="0.6" />
<text x="290.50" y="500.40" font-size="13.5" textLength="5.51" lengthAdjust="spacingAndGlyphs" fill="#000" stroke="#000" stroke-width="0.25" >1</text>
<line x1="282.80" y1="526.70" x2="285.40" y2="526.70" stroke="#222" stroke-width="0.6" />
<text x="289.00" y="531.50" font-size="13.5" textLength="18.90" lengthAdjust="spacingAndGlyphs" fill="#000" stroke="#000" stroke-width="0.25" >0.1</text>
<text x="227.40" y="311.40" font-size="14.3" textLength="101.55" lengthAdjust="spacingAndGlyphs" fill="#000" stroke="#000" stroke-width="0.25" >Percentage of</text>
<text x="220.80" y="327.70" font-size="14.3" textLength="112.61" lengthAdjust="spacingAndGlyphs" fill="#000" stroke="#000" stroke-width="0.25" >tweets covered</text>
<line x1="403.50" y1="515.70" x2="580.20" y2="312.00" stroke="#111" stroke-width="1.0" stroke-dasharray="3.4 1.6"/>
<path d="M401.6 513.8l3.8 3.8m0 -3.8l-3.8 3.8M419.3 513.8l3.8 3.8m0 -3.8l-3.8 3.8M429.7 513.8l3.8 3.8m0 -3.8l-3.8 3.8M437.1 513.8l3.8 3.8m0 -3.8l-3.8 3.8M442.8 513.8l3.8 3.8m0 -3.8l-3.8 3.8M447.4 513.8l3.8 3.8m0 -3.8l-3.8 3.8M451.4 513.8l3.8 3.8m0 -3.8l-3.8 3.8M454.8 513.8l3.8 3.8m0 -3.8l-3.8 3.8M457.8 513.8l3.8 3.8m0 -3.8l-3.8 3.8M462.9 513.8l3.8 3.8m0 -3.8l-3.8 3.8M465.2 513.8l3.8 3.8m0 -3.8l-3.8 3.8M467.8 513.8l3.8 3.8m0 -3.8l-3.8 3.8M470.4 513.8l3.8 3.8m0 -3.8l-3.8 3.8M476.0 513.8l3.8 3.8m0 -3.8l-3.8 3.8M478.0 513.8l3.8 3.8m0 -3.8l-3.8 3.8M479.5 513.8l3.8 3.8m0 -3.8l-3.8 3.8M481.2 513.8l3.8 3.8m0 -3.8l-3.8 3.8M482.9 513.8l3.8 3.8m0 -3.8l-3.8 3.8M484.4 513.8l3.8 3.8m0 -3.8l-3.8 3.8M486.4 513.8l3.8 3.8m0 -3.8l-3.8 3.8M494.6 513.8l3.8 3.8m0 -3.8l-3.8 3.8M499.5 513.8l3.8 3.8m0 -3.8l-3.8 3.8M507.0 513.8l3.8 3.8m0 -3.8l-3.8 3.8M437.1 493.4l3.8 3.8m0 -3.8l-3.8 3.8M457.8 493.4l3.8 3.8m0 -3.8l-3.8 3.8M465.2 493.4l3.8 3.8m0 -3.8l-3.8 3.8M467.2 493.4l3.8 3.8m0 -3.8l-3.8 3.8M469.1 493.4l3.8 3.8m0 -3.8l-3.8 3.8M474.8 493.4l3.8 3.8m0 -3.8l-3.8 3.8M476.9 493.4l3.8 3.8m0 -3.8l-3.8 3.8M478.9 493.4l3.8 3.8m0 -3.8l-3.8 3.8M486.8 493.4l3.8 3.8m0 -3.8l-3.8 3.8M492.5 493.4l3.8 3.8m0 -3.8l-3.8 3.8M497.8 493.4l3.8 3.8m0 -3.8l-3.8 3.8M504.1 493.4l3.8 3.8m0 -3.8l-3.8 3.8M506.8 493.4l3.8 3.8m0 -3.8l-3.8 3.8M514.6 493.4l3.8 3.8m0 -3.8l-3.8 3.8M457.8 481.4l3.8 3.8m0 -3.8l-3.8 3.8M467.2 481.4l3.8 3.8m0 -3.8l-3.8 3.8M476.9 481.4l3.8 3.8m0 -3.8l-3.8 3.8M479.0 481.4l3.8 3.8m0 -3.8l-3.8 3.8M481.0 481.4l3.8 3.8m0 -3.8l-3.8 3.8M483.1 481.4l3.8 3.8m0 -3.8l-3.8 3.8M487.2 481.4l3.8 3.8m0 -3.8l-3.8 3.8M498.4 481.4l3.8 3.8m0 -3.8l-3.8 3.8M500.4 481.4l3.8 3.8m0 -3.8l-3.8 3.8M501.8 481.4l3.8 3.8m0 -3.8l-3.8 3.8M507.6 481.4l3.8 3.8m0 -3.8l-3.8 3.8M509.5 481.4l3.8 3.8m0 -3.8l-3.8 3.8M512.0 481.4l3.8 3.8m0 -3.8l-3.8 3.8M469.1 472.9l3.8 3.8m0 -3.8l-3.8 3.8M479.5 472.9l3.8 3.8m0 -3.8l-3.8 3.8M490.6 472.9l3.8 3.8m0 -3.8l-3.8 3.8M494.0 472.9l3.8 3.8m0 -3.8l-3.8 3.8M505.5 472.9l3.8 3.8m0 -3.8l-3.8 3.8M507.2 472.9l3.8 3.8m0 -3.8l-3.8 3.8M511.7 472.9l3.8 3.8m0 -3.8l-3.8 3.8M523.0 472.9l3.8 3.8m0 -3.8l-3.8 3.8M488.6 466.3l3.8 3.8m0 -3.8l-3.8 3.8M581.8 384.9l3.8 3.8m0 -3.8l-3.8 3.8M571.2 394.9l3.8 3.8m0 -3.8l-3.8 3.8M566.1 400.0l3.8 3.8m0 -3.8l-3.8 3.8M567.8 406.1l3.8 3.8m0 -3.8l-3.8 3.8M558.5 407.0l3.8 3.8m0 -3.8l-3.8 3.8M562.0 408.9l3.8 3.8m0 -3.8l-3.8 3.8M563.3 423.8l3.8 3.8m0 -3.8l-3.8 3.8M552.1 418.6l3.8 3.8m0 -3.8l-3.8 3.8M554.5 419.3l3.8 3.8m0 -3.8l-3.8 3.8M546.3 422.4l3.8 3.8m0 -3.8l-3.8 3.8M552.4 428.2l3.8 3.8m0 -3.8l-3.8 3.8M552.9 431.2l3.8 3.8m0 -3.8l-3.8 3.8M555.9 435.6l3.8 3.8m0 -3.8l-3.8 3.8M540.1 429.8l3.8 3.8m0 -3.8l-3.8 3.8M538.0 432.1l3.8 3.8m0 -3.8l-3.8 3.8M540.7 433.8l3.8 3.8m0 -3.8l-3.8 3.8M544.0 432.1l3.8 3.8m0 -3.8l-3.8 3.8M547.2 432.1l3.8 3.8m0 -3.8l-3.8 3.8M547.7 434.7l3.8 3.8m0 -3.8l-3.8 3.8M548.9 437.8l3.8 3.8m0 -3.8l-3.8 3.8M544.0 439.9l3.8 3.8m0 -3.8l-3.8 3.8M507.2 439.9l3.8 3.8m0 -3.8l-3.8 3.8M508.6 445.5l3.8 3.8m0 -3.8l-3.8 3.8M511.2 445.5l3.8 3.8m0 -3.8l-3.8 3.8M517.9 445.5l3.8 3.8m0 -3.8l-3.8 3.8M519.5 448.7l3.8 3.8m0 -3.8l-3.8 3.8M523.9 449.0l3.8 3.8m0 -3.8l-3.8 3.8M524.7 452.2l3.8 3.8m0 -3.8l-3.8 3.8M527.4 456.2l3.8 3.8m0 -3.8l-3.8 3.8M530.2 453.1l3.8 3.8m0 -3.8l-3.8 3.8M529.6 449.6l3.8 3.8m0 -3.8l-3.8 3.8M530.2 445.5l3.8 3.8m0 -3.8l-3.8 3.8M532.3 445.5l3.8 3.8m0 -3.8l-3.8 3.8M535.8 445.5l3.8 3.8m0 -3.8l-3.8 3.8M506.9 452.5l3.8 3.8m0 -3.8l-3.8 3.8M506.0 460.6l3.8 3.8m0 -3.8l-3.8 3.8M510.9 460.6l3.8 3.8m0 -3.8l-3.8 3.8M534.0 460.6l3.8 3.8m0 -3.8l-3.8 3.8M539.8 460.6l3.8 3.8m0 -3.8l-3.8 3.8M561.1 492.9l3.8 3.8m0 -3.8l-3.8 3.8" stroke="#1f77b4" stroke-width="1.35" fill="none"/>
<line x1="552.20" y1="410.60" x2="559.60" y2="418.20" stroke="#f00" stroke-width="1.2" />
<line x1="559.60" y1="418.20" x2="554.30" y2="445.70" stroke="#f00" stroke-width="1.2" />
<circle cx="526.8" cy="430.4" r="2.4" fill="#f00"/>
<circle cx="558.9" cy="418.4" r="2.5" fill="#f00"/><circle cx="560.6" cy="418.0" r="2.5" fill="#f00"/>
<circle cx="604.2" cy="369.0" r="2.7" fill="#008000"/>
<text x="499.70" y="409.00" font-size="8.4" textLength="52.59" lengthAdjust="spacingAndGlyphs" fill="#f00" stroke="#f00" stroke-width="0.08" >ninefornews.nl</text>
<text x="527.70" y="426.40" font-size="8.4" textLength="8.20" lengthAdjust="spacingAndGlyphs" fill="#f00" stroke="#f00" stroke-width="0.08" >RT</text>
<text x="554.80" y="454.90" font-size="8.4" textLength="57.29" lengthAdjust="spacingAndGlyphs" fill="#f00" stroke="#f00" stroke-width="0.08" >reactnieuws.net</text>
<text x="591.70" y="364.20" font-size="8.4" textLength="22.70" lengthAdjust="spacingAndGlyphs" fill="#008000" stroke="#008000" stroke-width="0.08" >hln.be</text>
<rect x="393.7" y="301.3" width="220.90000000000003" height="223.90000000000003" fill="none" stroke="#333" stroke-width="0.7"/>
<line x1="403.50" y1="525.20" x2="403.50" y2="528.50" stroke="#222" stroke-width="0.7" />
<text x="393.70" y="543.00" font-size="15.2" textLength="13.83" lengthAdjust="spacingAndGlyphs" fill="#000" stroke="#000" stroke-width="0.25" >10</text>
<text x="408.30" y="538.00" font-size="11.2" textLength="5.81" lengthAdjust="spacingAndGlyphs" fill="#000" stroke="#000" stroke-width="0.08" >0</text>
<line x1="390.40" y1="515.70" x2="393.70" y2="515.70" stroke="#222" stroke-width="0.7" />
<text x="366.20" y="521.40" font-size="15.2" textLength="15.53" lengthAdjust="spacingAndGlyphs" fill="#000" stroke="#000" stroke-width="0.25" >10</text>
<text x="382.50" y="516.30" font-size="11.2" textLength="5.01" lengthAdjust="spacingAndGlyphs" fill="#000" stroke="#000" stroke-width="0.08" >0</text>
<line x1="462.40" y1="525.20" x2="462.40" y2="528.50" stroke="#222" stroke-width="0.7" />
<text x="452.60" y="543.00" font-size="15.2" textLength="13.83" lengthAdjust="spacingAndGlyphs" fill="#000" stroke="#000" stroke-width="0.25" >10</text>
<text x="467.20" y="538.00" font-size="11.2" textLength="5.81" lengthAdjust="spacingAndGlyphs" fill="#000" stroke="#000" stroke-width="0.08" >1</text>
<line x1="390.40" y1="447.80" x2="393.70" y2="447.80" stroke="#222" stroke-width="0.7" />
<text x="366.20" y="453.50" font-size="15.2" textLength="15.53" lengthAdjust="spacingAndGlyphs" fill="#000" stroke="#000" stroke-width="0.25" >10</text>
<text x="382.50" y="448.40" font-size="11.2" textLength="5.01" lengthAdjust="spacingAndGlyphs" fill="#000" stroke="#000" stroke-width="0.08" >1</text>
<line x1="521.30" y1="525.20" x2="521.30" y2="528.50" stroke="#222" stroke-width="0.7" />
<text x="511.50" y="543.00" font-size="15.2" textLength="13.83" lengthAdjust="spacingAndGlyphs" fill="#000" stroke="#000" stroke-width="0.25" >10</text>
<text x="526.10" y="538.00" font-size="11.2" textLength="5.81" lengthAdjust="spacingAndGlyphs" fill="#000" stroke="#000" stroke-width="0.08" >2</text>
<line x1="390.40" y1="379.90" x2="393.70" y2="379.90" stroke="#222" stroke-width="0.7" />
<text x="366.20" y="385.60" font-size="15.2" textLength="15.53" lengthAdjust="spacingAndGlyphs" fill="#000" stroke="#000" stroke-width="0.25" >10</text>
<text x="382.50" y="380.50" font-size="11.2" textLength="5.01" lengthAdjust="spacingAndGlyphs" fill="#000" stroke="#000" stroke-width="0.08" >2</text>
<line x1="580.20" y1="525.20" x2="580.20" y2="528.50" stroke="#222" stroke-width="0.7" />
<text x="570.40" y="543.00" font-size="15.2" textLength="13.83" lengthAdjust="spacingAndGlyphs" fill="#000" stroke="#000" stroke-width="0.25" >10</text>
<text x="585.00" y="538.00" font-size="11.2" textLength="5.81" lengthAdjust="spacingAndGlyphs" fill="#000" stroke="#000" stroke-width="0.08" >3</text>
<line x1="390.40" y1="312.00" x2="393.70" y2="312.00" stroke="#222" stroke-width="0.7" />
<text x="366.20" y="317.70" font-size="15.2" textLength="15.53" lengthAdjust="spacingAndGlyphs" fill="#000" stroke="#000" stroke-width="0.25" >10</text>
<text x="382.50" y="312.60" font-size="11.2" textLength="5.01" lengthAdjust="spacingAndGlyphs" fill="#000" stroke="#000" stroke-width="0.08" >3</text>
<line x1="394.38" y1="525.20" x2="394.38" y2="527.10" stroke="#222" stroke-width="0.55" />
<line x1="397.79" y1="525.20" x2="397.79" y2="527.10" stroke="#222" stroke-width="0.55" />
<line x1="391.80" y1="522.28" x2="393.70" y2="522.28" stroke="#222" stroke-width="0.55" />
<line x1="400.80" y1="525.20" x2="400.80" y2="527.10" stroke="#222" stroke-width="0.55" />
<line x1="391.80" y1="518.81" x2="393.70" y2="518.81" stroke="#222" stroke-width="0.55" />
<line x1="421.23" y1="525.20" x2="421.23" y2="527.10" stroke="#222" stroke-width="0.55" />
<line x1="391.80" y1="495.26" x2="393.70" y2="495.26" stroke="#222" stroke-width="0.55" />
<line x1="431.60" y1="525.20" x2="431.60" y2="527.10" stroke="#222" stroke-width="0.55" />
<line x1="391.80" y1="483.30" x2="393.70" y2="483.30" stroke="#222" stroke-width="0.55" />
<line x1="438.96" y1="525.20" x2="438.96" y2="527.10" stroke="#222" stroke-width="0.55" />
<line x1="391.80" y1="474.82" x2="393.70" y2="474.82" stroke="#222" stroke-width="0.55" />
<line x1="444.67" y1="525.20" x2="444.67" y2="527.10" stroke="#222" stroke-width="0.55" />
<line x1="391.80" y1="468.24" x2="393.70" y2="468.24" stroke="#222" stroke-width="0.55" />
<line x1="449.33" y1="525.20" x2="449.33" y2="527.10" stroke="#222" stroke-width="0.55" />
<line x1="391.80" y1="462.86" x2="393.70" y2="462.86" stroke="#222" stroke-width="0.55" />
<line x1="453.28" y1="525.20" x2="453.28" y2="527.10" stroke="#222" stroke-width="0.55" />
<line x1="391.80" y1="458.32" x2="393.70" y2="458.32" stroke="#222" stroke-width="0.55" />
<line x1="456.69" y1="525.20" x2="456.69" y2="527.10" stroke="#222" stroke-width="0.55" />
<line x1="391.80" y1="454.38" x2="393.70" y2="454.38" stroke="#222" stroke-width="0.55" />
<line x1="459.70" y1="525.20" x2="459.70" y2="527.10" stroke="#222" stroke-width="0.55" />
<line x1="391.80" y1="450.91" x2="393.70" y2="450.91" stroke="#222" stroke-width="0.55" />
<line x1="480.13" y1="525.20" x2="480.13" y2="527.10" stroke="#222" stroke-width="0.55" />
<line x1="391.80" y1="427.36" x2="393.70" y2="427.36" stroke="#222" stroke-width="0.55" />
<line x1="490.50" y1="525.20" x2="490.50" y2="527.10" stroke="#222" stroke-width="0.55" />
<line x1="391.80" y1="415.40" x2="393.70" y2="415.40" stroke="#222" stroke-width="0.55" />
<line x1="497.86" y1="525.20" x2="497.86" y2="527.10" stroke="#222" stroke-width="0.55" />
<line x1="391.80" y1="406.92" x2="393.70" y2="406.92" stroke="#222" stroke-width="0.55" />
<line x1="503.57" y1="525.20" x2="503.57" y2="527.10" stroke="#222" stroke-width="0.55" />
<line x1="391.80" y1="400.34" x2="393.70" y2="400.34" stroke="#222" stroke-width="0.55" />
<line x1="508.23" y1="525.20" x2="508.23" y2="527.10" stroke="#222" stroke-width="0.55" />
<line x1="391.80" y1="394.96" x2="393.70" y2="394.96" stroke="#222" stroke-width="0.55" />
<line x1="512.18" y1="525.20" x2="512.18" y2="527.10" stroke="#222" stroke-width="0.55" />
<line x1="391.80" y1="390.42" x2="393.70" y2="390.42" stroke="#222" stroke-width="0.55" />
<line x1="515.59" y1="525.20" x2="515.59" y2="527.10" stroke="#222" stroke-width="0.55" />
<line x1="391.80" y1="386.48" x2="393.70" y2="386.48" stroke="#222" stroke-width="0.55" />
<line x1="518.60" y1="525.20" x2="518.60" y2="527.10" stroke="#222" stroke-width="0.55" />
<line x1="391.80" y1="383.01" x2="393.70" y2="383.01" stroke="#222" stroke-width="0.55" />
<line x1="539.03" y1="525.20" x2="539.03" y2="527.10" stroke="#222" stroke-width="0.55" />
<line x1="391.80" y1="359.46" x2="393.70" y2="359.46" stroke="#222" stroke-width="0.55" />
<line x1="549.40" y1="525.20" x2="549.40" y2="527.10" stroke="#222" stroke-width="0.55" />
<line x1="391.80" y1="347.50" x2="393.70" y2="347.50" stroke="#222" stroke-width="0.55" />
<line x1="556.76" y1="525.20" x2="556.76" y2="527.10" stroke="#222" stroke-width="0.55" />
<line x1="391.80" y1="339.02" x2="393.70" y2="339.02" stroke="#222" stroke-width="0.55" />
<line x1="562.47" y1="525.20" x2="562.47" y2="527.10" stroke="#222" stroke-width="0.55" />
<line x1="391.80" y1="332.44" x2="393.70" y2="332.44" stroke="#222" stroke-width="0.55" />
<line x1="567.13" y1="525.20" x2="567.13" y2="527.10" stroke="#222" stroke-width="0.55" />
<line x1="391.80" y1="327.06" x2="393.70" y2="327.06" stroke="#222" stroke-width="0.55" />
<line x1="571.08" y1="525.20" x2="571.08" y2="527.10" stroke="#222" stroke-width="0.55" />
<line x1="391.80" y1="322.52" x2="393.70" y2="322.52" stroke="#222" stroke-width="0.55" />
<line x1="574.49" y1="525.20" x2="574.49" y2="527.10" stroke="#222" stroke-width="0.55" />
<line x1="391.80" y1="318.58" x2="393.70" y2="318.58" stroke="#222" stroke-width="0.55" />
<line x1="577.50" y1="525.20" x2="577.50" y2="527.10" stroke="#222" stroke-width="0.55" />
<line x1="391.80" y1="315.11" x2="393.70" y2="315.11" stroke="#222" stroke-width="0.55" />
<line x1="597.93" y1="525.20" x2="597.93" y2="527.10" stroke="#222" stroke-width="0.55" />
<line x1="608.30" y1="525.20" x2="608.30" y2="527.10" stroke="#222" stroke-width="0.55" />
<text x="454.00" y="561.80" font-size="15.2" textLength="100.57" lengthAdjust="spacingAndGlyphs" fill="#000" stroke="#000" stroke-width="0.25" >Domain degree</text>
<text transform="translate(359.80,518.40) rotate(-90)" font-size="15" textLength="210.07" lengthAdjust="spacingAndGlyphs" fill="#000" stroke="#000" stroke-width="0.25">Number of non-active users</text>
<text x="158.00" y="289.80" font-size="14.6" textLength="18.13" lengthAdjust="spacingAndGlyphs" fill="#1a1a1a" stroke="#1a1a1a" stroke-width="0.25" >(a)</text>
<text x="507.00" y="290.00" font-size="14.6" textLength="19.34" lengthAdjust="spacingAndGlyphs" fill="#1a1a1a" stroke="#1a1a1a" stroke-width="0.25" >(b)</text>
<text x="158.20" y="590.20" font-size="14.6" textLength="17.72" lengthAdjust="spacingAndGlyphs" fill="#1a1a1a" stroke="#1a1a1a" stroke-width="0.25" >(c)</text>
<text x="506.90" y="589.20" font-size="14.6" textLength="19.34" lengthAdjust="spacingAndGlyphs" fill="#1a1a1a" stroke="#1a1a1a" stroke-width="0.25" >(d)</text>
</svg>
</body></html>
